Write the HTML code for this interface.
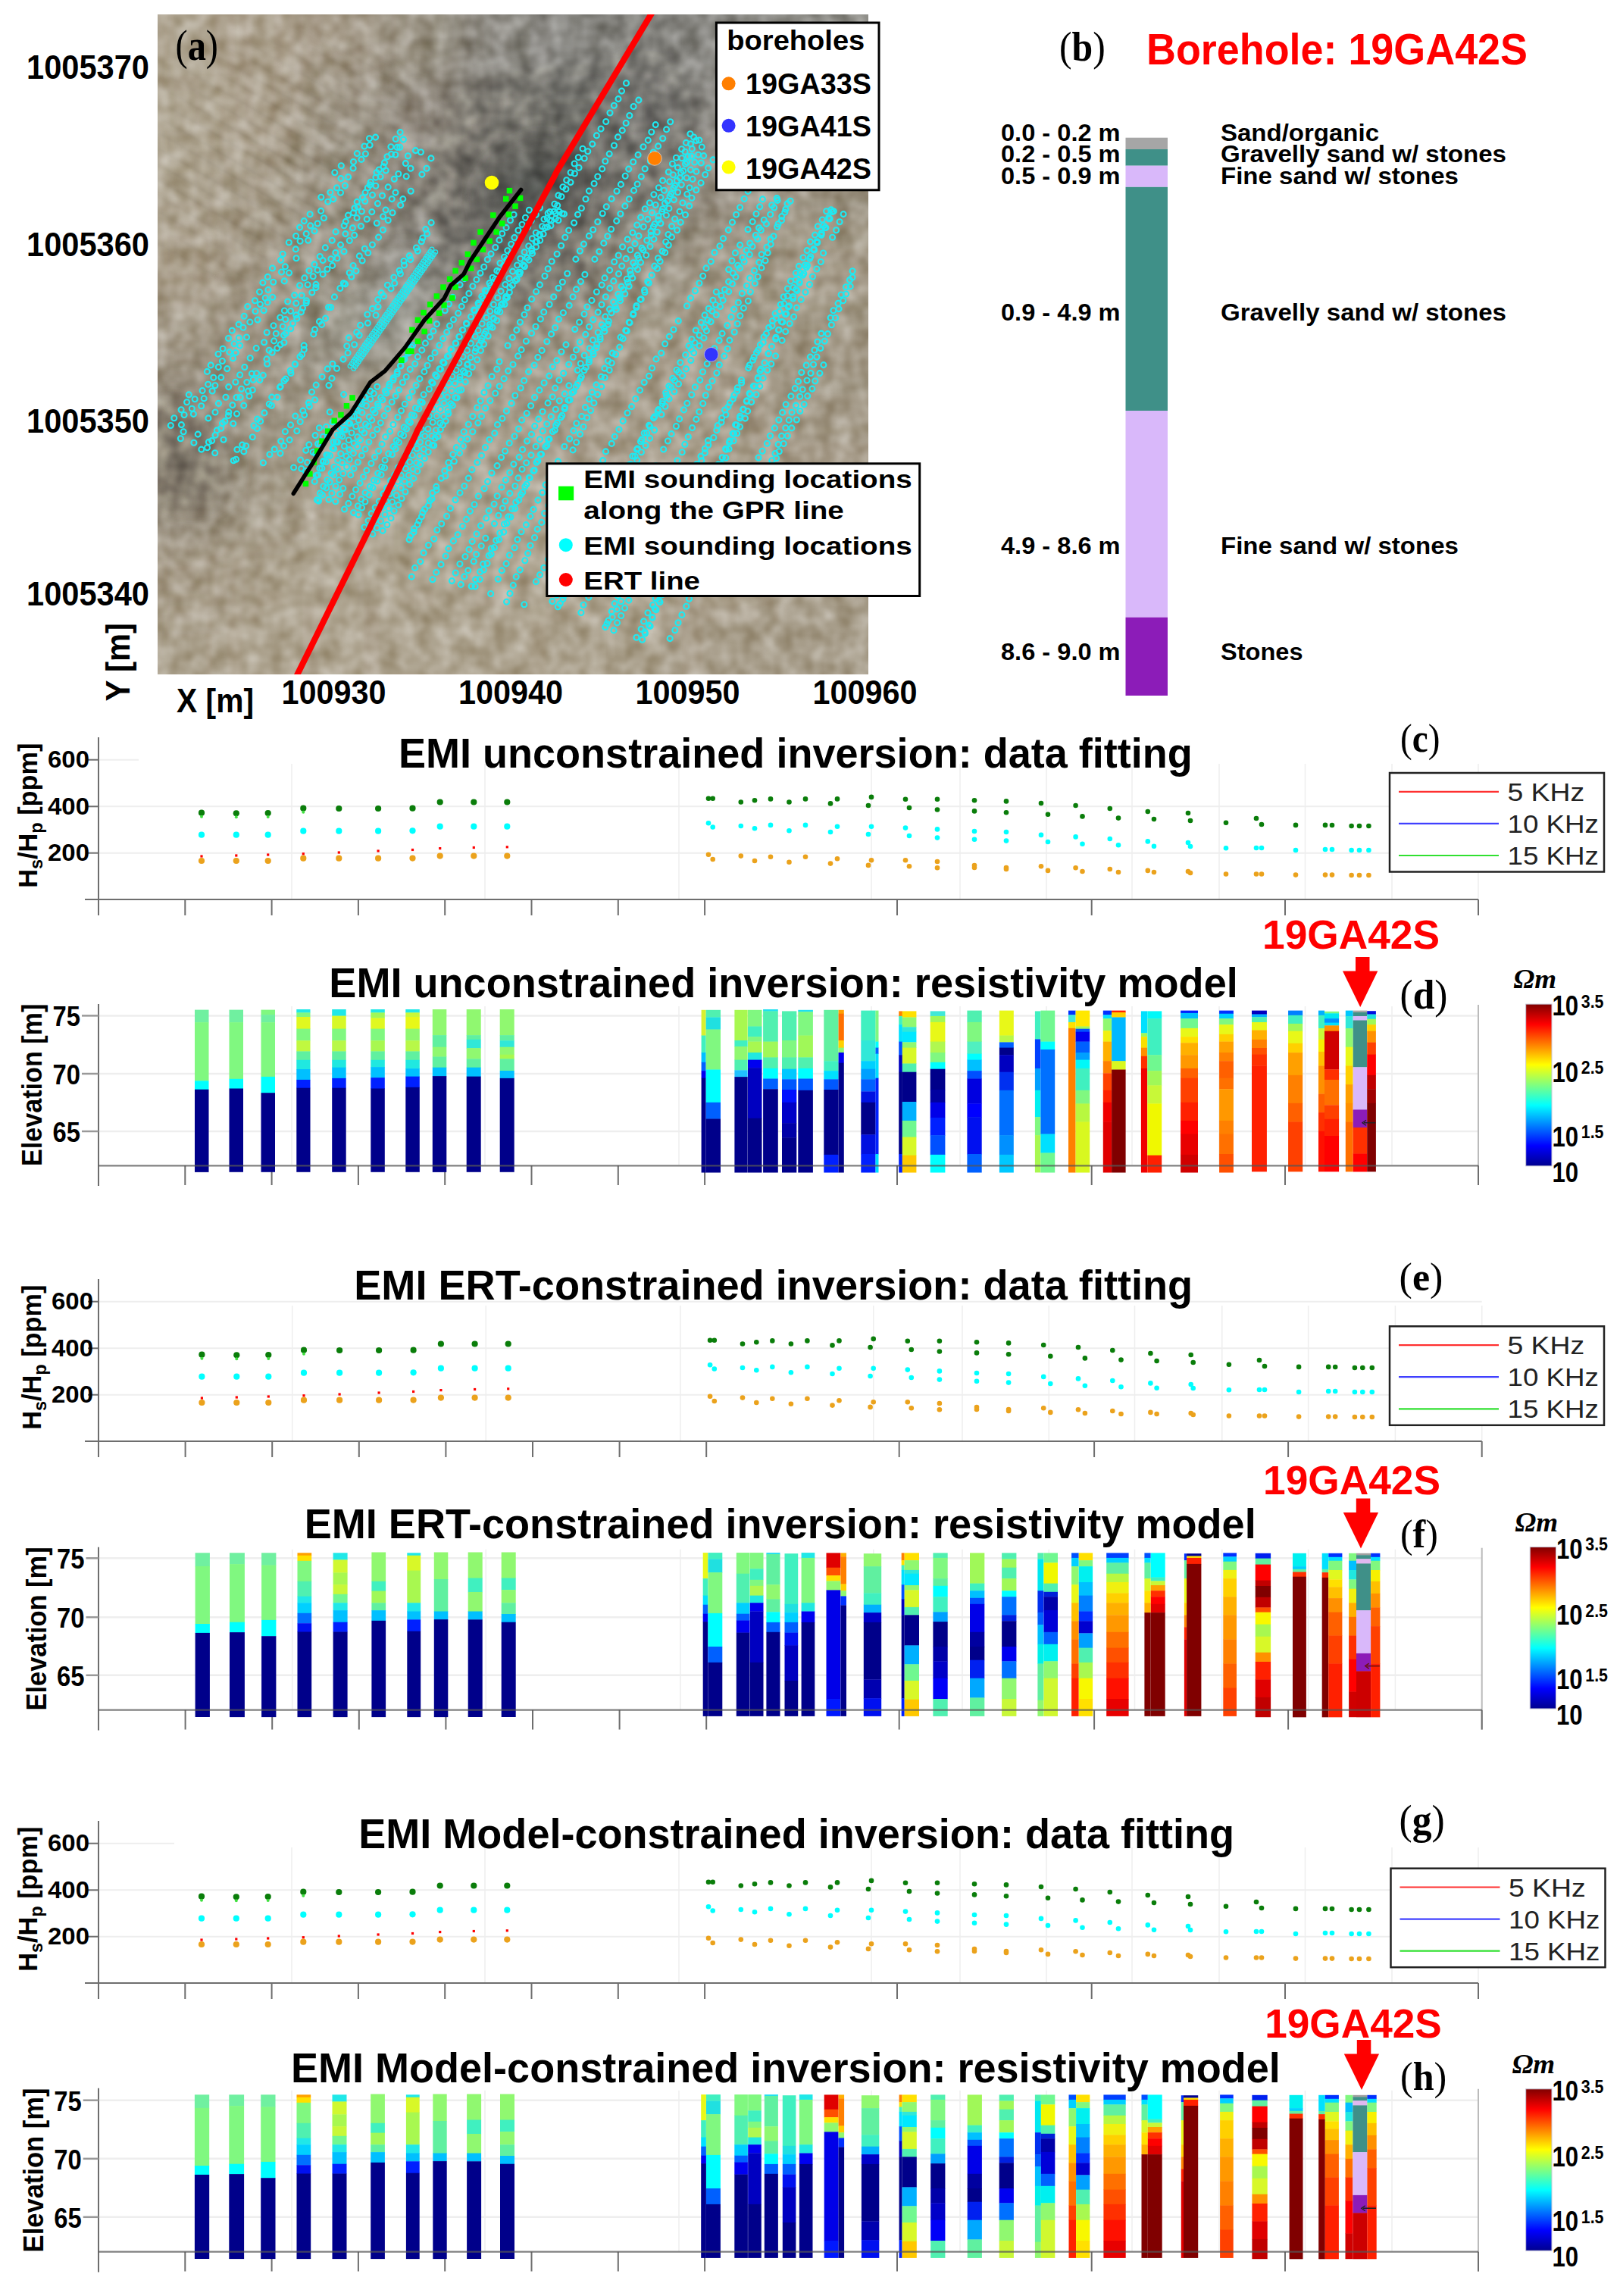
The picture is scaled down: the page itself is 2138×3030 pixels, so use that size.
<!DOCTYPE html>
<html><head><meta charset="utf-8"><title>EMI inversion figure</title>
<style>html,body{margin:0;padding:0;background:#fff;}svg{display:block;}</style></head>
<body><svg width="2138" height="3030" viewBox="0 0 2138 3030">
<rect width="2138" height="3030" fill="#fff"/>
<defs>
<clipPath id="mapclip"><rect x="208" y="19" width="938" height="871"/></clipPath>
<filter id="blur40" x="-50%" y="-50%" width="200%" height="200%"><feGaussianBlur stdDeviation="40"/></filter>
<filter id="blur30" x="-20%" y="-20%" width="140%" height="140%"><feGaussianBlur stdDeviation="30"/></filter>
<filter id="blur20" x="-50%" y="-50%" width="200%" height="200%"><feGaussianBlur stdDeviation="20"/></filter>
<filter id="blur2" x="-10%" y="-10%" width="120%" height="120%"><feGaussianBlur stdDeviation="2"/></filter>
<filter id="blur10" x="-50%" y="-50%" width="200%" height="200%"><feGaussianBlur stdDeviation="10"/></filter>
<filter id="noise" color-interpolation-filters="sRGB" x="0" y="0" width="100%" height="100%"><feTurbulence type="fractalNoise" baseFrequency="0.04" numOctaves="2" seed="3"/><feColorMatrix type="matrix" values="1.1 0 0 0 -0.05  1.1 0 0 0 -0.05  1.1 0 0 0 -0.05  0 0 0 0 1"/></filter>
</defs>
<g clip-path="url(#mapclip)">
<rect x="208" y="19" width="938" height="871" fill="#aea593"/>
<g filter="url(#blur30)">
<rect x="158" y="-60" width="142" height="160" fill="#ada38f"/>
<rect x="300" y="-60" width="100" height="160" fill="#aa9f8b"/>
<rect x="400" y="-60" width="100" height="160" fill="#a59a88"/>
<rect x="500" y="-60" width="100" height="160" fill="#9c9586"/>
<rect x="600" y="-60" width="100" height="160" fill="#8d8a83"/>
<rect x="700" y="-60" width="100" height="160" fill="#8a8984"/>
<rect x="800" y="-60" width="100" height="160" fill="#82817c"/>
<rect x="900" y="-60" width="100" height="160" fill="#898883"/>
<rect x="1000" y="-60" width="250" height="160" fill="#8b8a84"/>
<rect x="158" y="100" width="142" height="100" fill="#aea490"/>
<rect x="300" y="100" width="100" height="100" fill="#aa9f8b"/>
<rect x="400" y="100" width="100" height="100" fill="#9f9686"/>
<rect x="500" y="100" width="100" height="100" fill="#928a7f"/>
<rect x="600" y="100" width="100" height="100" fill="#7b7972"/>
<rect x="700" y="100" width="100" height="100" fill="#6b6b65"/>
<rect x="800" y="100" width="100" height="100" fill="#72716d"/>
<rect x="900" y="100" width="100" height="100" fill="#87857f"/>
<rect x="1000" y="100" width="250" height="100" fill="#8c8a83"/>
<rect x="158" y="200" width="142" height="100" fill="#aca28e"/>
<rect x="300" y="200" width="100" height="100" fill="#a69b88"/>
<rect x="400" y="200" width="100" height="100" fill="#989080"/>
<rect x="500" y="200" width="100" height="100" fill="#8a857c"/>
<rect x="600" y="200" width="100" height="100" fill="#63625d"/>
<rect x="700" y="200" width="100" height="100" fill="#5b5a56"/>
<rect x="800" y="200" width="100" height="100" fill="#848179"/>
<rect x="900" y="200" width="100" height="100" fill="#989083"/>
<rect x="1000" y="200" width="250" height="100" fill="#9f9686"/>
<rect x="158" y="300" width="142" height="100" fill="#aa9f8b"/>
<rect x="300" y="300" width="100" height="100" fill="#a19785"/>
<rect x="400" y="300" width="100" height="100" fill="#968f81"/>
<rect x="500" y="300" width="100" height="100" fill="#8c8981"/>
<rect x="600" y="300" width="100" height="100" fill="#77746f"/>
<rect x="700" y="300" width="100" height="100" fill="#807c72"/>
<rect x="800" y="300" width="100" height="100" fill="#9b9485"/>
<rect x="900" y="300" width="100" height="100" fill="#a29988"/>
<rect x="1000" y="300" width="250" height="100" fill="#a69c8a"/>
<rect x="158" y="400" width="142" height="100" fill="#a39987"/>
<rect x="300" y="400" width="100" height="100" fill="#9d9484"/>
<rect x="400" y="400" width="100" height="100" fill="#989487"/>
<rect x="500" y="400" width="100" height="100" fill="#99958a"/>
<rect x="600" y="400" width="100" height="100" fill="#9b9485"/>
<rect x="700" y="400" width="100" height="100" fill="#a09787"/>
<rect x="800" y="400" width="100" height="100" fill="#a69c8a"/>
<rect x="900" y="400" width="100" height="100" fill="#a49a88"/>
<rect x="1000" y="400" width="250" height="100" fill="#a39987"/>
<rect x="158" y="500" width="142" height="100" fill="#8c8375"/>
<rect x="300" y="500" width="100" height="100" fill="#9e9685"/>
<rect x="400" y="500" width="100" height="100" fill="#a59b8b"/>
<rect x="500" y="500" width="100" height="100" fill="#a79d8b"/>
<rect x="600" y="500" width="100" height="100" fill="#a89e8c"/>
<rect x="700" y="500" width="100" height="100" fill="#a99f8d"/>
<rect x="800" y="500" width="100" height="100" fill="#a79d8b"/>
<rect x="900" y="500" width="100" height="100" fill="#a79d8b"/>
<rect x="1000" y="500" width="250" height="100" fill="#a49a88"/>
<rect x="158" y="600" width="142" height="100" fill="#898172"/>
<rect x="300" y="600" width="100" height="100" fill="#a39986"/>
<rect x="400" y="600" width="100" height="100" fill="#aaa08d"/>
<rect x="500" y="600" width="100" height="100" fill="#aba28f"/>
<rect x="600" y="600" width="100" height="100" fill="#aba290"/>
<rect x="700" y="600" width="100" height="100" fill="#aba18f"/>
<rect x="800" y="600" width="100" height="100" fill="#aba18f"/>
<rect x="900" y="600" width="100" height="100" fill="#aba18e"/>
<rect x="1000" y="600" width="250" height="100" fill="#a89e8b"/>
<rect x="158" y="700" width="142" height="100" fill="#a79c89"/>
<rect x="300" y="700" width="100" height="100" fill="#aca28e"/>
<rect x="400" y="700" width="100" height="100" fill="#aea490"/>
<rect x="500" y="700" width="100" height="100" fill="#aca28e"/>
<rect x="600" y="700" width="100" height="100" fill="#aea490"/>
<rect x="700" y="700" width="100" height="100" fill="#ada38f"/>
<rect x="800" y="700" width="100" height="100" fill="#aca28e"/>
<rect x="900" y="700" width="100" height="100" fill="#aa9f8b"/>
<rect x="1000" y="700" width="250" height="100" fill="#a89e8b"/>
<rect x="158" y="800" width="142" height="160" fill="#aba18d"/>
<rect x="300" y="800" width="100" height="160" fill="#ada38f"/>
<rect x="400" y="800" width="100" height="160" fill="#aea490"/>
<rect x="500" y="800" width="100" height="160" fill="#ada38f"/>
<rect x="600" y="800" width="100" height="160" fill="#ada38f"/>
<rect x="700" y="800" width="100" height="160" fill="#aca28e"/>
<rect x="800" y="800" width="100" height="160" fill="#aba18d"/>
<rect x="900" y="800" width="100" height="160" fill="#a99f8c"/>
<rect x="1000" y="800" width="250" height="160" fill="#a79d8a"/>
</g>
<ellipse cx="700" cy="250" rx="60" ry="40" transform="rotate(-40 700 250)" fill="#505250" opacity="0.7" filter="url(#blur20)"/>
<ellipse cx="520" cy="400" rx="60" ry="40" transform="rotate(-50 520 400)" fill="#a4a59f" opacity="0.5" filter="url(#blur20)"/>
<ellipse cx="240" cy="600" rx="40" ry="60" transform="rotate(-40 240 600)" fill="#7e776b" opacity="0.6" filter="url(#blur20)"/>
<defs><pattern id="stripes" patternUnits="userSpaceOnUse" width="18" height="18" patternTransform="rotate(30)"><rect width="18" height="6" fill="#fff"/><rect y="9" width="18" height="4" fill="#000"/></pattern><radialGradient id="stripefade" cx="0.5" cy="0.5" r="0.5"><stop offset="0" stop-color="#fff"/><stop offset="0.6" stop-color="#fff" stop-opacity="0.6"/><stop offset="1" stop-color="#fff" stop-opacity="0"/></radialGradient><mask id="stripemask"><ellipse cx="380" cy="220" rx="260" ry="200" fill="url(#stripefade)"/></mask></defs>
<rect x="208" y="19" width="500" height="450" fill="url(#stripes)" opacity="0.06" mask="url(#stripemask)" filter="url(#blur2)"/>
<rect x="208" y="19" width="938" height="871" filter="url(#noise)" opacity="0.4" style="mix-blend-mode:overlay"/>
</g>
<g fill="none" stroke="#1eeaf2" stroke-width="2.1" clip-path="url(#mapclip)">
<circle cx="225.3" cy="561.5" r="3.5"/>
<circle cx="229.8" cy="551.8" r="3.5"/>
<circle cx="239.1" cy="540.8" r="3.5"/>
<circle cx="246.6" cy="530.7" r="3.5"/>
<circle cx="249.3" cy="520.9" r="3.5"/>
<circle cx="273.4" cy="490.4" r="3.5"/>
<circle cx="278.2" cy="481.9" r="3.5"/>
<circle cx="288" cy="467.2" r="3.5"/>
<circle cx="294.1" cy="460.2" r="3.5"/>
<circle cx="301.5" cy="446.5" r="3.5"/>
<circle cx="306.3" cy="436.3" r="3.5"/>
<circle cx="315.1" cy="428.1" r="3.5"/>
<circle cx="322.2" cy="417.3" r="3.5"/>
<circle cx="326.8" cy="404.5" r="3.5"/>
<circle cx="336.5" cy="396.8" r="3.5"/>
<circle cx="342.5" cy="385.3" r="3.5"/>
<circle cx="346.9" cy="373.1" r="3.5"/>
<circle cx="353.3" cy="365.4" r="3.5"/>
<circle cx="359.5" cy="354" r="3.5"/>
<circle cx="370.6" cy="343.2" r="3.5"/>
<circle cx="373.2" cy="335.3" r="3.5"/>
<circle cx="381.3" cy="320" r="3.5"/>
<circle cx="390.6" cy="311.5" r="3.5"/>
<circle cx="395.5" cy="300.1" r="3.5"/>
<circle cx="401.3" cy="291.6" r="3.5"/>
<circle cx="409.1" cy="282.8" r="3.5"/>
<circle cx="423.8" cy="260.3" r="3.5"/>
<circle cx="441.8" cy="227.7" r="3.5"/>
<circle cx="450.3" cy="218.8" r="3.5"/>
<circle cx="239.4" cy="560.6" r="3.5"/>
<circle cx="243.1" cy="547.5" r="3.5"/>
<circle cx="253.3" cy="539.3" r="3.5"/>
<circle cx="257.2" cy="526.8" r="3.5"/>
<circle cx="267.1" cy="515.5" r="3.5"/>
<circle cx="274.6" cy="507.2" r="3.5"/>
<circle cx="281.8" cy="498.2" r="3.5"/>
<circle cx="288.3" cy="484.4" r="3.5"/>
<circle cx="293.4" cy="476.5" r="3.5"/>
<circle cx="302.8" cy="464.6" r="3.5"/>
<circle cx="309.1" cy="453.7" r="3.5"/>
<circle cx="315.2" cy="446" r="3.5"/>
<circle cx="321" cy="432.3" r="3.5"/>
<circle cx="329.8" cy="425" r="3.5"/>
<circle cx="337" cy="410.7" r="3.5"/>
<circle cx="343.4" cy="401.6" r="3.5"/>
<circle cx="350.2" cy="393.3" r="3.5"/>
<circle cx="353.9" cy="382.5" r="3.5"/>
<circle cx="360.7" cy="372.3" r="3.5"/>
<circle cx="371.5" cy="359" r="3.5"/>
<circle cx="376.4" cy="351.9" r="3.5"/>
<circle cx="390.3" cy="328.9" r="3.5"/>
<circle cx="396.1" cy="318.3" r="3.5"/>
<circle cx="404.2" cy="308.5" r="3.5"/>
<circle cx="409.7" cy="297.9" r="3.5"/>
<circle cx="423.6" cy="278.4" r="3.5"/>
<circle cx="432.7" cy="266.3" r="3.5"/>
<circle cx="435.9" cy="254" r="3.5"/>
<circle cx="444.5" cy="247.9" r="3.5"/>
<circle cx="449.9" cy="235.6" r="3.5"/>
<circle cx="466.5" cy="213.5" r="3.5"/>
<circle cx="471.3" cy="202.6" r="3.5"/>
<circle cx="480.9" cy="193" r="3.5"/>
<circle cx="487.5" cy="182.8" r="3.5"/>
<circle cx="238.4" cy="578.8" r="3.5"/>
<circle cx="242.1" cy="569.7" r="3.5"/>
<circle cx="255.4" cy="546.4" r="3.5"/>
<circle cx="265.7" cy="535.7" r="3.5"/>
<circle cx="269.2" cy="525.9" r="3.5"/>
<circle cx="280.1" cy="516" r="3.5"/>
<circle cx="283.9" cy="508.7" r="3.5"/>
<circle cx="291.8" cy="498.1" r="3.5"/>
<circle cx="299.7" cy="486.6" r="3.5"/>
<circle cx="307.5" cy="472.9" r="3.5"/>
<circle cx="311.1" cy="465.4" r="3.5"/>
<circle cx="316.6" cy="456.1" r="3.5"/>
<circle cx="325.5" cy="445" r="3.5"/>
<circle cx="340" cy="422.1" r="3.5"/>
<circle cx="348.1" cy="409.8" r="3.5"/>
<circle cx="353.1" cy="398.9" r="3.5"/>
<circle cx="359.7" cy="392.3" r="3.5"/>
<circle cx="375.2" cy="370.9" r="3.5"/>
<circle cx="381.5" cy="360.1" r="3.5"/>
<circle cx="391" cy="340.8" r="3.5"/>
<circle cx="406.7" cy="317.2" r="3.5"/>
<circle cx="415" cy="304.9" r="3.5"/>
<circle cx="419.1" cy="295" r="3.5"/>
<circle cx="427.4" cy="287.7" r="3.5"/>
<circle cx="439.7" cy="262.9" r="3.5"/>
<circle cx="449.5" cy="254.2" r="3.5"/>
<circle cx="455.4" cy="245.1" r="3.5"/>
<circle cx="459.6" cy="233.6" r="3.5"/>
<circle cx="466.1" cy="222" r="3.5"/>
<circle cx="476.9" cy="210.4" r="3.5"/>
<circle cx="482.4" cy="203" r="3.5"/>
<circle cx="488.1" cy="191.5" r="3.5"/>
<circle cx="495.6" cy="181.1" r="3.5"/>
<circle cx="255.9" cy="584.2" r="3.5"/>
<circle cx="261.2" cy="573.1" r="3.5"/>
<circle cx="274.9" cy="551.9" r="3.5"/>
<circle cx="284" cy="544" r="3.5"/>
<circle cx="288.4" cy="532.4" r="3.5"/>
<circle cx="298" cy="524.2" r="3.5"/>
<circle cx="301.7" cy="510.6" r="3.5"/>
<circle cx="310.9" cy="504.2" r="3.5"/>
<circle cx="316.6" cy="494.7" r="3.5"/>
<circle cx="322.8" cy="484.5" r="3.5"/>
<circle cx="330.2" cy="472.5" r="3.5"/>
<circle cx="338.2" cy="459.5" r="3.5"/>
<circle cx="348.6" cy="451.8" r="3.5"/>
<circle cx="352.2" cy="438.8" r="3.5"/>
<circle cx="361" cy="429.8" r="3.5"/>
<circle cx="369.7" cy="419" r="3.5"/>
<circle cx="375.4" cy="410" r="3.5"/>
<circle cx="379.7" cy="398" r="3.5"/>
<circle cx="388.6" cy="389.6" r="3.5"/>
<circle cx="395.6" cy="376.7" r="3.5"/>
<circle cx="401.9" cy="366.9" r="3.5"/>
<circle cx="408" cy="357.3" r="3.5"/>
<circle cx="414.9" cy="348.9" r="3.5"/>
<circle cx="422.2" cy="338.5" r="3.5"/>
<circle cx="429.3" cy="326.9" r="3.5"/>
<circle cx="438.3" cy="317.3" r="3.5"/>
<circle cx="443.1" cy="305.9" r="3.5"/>
<circle cx="454.2" cy="297.7" r="3.5"/>
<circle cx="459.5" cy="284.1" r="3.5"/>
<circle cx="468" cy="274.8" r="3.5"/>
<circle cx="471.2" cy="266.4" r="3.5"/>
<circle cx="482.1" cy="254.1" r="3.5"/>
<circle cx="488.2" cy="244" r="3.5"/>
<circle cx="495.9" cy="234.1" r="3.5"/>
<circle cx="500.3" cy="224" r="3.5"/>
<circle cx="507.5" cy="214.6" r="3.5"/>
<circle cx="516.5" cy="203.5" r="3.5"/>
<circle cx="524.1" cy="194.4" r="3.5"/>
<circle cx="265.8" cy="593.1" r="3.5"/>
<circle cx="275.4" cy="583.4" r="3.5"/>
<circle cx="284.1" cy="574.2" r="3.5"/>
<circle cx="291.7" cy="565.3" r="3.5"/>
<circle cx="296.8" cy="555.9" r="3.5"/>
<circle cx="301.8" cy="543.9" r="3.5"/>
<circle cx="317.1" cy="524.4" r="3.5"/>
<circle cx="327.6" cy="516.1" r="3.5"/>
<circle cx="334.2" cy="501.3" r="3.5"/>
<circle cx="338.6" cy="492.8" r="3.5"/>
<circle cx="352" cy="473.9" r="3.5"/>
<circle cx="359.2" cy="465.2" r="3.5"/>
<circle cx="370" cy="454.8" r="3.5"/>
<circle cx="374.6" cy="442.4" r="3.5"/>
<circle cx="383.7" cy="433.7" r="3.5"/>
<circle cx="391.8" cy="420.3" r="3.5"/>
<circle cx="397.4" cy="411.9" r="3.5"/>
<circle cx="404.1" cy="399.8" r="3.5"/>
<circle cx="416.9" cy="379.6" r="3.5"/>
<circle cx="438.7" cy="350.4" r="3.5"/>
<circle cx="445" cy="340.7" r="3.5"/>
<circle cx="454" cy="331.9" r="3.5"/>
<circle cx="461.3" cy="317.5" r="3.5"/>
<circle cx="467.7" cy="310.4" r="3.5"/>
<circle cx="476.4" cy="298.5" r="3.5"/>
<circle cx="484.2" cy="289.3" r="3.5"/>
<circle cx="490.8" cy="279.6" r="3.5"/>
<circle cx="498.4" cy="268.6" r="3.5"/>
<circle cx="504.5" cy="258.2" r="3.5"/>
<circle cx="512.2" cy="246.9" r="3.5"/>
<circle cx="520.3" cy="236.3" r="3.5"/>
<circle cx="525.8" cy="229.5" r="3.5"/>
<circle cx="535.3" cy="215.6" r="3.5"/>
<circle cx="538.4" cy="205.8" r="3.5"/>
<circle cx="548.4" cy="198.6" r="3.5"/>
<circle cx="273.5" cy="590.7" r="3.5"/>
<circle cx="279.6" cy="581.6" r="3.5"/>
<circle cx="286.3" cy="567.9" r="3.5"/>
<circle cx="293.5" cy="558.6" r="3.5"/>
<circle cx="301.4" cy="548.5" r="3.5"/>
<circle cx="306.9" cy="534.6" r="3.5"/>
<circle cx="312.1" cy="524.5" r="3.5"/>
<circle cx="318.6" cy="513.3" r="3.5"/>
<circle cx="325.8" cy="504.5" r="3.5"/>
<circle cx="332.3" cy="493.1" r="3.5"/>
<circle cx="355.2" cy="462.2" r="3.5"/>
<circle cx="361.6" cy="449.9" r="3.5"/>
<circle cx="364.3" cy="440.2" r="3.5"/>
<circle cx="373.3" cy="431" r="3.5"/>
<circle cx="376.8" cy="421.5" r="3.5"/>
<circle cx="383.6" cy="410.5" r="3.5"/>
<circle cx="390.8" cy="400.3" r="3.5"/>
<circle cx="398.2" cy="390" r="3.5"/>
<circle cx="406.1" cy="375.8" r="3.5"/>
<circle cx="413.2" cy="364.8" r="3.5"/>
<circle cx="419" cy="356.4" r="3.5"/>
<circle cx="426.1" cy="343.6" r="3.5"/>
<circle cx="456.3" cy="292.4" r="3.5"/>
<circle cx="466.5" cy="280.8" r="3.5"/>
<circle cx="472.5" cy="273.1" r="3.5"/>
<circle cx="478.5" cy="260.7" r="3.5"/>
<circle cx="485.3" cy="248" r="3.5"/>
<circle cx="489.2" cy="240.2" r="3.5"/>
<circle cx="497" cy="227.7" r="3.5"/>
<circle cx="506" cy="219.9" r="3.5"/>
<circle cx="511" cy="206.8" r="3.5"/>
<circle cx="515.9" cy="193.8" r="3.5"/>
<circle cx="522.2" cy="183.5" r="3.5"/>
<circle cx="528.1" cy="174.6" r="3.5"/>
<circle cx="283.7" cy="597.8" r="3.5"/>
<circle cx="295" cy="580.2" r="3.5"/>
<circle cx="307.8" cy="559.1" r="3.5"/>
<circle cx="312.5" cy="546.1" r="3.5"/>
<circle cx="321.8" cy="535.1" r="3.5"/>
<circle cx="328.9" cy="522.8" r="3.5"/>
<circle cx="333.3" cy="514.7" r="3.5"/>
<circle cx="342.8" cy="501.5" r="3.5"/>
<circle cx="347.3" cy="495.2" r="3.5"/>
<circle cx="352.6" cy="480.2" r="3.5"/>
<circle cx="365.8" cy="459.5" r="3.5"/>
<circle cx="374.9" cy="452" r="3.5"/>
<circle cx="377.5" cy="439.8" r="3.5"/>
<circle cx="386.5" cy="426.7" r="3.5"/>
<circle cx="390.8" cy="415.9" r="3.5"/>
<circle cx="399.5" cy="406.5" r="3.5"/>
<circle cx="404.4" cy="396.8" r="3.5"/>
<circle cx="411.8" cy="386.1" r="3.5"/>
<circle cx="417" cy="375.4" r="3.5"/>
<circle cx="426.1" cy="361.9" r="3.5"/>
<circle cx="431.9" cy="355.2" r="3.5"/>
<circle cx="436.8" cy="341.7" r="3.5"/>
<circle cx="442.9" cy="333.5" r="3.5"/>
<circle cx="449.5" cy="323.1" r="3.5"/>
<circle cx="455.9" cy="308.6" r="3.5"/>
<circle cx="465.4" cy="300.9" r="3.5"/>
<circle cx="471" cy="287.6" r="3.5"/>
<circle cx="477.4" cy="279" r="3.5"/>
<circle cx="481.7" cy="265.5" r="3.5"/>
<circle cx="491.5" cy="257.4" r="3.5"/>
<circle cx="495.9" cy="245.3" r="3.5"/>
<circle cx="502.1" cy="233.2" r="3.5"/>
<circle cx="509.2" cy="225" r="3.5"/>
<circle cx="521.9" cy="204.2" r="3.5"/>
<circle cx="527.6" cy="194.4" r="3.5"/>
<circle cx="532.4" cy="184.1" r="3.5"/>
<circle cx="308.2" cy="607.7" r="3.5"/>
<circle cx="312.9" cy="593.3" r="3.5"/>
<circle cx="319.7" cy="587.1" r="3.5"/>
<circle cx="335.1" cy="561.7" r="3.5"/>
<circle cx="339.6" cy="553.1" r="3.5"/>
<circle cx="348.9" cy="544.9" r="3.5"/>
<circle cx="355.3" cy="533.3" r="3.5"/>
<circle cx="358.7" cy="524.1" r="3.5"/>
<circle cx="370.1" cy="510.1" r="3.5"/>
<circle cx="374.9" cy="502.5" r="3.5"/>
<circle cx="383.9" cy="492.5" r="3.5"/>
<circle cx="389.5" cy="480.7" r="3.5"/>
<circle cx="395.9" cy="470.8" r="3.5"/>
<circle cx="401.3" cy="461.3" r="3.5"/>
<circle cx="413.8" cy="440.9" r="3.5"/>
<circle cx="424.6" cy="428.4" r="3.5"/>
<circle cx="429.6" cy="420.1" r="3.5"/>
<circle cx="436.6" cy="405.6" r="3.5"/>
<circle cx="455.6" cy="374.9" r="3.5"/>
<circle cx="463.8" cy="365.3" r="3.5"/>
<circle cx="469.9" cy="357.5" r="3.5"/>
<circle cx="478.1" cy="344" r="3.5"/>
<circle cx="485.7" cy="333.7" r="3.5"/>
<circle cx="491.4" cy="323" r="3.5"/>
<circle cx="499.5" cy="313.1" r="3.5"/>
<circle cx="505.4" cy="303.5" r="3.5"/>
<circle cx="512.2" cy="290.7" r="3.5"/>
<circle cx="518" cy="280.8" r="3.5"/>
<circle cx="528.6" cy="270.7" r="3.5"/>
<circle cx="531.8" cy="262.6" r="3.5"/>
<circle cx="542.2" cy="252.2" r="3.5"/>
<circle cx="556.9" cy="230.1" r="3.5"/>
<circle cx="563.1" cy="222.2" r="3.5"/>
<circle cx="568.9" cy="208.9" r="3.5"/>
<circle cx="311.5" cy="606.3" r="3.5"/>
<circle cx="321.8" cy="595.9" r="3.5"/>
<circle cx="324.7" cy="588.5" r="3.5"/>
<circle cx="333.3" cy="576.7" r="3.5"/>
<circle cx="339.4" cy="565.5" r="3.5"/>
<circle cx="343.6" cy="555.9" r="3.5"/>
<circle cx="358.4" cy="535.3" r="3.5"/>
<circle cx="365.9" cy="524.2" r="3.5"/>
<circle cx="369.4" cy="511.1" r="3.5"/>
<circle cx="377.1" cy="500.1" r="3.5"/>
<circle cx="383.3" cy="489" r="3.5"/>
<circle cx="389.3" cy="480.4" r="3.5"/>
<circle cx="398.7" cy="467.8" r="3.5"/>
<circle cx="401.2" cy="455.9" r="3.5"/>
<circle cx="415.5" cy="434.9" r="3.5"/>
<circle cx="421.5" cy="424.4" r="3.5"/>
<circle cx="433.6" cy="405.5" r="3.5"/>
<circle cx="441.4" cy="391.9" r="3.5"/>
<circle cx="448.8" cy="380.5" r="3.5"/>
<circle cx="453.4" cy="373.8" r="3.5"/>
<circle cx="461.2" cy="360" r="3.5"/>
<circle cx="466.1" cy="350.5" r="3.5"/>
<circle cx="474.3" cy="337.9" r="3.5"/>
<circle cx="481.3" cy="328.2" r="3.5"/>
<circle cx="497.3" cy="294.5" r="3.5"/>
<circle cx="505.6" cy="285.8" r="3.5"/>
<circle cx="509.1" cy="277.1" r="3.5"/>
<circle cx="517.2" cy="262.6" r="3.5"/>
<circle cx="522" cy="254.1" r="3.5"/>
<circle cx="536.2" cy="232.7" r="3.5"/>
<circle cx="542" cy="222.3" r="3.5"/>
<circle cx="555.4" cy="200.7" r="3.5"/>
<circle cx="347.4" cy="610.7" r="3.5"/>
<circle cx="355.9" cy="599.8" r="3.5"/>
<circle cx="362.2" cy="592.9" r="3.5"/>
<circle cx="370.7" cy="582.3" r="3.5"/>
<circle cx="376.4" cy="569.5" r="3.5"/>
<circle cx="383.5" cy="560.7" r="3.5"/>
<circle cx="389.8" cy="549.1" r="3.5"/>
<circle cx="399.8" cy="542.1" r="3.5"/>
<circle cx="407.3" cy="531.6" r="3.5"/>
<circle cx="411.5" cy="517.4" r="3.5"/>
<circle cx="417.2" cy="508.1" r="3.5"/>
<circle cx="425.1" cy="497.2" r="3.5"/>
<circle cx="432.1" cy="486.9" r="3.5"/>
<circle cx="438.9" cy="480.2" r="3.5"/>
<circle cx="457.8" cy="456.8" r="3.5"/>
<circle cx="460.4" cy="445.9" r="3.5"/>
<circle cx="470.7" cy="438.5" r="3.5"/>
<circle cx="475.6" cy="429.3" r="3.5"/>
<circle cx="484.8" cy="415" r="3.5"/>
<circle cx="491.5" cy="407.4" r="3.5"/>
<circle cx="498.7" cy="395.6" r="3.5"/>
<circle cx="503.2" cy="386.6" r="3.5"/>
<circle cx="511.4" cy="376.3" r="3.5"/>
<circle cx="519.8" cy="366" r="3.5"/>
<circle cx="527.1" cy="357.1" r="3.5"/>
<circle cx="533" cy="344.5" r="3.5"/>
<circle cx="540.3" cy="337.6" r="3.5"/>
<circle cx="549.5" cy="327" r="3.5"/>
<circle cx="557.9" cy="314" r="3.5"/>
<circle cx="561.8" cy="302.6" r="3.5"/>
<circle cx="569.1" cy="293.9" r="3.5"/>
<circle cx="369.9" cy="598.3" r="3.5"/>
<circle cx="374.7" cy="588.4" r="3.5"/>
<circle cx="382.1" cy="580.6" r="3.5"/>
<circle cx="391.8" cy="568.8" r="3.5"/>
<circle cx="396.2" cy="556.5" r="3.5"/>
<circle cx="401.7" cy="547.6" r="3.5"/>
<circle cx="408.3" cy="536.3" r="3.5"/>
<circle cx="415.6" cy="527.8" r="3.5"/>
<circle cx="434" cy="508.6" r="3.5"/>
<circle cx="438" cy="499.2" r="3.5"/>
<circle cx="444.5" cy="486.2" r="3.5"/>
<circle cx="453" cy="474.1" r="3.5"/>
<circle cx="459.1" cy="465.8" r="3.5"/>
<circle cx="467.7" cy="454.7" r="3.5"/>
<circle cx="474.1" cy="442.5" r="3.5"/>
<circle cx="485.4" cy="426.4" r="3.5"/>
<circle cx="496.1" cy="416" r="3.5"/>
<circle cx="499" cy="404.8" r="3.5"/>
<circle cx="506.4" cy="390.9" r="3.5"/>
<circle cx="516" cy="380.9" r="3.5"/>
<circle cx="520.7" cy="373.7" r="3.5"/>
<circle cx="528.4" cy="361.2" r="3.5"/>
<circle cx="533.5" cy="350" r="3.5"/>
<circle cx="541.7" cy="342.5" r="3.5"/>
<circle cx="551.2" cy="331.2" r="3.5"/>
<circle cx="556.3" cy="318.7" r="3.5"/>
<circle cx="563.6" cy="308.4" r="3.5"/>
<circle cx="387.6" cy="617" r="3.5"/>
<circle cx="396.6" cy="607" r="3.5"/>
<circle cx="403.7" cy="594.3" r="3.5"/>
<circle cx="407.8" cy="586.9" r="3.5"/>
<circle cx="416" cy="574.6" r="3.5"/>
<circle cx="421.4" cy="564.8" r="3.5"/>
<circle cx="435.2" cy="543.7" r="3.5"/>
<circle cx="453.6" cy="520.6" r="3.5"/>
<circle cx="397.7" cy="618.5" r="3.5"/>
<circle cx="405.7" cy="610.3" r="3.5"/>
<circle cx="413.1" cy="596.8" r="3.5"/>
<circle cx="419.6" cy="585.8" r="3.5"/>
<circle cx="426.5" cy="576.2" r="3.5"/>
<circle cx="430.6" cy="563.2" r="3.5"/>
<circle cx="439.1" cy="556.7" r="3.5"/>
<circle cx="403.4" cy="621.7" r="3.5"/>
<circle cx="416.6" cy="598.7" r="3.5"/>
<circle cx="422.4" cy="585.8" r="3.5"/>
<circle cx="432.5" cy="576.6" r="3.5"/>
<circle cx="426.8" cy="608.3" r="3.5"/>
<circle cx="432.3" cy="600.6" r="3.5"/>
<circle cx="439" cy="591.5" r="3.5"/>
<circle cx="443.5" cy="583" r="3.5"/>
<circle cx="449.3" cy="574" r="3.5"/>
<circle cx="453.9" cy="566.8" r="3.5"/>
<circle cx="459.8" cy="558.1" r="3.5"/>
<circle cx="464.7" cy="549.4" r="3.5"/>
<circle cx="469.9" cy="540.3" r="3.5"/>
<circle cx="475.2" cy="531.6" r="3.5"/>
<circle cx="480.8" cy="524.7" r="3.5"/>
<circle cx="415.2" cy="635.4" r="3.5"/>
<circle cx="419.5" cy="626.7" r="3.5"/>
<circle cx="424.9" cy="618" r="3.5"/>
<circle cx="430.3" cy="609.5" r="3.5"/>
<circle cx="435.5" cy="601.4" r="3.5"/>
<circle cx="440.6" cy="592" r="3.5"/>
<circle cx="445.5" cy="583.5" r="3.5"/>
<circle cx="452" cy="575.9" r="3.5"/>
<circle cx="455.9" cy="567.2" r="3.5"/>
<circle cx="461.6" cy="559" r="3.5"/>
<circle cx="467.7" cy="549.5" r="3.5"/>
<circle cx="472.4" cy="541.9" r="3.5"/>
<circle cx="477.8" cy="533.2" r="3.5"/>
<circle cx="482.1" cy="524.3" r="3.5"/>
<circle cx="488.8" cy="516.3" r="3.5"/>
<circle cx="417.4" cy="627.5" r="3.5"/>
<circle cx="421.9" cy="618" r="3.5"/>
<circle cx="426.4" cy="609.4" r="3.5"/>
<circle cx="430.9" cy="600.4" r="3.5"/>
<circle cx="440" cy="583.5" r="3.5"/>
<circle cx="445.5" cy="574.2" r="3.5"/>
<circle cx="448.9" cy="565.5" r="3.5"/>
<circle cx="454" cy="556.9" r="3.5"/>
<circle cx="420.5" cy="661.1" r="3.5"/>
<circle cx="425.4" cy="653.2" r="3.5"/>
<circle cx="430.7" cy="643.9" r="3.5"/>
<circle cx="435.1" cy="636.3" r="3.5"/>
<circle cx="440.8" cy="626.8" r="3.5"/>
<circle cx="445.3" cy="619.2" r="3.5"/>
<circle cx="451.7" cy="610.5" r="3.5"/>
<circle cx="457" cy="602" r="3.5"/>
<circle cx="461" cy="593.6" r="3.5"/>
<circle cx="467.2" cy="584.9" r="3.5"/>
<circle cx="471.8" cy="576.6" r="3.5"/>
<circle cx="477.3" cy="567.5" r="3.5"/>
<circle cx="482.5" cy="559.7" r="3.5"/>
<circle cx="487.3" cy="550.3" r="3.5"/>
<circle cx="492.4" cy="541.1" r="3.5"/>
<circle cx="498.5" cy="533" r="3.5"/>
<circle cx="502.6" cy="524.8" r="3.5"/>
<circle cx="508.5" cy="516.1" r="3.5"/>
<circle cx="513.9" cy="506.9" r="3.5"/>
<circle cx="519.2" cy="498.9" r="3.5"/>
<circle cx="524.3" cy="490.6" r="3.5"/>
<circle cx="528.4" cy="482.7" r="3.5"/>
<circle cx="534" cy="473.7" r="3.5"/>
<circle cx="539.7" cy="465.3" r="3.5"/>
<circle cx="544.5" cy="455.8" r="3.5"/>
<circle cx="418.5" cy="659.7" r="3.5"/>
<circle cx="422.5" cy="650.9" r="3.5"/>
<circle cx="426.8" cy="641.8" r="3.5"/>
<circle cx="431.9" cy="633.2" r="3.5"/>
<circle cx="437.2" cy="624.4" r="3.5"/>
<circle cx="440.9" cy="616.3" r="3.5"/>
<circle cx="445.8" cy="607.4" r="3.5"/>
<circle cx="449.8" cy="598.7" r="3.5"/>
<circle cx="454.4" cy="588.8" r="3.5"/>
<circle cx="460.2" cy="580.8" r="3.5"/>
<circle cx="464" cy="571.2" r="3.5"/>
<circle cx="469.6" cy="562.8" r="3.5"/>
<circle cx="473.2" cy="554.4" r="3.5"/>
<circle cx="477.8" cy="544.4" r="3.5"/>
<circle cx="483.3" cy="535.5" r="3.5"/>
<circle cx="488.7" cy="526.8" r="3.5"/>
<circle cx="493.3" cy="519.2" r="3.5"/>
<circle cx="497.8" cy="510.3" r="3.5"/>
<circle cx="434" cy="659.2" r="3.5"/>
<circle cx="437.9" cy="651" r="3.5"/>
<circle cx="443" cy="641.6" r="3.5"/>
<circle cx="447.6" cy="633.4" r="3.5"/>
<circle cx="452.8" cy="624.9" r="3.5"/>
<circle cx="457.6" cy="616.3" r="3.5"/>
<circle cx="461.1" cy="606.3" r="3.5"/>
<circle cx="466.4" cy="598.1" r="3.5"/>
<circle cx="471.6" cy="589.2" r="3.5"/>
<circle cx="475.5" cy="580.9" r="3.5"/>
<circle cx="480.7" cy="571.3" r="3.5"/>
<circle cx="486.3" cy="562.4" r="3.5"/>
<circle cx="490.8" cy="554.4" r="3.5"/>
<circle cx="495" cy="544.6" r="3.5"/>
<circle cx="499.1" cy="536.4" r="3.5"/>
<circle cx="504.9" cy="527.8" r="3.5"/>
<circle cx="509.8" cy="518.7" r="3.5"/>
<circle cx="513.5" cy="510.5" r="3.5"/>
<circle cx="518.9" cy="501.5" r="3.5"/>
<circle cx="524.1" cy="493.3" r="3.5"/>
<circle cx="528.9" cy="483" r="3.5"/>
<circle cx="532.3" cy="475.1" r="3.5"/>
<circle cx="538.3" cy="466.3" r="3.5"/>
<circle cx="542.9" cy="458.1" r="3.5"/>
<circle cx="442.8" cy="661.7" r="3.5"/>
<circle cx="448.6" cy="652.3" r="3.5"/>
<circle cx="452.8" cy="644.5" r="3.5"/>
<circle cx="462.8" cy="626.8" r="3.5"/>
<circle cx="466.9" cy="618.3" r="3.5"/>
<circle cx="472.3" cy="610" r="3.5"/>
<circle cx="477.3" cy="601.1" r="3.5"/>
<circle cx="482" cy="592.8" r="3.5"/>
<circle cx="486.8" cy="583.2" r="3.5"/>
<circle cx="492" cy="574.4" r="3.5"/>
<circle cx="497.7" cy="566.6" r="3.5"/>
<circle cx="502.3" cy="558.1" r="3.5"/>
<circle cx="507.1" cy="548.6" r="3.5"/>
<circle cx="511.6" cy="539.6" r="3.5"/>
<circle cx="517.2" cy="530.5" r="3.5"/>
<circle cx="522.2" cy="522.6" r="3.5"/>
<circle cx="526.4" cy="514.7" r="3.5"/>
<circle cx="531.4" cy="504.8" r="3.5"/>
<circle cx="536.2" cy="497.4" r="3.5"/>
<circle cx="541.2" cy="487.4" r="3.5"/>
<circle cx="547.7" cy="480.1" r="3.5"/>
<circle cx="551.3" cy="470.9" r="3.5"/>
<circle cx="556.8" cy="462.1" r="3.5"/>
<circle cx="561.4" cy="452.9" r="3.5"/>
<circle cx="567.5" cy="444.6" r="3.5"/>
<circle cx="571.9" cy="436.9" r="3.5"/>
<circle cx="576.4" cy="427.6" r="3.5"/>
<circle cx="587.3" cy="409.7" r="3.5"/>
<circle cx="592.4" cy="401.3" r="3.5"/>
<circle cx="597.5" cy="392.2" r="3.5"/>
<circle cx="607" cy="375.8" r="3.5"/>
<circle cx="613" cy="367.6" r="3.5"/>
<circle cx="454.5" cy="672" r="3.5"/>
<circle cx="459.9" cy="664.4" r="3.5"/>
<circle cx="464.9" cy="654.9" r="3.5"/>
<circle cx="469.6" cy="646.3" r="3.5"/>
<circle cx="475.1" cy="637.6" r="3.5"/>
<circle cx="479.6" cy="629.2" r="3.5"/>
<circle cx="483.8" cy="620.9" r="3.5"/>
<circle cx="489.9" cy="611.5" r="3.5"/>
<circle cx="494.6" cy="603.2" r="3.5"/>
<circle cx="499.6" cy="595.2" r="3.5"/>
<circle cx="504.1" cy="586.3" r="3.5"/>
<circle cx="508.7" cy="576.6" r="3.5"/>
<circle cx="514.6" cy="569.3" r="3.5"/>
<circle cx="518.9" cy="560.3" r="3.5"/>
<circle cx="524.8" cy="550.8" r="3.5"/>
<circle cx="529.6" cy="542.1" r="3.5"/>
<circle cx="534.3" cy="533.3" r="3.5"/>
<circle cx="539.9" cy="524.8" r="3.5"/>
<circle cx="544.2" cy="516.9" r="3.5"/>
<circle cx="549.1" cy="508.6" r="3.5"/>
<circle cx="553.9" cy="499.9" r="3.5"/>
<circle cx="559.9" cy="490.4" r="3.5"/>
<circle cx="564" cy="482.3" r="3.5"/>
<circle cx="568.5" cy="472.9" r="3.5"/>
<circle cx="574" cy="465.4" r="3.5"/>
<circle cx="579.9" cy="455.8" r="3.5"/>
<circle cx="584.7" cy="446.9" r="3.5"/>
<circle cx="589.7" cy="438.4" r="3.5"/>
<circle cx="593.5" cy="430" r="3.5"/>
<circle cx="598.5" cy="421.7" r="3.5"/>
<circle cx="604.7" cy="413.4" r="3.5"/>
<circle cx="609.2" cy="404.4" r="3.5"/>
<circle cx="613.3" cy="395.6" r="3.5"/>
<circle cx="618.9" cy="387.2" r="3.5"/>
<circle cx="623.9" cy="377.8" r="3.5"/>
<circle cx="628.9" cy="369.1" r="3.5"/>
<circle cx="633.9" cy="360.4" r="3.5"/>
<circle cx="638.7" cy="352.2" r="3.5"/>
<circle cx="643.3" cy="342.5" r="3.5"/>
<circle cx="648" cy="335.1" r="3.5"/>
<circle cx="653.8" cy="326.5" r="3.5"/>
<circle cx="658.9" cy="316.9" r="3.5"/>
<circle cx="662.7" cy="308.2" r="3.5"/>
<circle cx="668.1" cy="300.4" r="3.5"/>
<circle cx="673.5" cy="290.7" r="3.5"/>
<circle cx="678.1" cy="283.2" r="3.5"/>
<circle cx="466.6" cy="676.6" r="3.5"/>
<circle cx="472.4" cy="667.8" r="3.5"/>
<circle cx="476.8" cy="658.7" r="3.5"/>
<circle cx="482" cy="650.1" r="3.5"/>
<circle cx="488.3" cy="642.1" r="3.5"/>
<circle cx="493.5" cy="633.9" r="3.5"/>
<circle cx="498.7" cy="624.6" r="3.5"/>
<circle cx="503.8" cy="616.3" r="3.5"/>
<circle cx="508.1" cy="607.2" r="3.5"/>
<circle cx="512.7" cy="598.7" r="3.5"/>
<circle cx="519.1" cy="589.4" r="3.5"/>
<circle cx="523.2" cy="581.4" r="3.5"/>
<circle cx="528.8" cy="572.8" r="3.5"/>
<circle cx="533.2" cy="563.9" r="3.5"/>
<circle cx="539.2" cy="556" r="3.5"/>
<circle cx="543.3" cy="547.7" r="3.5"/>
<circle cx="548.4" cy="538.5" r="3.5"/>
<circle cx="554.9" cy="530.1" r="3.5"/>
<circle cx="559.1" cy="520.7" r="3.5"/>
<circle cx="569.7" cy="504.1" r="3.5"/>
<circle cx="574.8" cy="494.8" r="3.5"/>
<circle cx="580" cy="486.9" r="3.5"/>
<circle cx="584.6" cy="477.9" r="3.5"/>
<circle cx="590.5" cy="470.4" r="3.5"/>
<circle cx="595" cy="461.1" r="3.5"/>
<circle cx="601.3" cy="452.8" r="3.5"/>
<circle cx="605.8" cy="444.5" r="3.5"/>
<circle cx="610.6" cy="435.5" r="3.5"/>
<circle cx="615.7" cy="427.6" r="3.5"/>
<circle cx="626.4" cy="410" r="3.5"/>
<circle cx="631.8" cy="402.5" r="3.5"/>
<circle cx="637.7" cy="393.7" r="3.5"/>
<circle cx="642.7" cy="384.1" r="3.5"/>
<circle cx="647.4" cy="376.7" r="3.5"/>
<circle cx="653.7" cy="368.3" r="3.5"/>
<circle cx="658.7" cy="358.5" r="3.5"/>
<circle cx="664.6" cy="350.5" r="3.5"/>
<circle cx="668.7" cy="342.6" r="3.5"/>
<circle cx="674.4" cy="334.4" r="3.5"/>
<circle cx="679.5" cy="326.1" r="3.5"/>
<circle cx="685.2" cy="317.7" r="3.5"/>
<circle cx="690.2" cy="308.4" r="3.5"/>
<circle cx="696.7" cy="299.6" r="3.5"/>
<circle cx="701.2" cy="291.3" r="3.5"/>
<circle cx="707.3" cy="283.4" r="3.5"/>
<circle cx="712.4" cy="274.3" r="3.5"/>
<circle cx="473.1" cy="679.2" r="3.5"/>
<circle cx="477.5" cy="670" r="3.5"/>
<circle cx="481.9" cy="662" r="3.5"/>
<circle cx="487.1" cy="653.1" r="3.5"/>
<circle cx="492" cy="643.6" r="3.5"/>
<circle cx="497.6" cy="634.9" r="3.5"/>
<circle cx="503" cy="626.5" r="3.5"/>
<circle cx="507.5" cy="617.3" r="3.5"/>
<circle cx="517.4" cy="599.7" r="3.5"/>
<circle cx="522.1" cy="592.4" r="3.5"/>
<circle cx="526.4" cy="583.8" r="3.5"/>
<circle cx="532.7" cy="574.8" r="3.5"/>
<circle cx="536.4" cy="566" r="3.5"/>
<circle cx="541.4" cy="557.5" r="3.5"/>
<circle cx="546.5" cy="548.6" r="3.5"/>
<circle cx="552.7" cy="539.5" r="3.5"/>
<circle cx="557.3" cy="531.1" r="3.5"/>
<circle cx="566.4" cy="513.5" r="3.5"/>
<circle cx="571.1" cy="505.6" r="3.5"/>
<circle cx="576.3" cy="496.6" r="3.5"/>
<circle cx="581.6" cy="487.1" r="3.5"/>
<circle cx="586" cy="479" r="3.5"/>
<circle cx="592" cy="469.6" r="3.5"/>
<circle cx="595.9" cy="460.9" r="3.5"/>
<circle cx="601.5" cy="453.3" r="3.5"/>
<circle cx="606.3" cy="444.2" r="3.5"/>
<circle cx="610.4" cy="435.5" r="3.5"/>
<circle cx="615.5" cy="426.5" r="3.5"/>
<circle cx="621.5" cy="418" r="3.5"/>
<circle cx="625.5" cy="409.1" r="3.5"/>
<circle cx="631.1" cy="400.1" r="3.5"/>
<circle cx="635.8" cy="391.2" r="3.5"/>
<circle cx="640.3" cy="383.6" r="3.5"/>
<circle cx="646" cy="373.6" r="3.5"/>
<circle cx="650.1" cy="366.3" r="3.5"/>
<circle cx="655.8" cy="357.4" r="3.5"/>
<circle cx="660" cy="347.3" r="3.5"/>
<circle cx="665.5" cy="339.3" r="3.5"/>
<circle cx="669.8" cy="330.7" r="3.5"/>
<circle cx="674.7" cy="322.2" r="3.5"/>
<circle cx="678.9" cy="313.6" r="3.5"/>
<circle cx="683.9" cy="304" r="3.5"/>
<circle cx="689" cy="296.3" r="3.5"/>
<circle cx="693.5" cy="287.2" r="3.5"/>
<circle cx="698.4" cy="277.3" r="3.5"/>
<circle cx="487.9" cy="694.9" r="3.5"/>
<circle cx="494" cy="687" r="3.5"/>
<circle cx="498.4" cy="677.7" r="3.5"/>
<circle cx="504.5" cy="669.4" r="3.5"/>
<circle cx="509.4" cy="661.4" r="3.5"/>
<circle cx="514.3" cy="651.7" r="3.5"/>
<circle cx="519.3" cy="644.1" r="3.5"/>
<circle cx="525" cy="635.4" r="3.5"/>
<circle cx="529.4" cy="627.4" r="3.5"/>
<circle cx="535.5" cy="618.4" r="3.5"/>
<circle cx="540.7" cy="609.8" r="3.5"/>
<circle cx="544.3" cy="600.8" r="3.5"/>
<circle cx="550.2" cy="592" r="3.5"/>
<circle cx="554.5" cy="583.4" r="3.5"/>
<circle cx="560.7" cy="575.6" r="3.5"/>
<circle cx="564.9" cy="566.2" r="3.5"/>
<circle cx="571.2" cy="557.3" r="3.5"/>
<circle cx="576.4" cy="549" r="3.5"/>
<circle cx="581.1" cy="540" r="3.5"/>
<circle cx="586.2" cy="532.1" r="3.5"/>
<circle cx="590.3" cy="524.1" r="3.5"/>
<circle cx="596.2" cy="515.7" r="3.5"/>
<circle cx="600.5" cy="505.9" r="3.5"/>
<circle cx="607" cy="497.2" r="3.5"/>
<circle cx="611.4" cy="489.6" r="3.5"/>
<circle cx="616.6" cy="481.3" r="3.5"/>
<circle cx="621" cy="471.9" r="3.5"/>
<circle cx="627.1" cy="463.8" r="3.5"/>
<circle cx="632.3" cy="455" r="3.5"/>
<circle cx="636" cy="446.4" r="3.5"/>
<circle cx="641.2" cy="437.4" r="3.5"/>
<circle cx="646.3" cy="428.2" r="3.5"/>
<circle cx="651.4" cy="419.9" r="3.5"/>
<circle cx="656.1" cy="410.9" r="3.5"/>
<circle cx="661.4" cy="402.2" r="3.5"/>
<circle cx="667.4" cy="393.9" r="3.5"/>
<circle cx="672.4" cy="385.8" r="3.5"/>
<circle cx="676.3" cy="376.4" r="3.5"/>
<circle cx="682.1" cy="368.7" r="3.5"/>
<circle cx="686.5" cy="359.3" r="3.5"/>
<circle cx="692.3" cy="351.8" r="3.5"/>
<circle cx="698" cy="343.1" r="3.5"/>
<circle cx="702.5" cy="334.4" r="3.5"/>
<circle cx="707.5" cy="325.9" r="3.5"/>
<circle cx="712.7" cy="317.2" r="3.5"/>
<circle cx="717.1" cy="308.7" r="3.5"/>
<circle cx="722.5" cy="299.6" r="3.5"/>
<circle cx="727.8" cy="291" r="3.5"/>
<circle cx="733.6" cy="281.6" r="3.5"/>
<circle cx="480.9" cy="695.8" r="3.5"/>
<circle cx="486" cy="687.3" r="3.5"/>
<circle cx="490.2" cy="677.9" r="3.5"/>
<circle cx="495.3" cy="669.8" r="3.5"/>
<circle cx="500.3" cy="661.6" r="3.5"/>
<circle cx="505.8" cy="651.6" r="3.5"/>
<circle cx="510.6" cy="644.1" r="3.5"/>
<circle cx="515.5" cy="634.4" r="3.5"/>
<circle cx="520.9" cy="626.9" r="3.5"/>
<circle cx="525.6" cy="617" r="3.5"/>
<circle cx="531.8" cy="609.2" r="3.5"/>
<circle cx="536" cy="599.6" r="3.5"/>
<circle cx="541.3" cy="592.1" r="3.5"/>
<circle cx="546.6" cy="583.2" r="3.5"/>
<circle cx="552.1" cy="573.9" r="3.5"/>
<circle cx="556.3" cy="566.7" r="3.5"/>
<circle cx="566.4" cy="549.3" r="3.5"/>
<circle cx="571.9" cy="540.1" r="3.5"/>
<circle cx="576.9" cy="530.7" r="3.5"/>
<circle cx="581.9" cy="522.8" r="3.5"/>
<circle cx="586.2" cy="514.7" r="3.5"/>
<circle cx="592.3" cy="505.6" r="3.5"/>
<circle cx="596.9" cy="496.9" r="3.5"/>
<circle cx="602.2" cy="488.5" r="3.5"/>
<circle cx="605.9" cy="479.1" r="3.5"/>
<circle cx="611" cy="470.8" r="3.5"/>
<circle cx="616.5" cy="462.4" r="3.5"/>
<circle cx="621.3" cy="453.1" r="3.5"/>
<circle cx="627.3" cy="444" r="3.5"/>
<circle cx="631" cy="436" r="3.5"/>
<circle cx="636.2" cy="427.2" r="3.5"/>
<circle cx="642" cy="419.1" r="3.5"/>
<circle cx="646.7" cy="410.8" r="3.5"/>
<circle cx="651.4" cy="401.9" r="3.5"/>
<circle cx="656.8" cy="393" r="3.5"/>
<circle cx="661.1" cy="384.4" r="3.5"/>
<circle cx="666.8" cy="375.5" r="3.5"/>
<circle cx="671.9" cy="367.5" r="3.5"/>
<circle cx="676.6" cy="358.1" r="3.5"/>
<circle cx="682.6" cy="350" r="3.5"/>
<circle cx="686.8" cy="341.3" r="3.5"/>
<circle cx="692.1" cy="332.8" r="3.5"/>
<circle cx="697.7" cy="324.7" r="3.5"/>
<circle cx="702.4" cy="314.9" r="3.5"/>
<circle cx="707.3" cy="307.3" r="3.5"/>
<circle cx="718" cy="289.2" r="3.5"/>
<circle cx="723.2" cy="281.4" r="3.5"/>
<circle cx="491.8" cy="704.9" r="3.5"/>
<circle cx="497.5" cy="696.7" r="3.5"/>
<circle cx="502.6" cy="687.7" r="3.5"/>
<circle cx="508.1" cy="679" r="3.5"/>
<circle cx="513" cy="671" r="3.5"/>
<circle cx="517.7" cy="662.5" r="3.5"/>
<circle cx="523.1" cy="653.7" r="3.5"/>
<circle cx="529.1" cy="643.9" r="3.5"/>
<circle cx="533.8" cy="635.3" r="3.5"/>
<circle cx="539.3" cy="627.3" r="3.5"/>
<circle cx="545" cy="619" r="3.5"/>
<circle cx="549.6" cy="610.7" r="3.5"/>
<circle cx="553.9" cy="601.7" r="3.5"/>
<circle cx="559.2" cy="592.8" r="3.5"/>
<circle cx="565.3" cy="584.8" r="3.5"/>
<circle cx="569.8" cy="575.5" r="3.5"/>
<circle cx="575.5" cy="567.7" r="3.5"/>
<circle cx="580.8" cy="558.4" r="3.5"/>
<circle cx="585.6" cy="549.8" r="3.5"/>
<circle cx="591" cy="541.3" r="3.5"/>
<circle cx="595" cy="532.9" r="3.5"/>
<circle cx="600.9" cy="524.7" r="3.5"/>
<circle cx="605.5" cy="515.2" r="3.5"/>
<circle cx="736.9" cy="290.7" r="3.5"/>
<circle cx="742" cy="281.8" r="3.5"/>
<circle cx="505.1" cy="700.4" r="3.5"/>
<circle cx="510.8" cy="692.5" r="3.5"/>
<circle cx="516" cy="683.8" r="3.5"/>
<circle cx="520.1" cy="674.3" r="3.5"/>
<circle cx="525.8" cy="666.4" r="3.5"/>
<circle cx="530.1" cy="657.7" r="3.5"/>
<circle cx="534.9" cy="649" r="3.5"/>
<circle cx="540.6" cy="639.3" r="3.5"/>
<circle cx="545.8" cy="631.4" r="3.5"/>
<circle cx="550.8" cy="621.8" r="3.5"/>
<circle cx="554.5" cy="612.9" r="3.5"/>
<circle cx="560.3" cy="604.9" r="3.5"/>
<circle cx="565.2" cy="596.5" r="3.5"/>
<circle cx="570.5" cy="587.6" r="3.5"/>
<circle cx="574.2" cy="578.2" r="3.5"/>
<circle cx="584.4" cy="560.8" r="3.5"/>
<circle cx="726.9" cy="297.7" r="3.5"/>
<circle cx="733.2" cy="288.6" r="3.5"/>
<circle cx="737.8" cy="279.1" r="3.5"/>
<circle cx="744.5" cy="282.4" r="3.5"/>
<circle cx="607" cy="501.1" r="3.5"/>
<circle cx="613.7" cy="491.6" r="3.5"/>
<circle cx="617.4" cy="480.3" r="3.5"/>
<circle cx="628.3" cy="459.5" r="3.5"/>
<circle cx="635.1" cy="449.8" r="3.5"/>
<circle cx="639.6" cy="440.8" r="3.5"/>
<circle cx="647.1" cy="431" r="3.5"/>
<circle cx="651.6" cy="421" r="3.5"/>
<circle cx="656.9" cy="409.1" r="3.5"/>
<circle cx="663" cy="400.8" r="3.5"/>
<circle cx="667.9" cy="391.3" r="3.5"/>
<circle cx="672.7" cy="379.3" r="3.5"/>
<circle cx="680.1" cy="370.5" r="3.5"/>
<circle cx="684.3" cy="359.3" r="3.5"/>
<circle cx="690.2" cy="349.6" r="3.5"/>
<circle cx="695.7" cy="340.1" r="3.5"/>
<circle cx="701.7" cy="331.1" r="3.5"/>
<circle cx="708.4" cy="318.9" r="3.5"/>
<circle cx="712.6" cy="310.4" r="3.5"/>
<circle cx="719.1" cy="300.7" r="3.5"/>
<circle cx="725.2" cy="290.3" r="3.5"/>
<circle cx="731.1" cy="279.1" r="3.5"/>
<circle cx="735.7" cy="271.1" r="3.5"/>
<circle cx="741" cy="259.5" r="3.5"/>
<circle cx="746.9" cy="249.5" r="3.5"/>
<circle cx="753" cy="240.6" r="3.5"/>
<circle cx="758.4" cy="229" r="3.5"/>
<circle cx="764" cy="221.3" r="3.5"/>
<circle cx="771.2" cy="209" r="3.5"/>
<circle cx="775.8" cy="199.7" r="3.5"/>
<circle cx="781.8" cy="190.1" r="3.5"/>
<circle cx="787.4" cy="178.9" r="3.5"/>
<circle cx="793.1" cy="170" r="3.5"/>
<circle cx="799.7" cy="160.5" r="3.5"/>
<circle cx="805" cy="149" r="3.5"/>
<circle cx="810.4" cy="139.2" r="3.5"/>
<circle cx="816" cy="130.6" r="3.5"/>
<circle cx="820.5" cy="120.1" r="3.5"/>
<circle cx="826.5" cy="109.8" r="3.5"/>
<circle cx="572.7" cy="587.9" r="3.5"/>
<circle cx="578" cy="575.9" r="3.5"/>
<circle cx="581.3" cy="566.9" r="3.5"/>
<circle cx="588.3" cy="555.6" r="3.5"/>
<circle cx="591.7" cy="545.7" r="3.5"/>
<circle cx="597.3" cy="535.1" r="3.5"/>
<circle cx="603" cy="525" r="3.5"/>
<circle cx="608.8" cy="514.6" r="3.5"/>
<circle cx="614.2" cy="503.9" r="3.5"/>
<circle cx="618.6" cy="493.3" r="3.5"/>
<circle cx="623.4" cy="484.5" r="3.5"/>
<circle cx="629.7" cy="474.8" r="3.5"/>
<circle cx="634.4" cy="462.5" r="3.5"/>
<circle cx="638.5" cy="454.2" r="3.5"/>
<circle cx="644.2" cy="443.5" r="3.5"/>
<circle cx="650" cy="432.1" r="3.5"/>
<circle cx="655.6" cy="423" r="3.5"/>
<circle cx="659.8" cy="411.5" r="3.5"/>
<circle cx="666" cy="401.6" r="3.5"/>
<circle cx="669.4" cy="392.5" r="3.5"/>
<circle cx="685.6" cy="361.8" r="3.5"/>
<circle cx="692" cy="350.9" r="3.5"/>
<circle cx="695.3" cy="340.1" r="3.5"/>
<circle cx="701.8" cy="328.7" r="3.5"/>
<circle cx="707" cy="319.4" r="3.5"/>
<circle cx="711.9" cy="309.5" r="3.5"/>
<circle cx="715.6" cy="298.8" r="3.5"/>
<circle cx="722.2" cy="287.8" r="3.5"/>
<circle cx="725.8" cy="279.5" r="3.5"/>
<circle cx="731.9" cy="269.2" r="3.5"/>
<circle cx="736.9" cy="257.9" r="3.5"/>
<circle cx="742.9" cy="246.8" r="3.5"/>
<circle cx="747.7" cy="237.7" r="3.5"/>
<circle cx="753.1" cy="227.8" r="3.5"/>
<circle cx="758.1" cy="216" r="3.5"/>
<circle cx="763.3" cy="207.7" r="3.5"/>
<circle cx="769" cy="196.2" r="3.5"/>
<circle cx="541.8" cy="706.9" r="3.5"/>
<circle cx="546.5" cy="697.8" r="3.5"/>
<circle cx="553" cy="687.4" r="3.5"/>
<circle cx="557.9" cy="676.4" r="3.5"/>
<circle cx="565.3" cy="667.3" r="3.5"/>
<circle cx="570" cy="658.3" r="3.5"/>
<circle cx="576.1" cy="646.6" r="3.5"/>
<circle cx="587.9" cy="628" r="3.5"/>
<circle cx="593.1" cy="617.5" r="3.5"/>
<circle cx="599.4" cy="608.7" r="3.5"/>
<circle cx="606.5" cy="597.9" r="3.5"/>
<circle cx="611.3" cy="588.7" r="3.5"/>
<circle cx="616.9" cy="579.4" r="3.5"/>
<circle cx="623.8" cy="569.7" r="3.5"/>
<circle cx="630.8" cy="558.1" r="3.5"/>
<circle cx="635.6" cy="549.4" r="3.5"/>
<circle cx="640.7" cy="538.6" r="3.5"/>
<circle cx="646.8" cy="528.7" r="3.5"/>
<circle cx="653.7" cy="519" r="3.5"/>
<circle cx="659.1" cy="509.8" r="3.5"/>
<circle cx="665.1" cy="499.8" r="3.5"/>
<circle cx="670.6" cy="489.6" r="3.5"/>
<circle cx="677" cy="481" r="3.5"/>
<circle cx="683.6" cy="469.9" r="3.5"/>
<circle cx="688.1" cy="461.6" r="3.5"/>
<circle cx="694.4" cy="450.3" r="3.5"/>
<circle cx="701.5" cy="439.8" r="3.5"/>
<circle cx="707" cy="431" r="3.5"/>
<circle cx="713.4" cy="421" r="3.5"/>
<circle cx="717.7" cy="411.7" r="3.5"/>
<circle cx="725.1" cy="401.7" r="3.5"/>
<circle cx="730.7" cy="391.7" r="3.5"/>
<circle cx="737" cy="380.3" r="3.5"/>
<circle cx="742.4" cy="372.3" r="3.5"/>
<circle cx="748.7" cy="361" r="3.5"/>
<circle cx="759.9" cy="342.1" r="3.5"/>
<circle cx="765.4" cy="331.3" r="3.5"/>
<circle cx="770.4" cy="322.1" r="3.5"/>
<circle cx="777.4" cy="311.4" r="3.5"/>
<circle cx="782.7" cy="303.3" r="3.5"/>
<circle cx="788.8" cy="292.8" r="3.5"/>
<circle cx="795.2" cy="281.8" r="3.5"/>
<circle cx="800.3" cy="272.8" r="3.5"/>
<circle cx="807.1" cy="262.4" r="3.5"/>
<circle cx="814" cy="252.3" r="3.5"/>
<circle cx="819.4" cy="243.4" r="3.5"/>
<circle cx="825.2" cy="232.2" r="3.5"/>
<circle cx="829.7" cy="223.1" r="3.5"/>
<circle cx="835.7" cy="213.7" r="3.5"/>
<circle cx="842.1" cy="204.4" r="3.5"/>
<circle cx="849" cy="193.8" r="3.5"/>
<circle cx="855.3" cy="185.1" r="3.5"/>
<circle cx="859.8" cy="174.2" r="3.5"/>
<circle cx="865.2" cy="164.6" r="3.5"/>
<circle cx="540.1" cy="712.1" r="3.5"/>
<circle cx="546" cy="702.2" r="3.5"/>
<circle cx="550.9" cy="692.4" r="3.5"/>
<circle cx="556.4" cy="681.8" r="3.5"/>
<circle cx="560.6" cy="672" r="3.5"/>
<circle cx="567.4" cy="660.8" r="3.5"/>
<circle cx="570.8" cy="650.6" r="3.5"/>
<circle cx="575.8" cy="642.1" r="3.5"/>
<circle cx="582.3" cy="631.1" r="3.5"/>
<circle cx="586.8" cy="621.5" r="3.5"/>
<circle cx="591.9" cy="610.5" r="3.5"/>
<circle cx="597.8" cy="599.7" r="3.5"/>
<circle cx="602.4" cy="590.6" r="3.5"/>
<circle cx="608.2" cy="580" r="3.5"/>
<circle cx="612.2" cy="569.7" r="3.5"/>
<circle cx="618.3" cy="560" r="3.5"/>
<circle cx="623.8" cy="549.5" r="3.5"/>
<circle cx="629.7" cy="538" r="3.5"/>
<circle cx="634.1" cy="529" r="3.5"/>
<circle cx="638.9" cy="517.9" r="3.5"/>
<circle cx="644.1" cy="509" r="3.5"/>
<circle cx="649.2" cy="496.9" r="3.5"/>
<circle cx="655.8" cy="487.2" r="3.5"/>
<circle cx="659" cy="477.2" r="3.5"/>
<circle cx="670.1" cy="456" r="3.5"/>
<circle cx="676.3" cy="445.2" r="3.5"/>
<circle cx="681.8" cy="435.6" r="3.5"/>
<circle cx="686.4" cy="425.2" r="3.5"/>
<circle cx="692" cy="415.2" r="3.5"/>
<circle cx="696" cy="406.2" r="3.5"/>
<circle cx="701.7" cy="394.7" r="3.5"/>
<circle cx="707.6" cy="384.9" r="3.5"/>
<circle cx="712.4" cy="375.9" r="3.5"/>
<circle cx="719" cy="364.3" r="3.5"/>
<circle cx="723.2" cy="354.7" r="3.5"/>
<circle cx="728.2" cy="345" r="3.5"/>
<circle cx="735.1" cy="335.2" r="3.5"/>
<circle cx="740.6" cy="324.3" r="3.5"/>
<circle cx="745.8" cy="313.2" r="3.5"/>
<circle cx="750.6" cy="304" r="3.5"/>
<circle cx="757.6" cy="294.1" r="3.5"/>
<circle cx="762.5" cy="283.1" r="3.5"/>
<circle cx="767.4" cy="274.7" r="3.5"/>
<circle cx="773" cy="262.8" r="3.5"/>
<circle cx="777.4" cy="252.1" r="3.5"/>
<circle cx="784.1" cy="242.2" r="3.5"/>
<circle cx="788.8" cy="233" r="3.5"/>
<circle cx="794.7" cy="222.9" r="3.5"/>
<circle cx="798.8" cy="212.7" r="3.5"/>
<circle cx="804.2" cy="203.1" r="3.5"/>
<circle cx="810.5" cy="192" r="3.5"/>
<circle cx="815.5" cy="180.9" r="3.5"/>
<circle cx="821.3" cy="172.1" r="3.5"/>
<circle cx="826.2" cy="162.5" r="3.5"/>
<circle cx="830.8" cy="152.5" r="3.5"/>
<circle cx="836.1" cy="140.5" r="3.5"/>
<circle cx="842.9" cy="132.1" r="3.5"/>
<circle cx="543.2" cy="761.1" r="3.5"/>
<circle cx="547.6" cy="749.4" r="3.5"/>
<circle cx="554.8" cy="741.1" r="3.5"/>
<circle cx="559.1" cy="729.6" r="3.5"/>
<circle cx="565.4" cy="719.5" r="3.5"/>
<circle cx="572.7" cy="711.2" r="3.5"/>
<circle cx="576.8" cy="699.5" r="3.5"/>
<circle cx="582.7" cy="691.2" r="3.5"/>
<circle cx="589.6" cy="681.2" r="3.5"/>
<circle cx="594.5" cy="670.7" r="3.5"/>
<circle cx="601" cy="659.7" r="3.5"/>
<circle cx="607" cy="650.4" r="3.5"/>
<circle cx="612.8" cy="641.5" r="3.5"/>
<circle cx="618.2" cy="631.1" r="3.5"/>
<circle cx="622.9" cy="619.9" r="3.5"/>
<circle cx="629.8" cy="610.2" r="3.5"/>
<circle cx="635.5" cy="601.3" r="3.5"/>
<circle cx="640.5" cy="590.6" r="3.5"/>
<circle cx="645.9" cy="580.2" r="3.5"/>
<circle cx="652.8" cy="571.6" r="3.5"/>
<circle cx="656.5" cy="560.4" r="3.5"/>
<circle cx="662.9" cy="552.3" r="3.5"/>
<circle cx="668.4" cy="542.4" r="3.5"/>
<circle cx="675.1" cy="532.2" r="3.5"/>
<circle cx="679.8" cy="522" r="3.5"/>
<circle cx="687.2" cy="512" r="3.5"/>
<circle cx="691.6" cy="502.2" r="3.5"/>
<circle cx="697.5" cy="490.6" r="3.5"/>
<circle cx="705.1" cy="482" r="3.5"/>
<circle cx="709.8" cy="471.6" r="3.5"/>
<circle cx="715.2" cy="462.5" r="3.5"/>
<circle cx="721.8" cy="450.8" r="3.5"/>
<circle cx="727.6" cy="440.9" r="3.5"/>
<circle cx="732.7" cy="432.5" r="3.5"/>
<circle cx="737.4" cy="421.2" r="3.5"/>
<circle cx="743.4" cy="412.8" r="3.5"/>
<circle cx="751.2" cy="403.1" r="3.5"/>
<circle cx="756.1" cy="391.7" r="3.5"/>
<circle cx="760.5" cy="381.9" r="3.5"/>
<circle cx="766.4" cy="371.6" r="3.5"/>
<circle cx="771.9" cy="362.3" r="3.5"/>
<circle cx="784.9" cy="342.1" r="3.5"/>
<circle cx="790.8" cy="332.1" r="3.5"/>
<circle cx="796.8" cy="320.9" r="3.5"/>
<circle cx="801.8" cy="311.8" r="3.5"/>
<circle cx="806.6" cy="302.5" r="3.5"/>
<circle cx="813.7" cy="291.6" r="3.5"/>
<circle cx="818.9" cy="282.2" r="3.5"/>
<circle cx="824.8" cy="271.9" r="3.5"/>
<circle cx="830.3" cy="262.7" r="3.5"/>
<circle cx="836.5" cy="251.4" r="3.5"/>
<circle cx="841.1" cy="243" r="3.5"/>
<circle cx="846.3" cy="233.1" r="3.5"/>
<circle cx="851.2" cy="222.8" r="3.5"/>
<circle cx="858.5" cy="212.7" r="3.5"/>
<circle cx="862.3" cy="201" r="3.5"/>
<circle cx="868.6" cy="192.9" r="3.5"/>
<circle cx="874.7" cy="182.7" r="3.5"/>
<circle cx="879.6" cy="170.9" r="3.5"/>
<circle cx="884.7" cy="160.7" r="3.5"/>
<circle cx="570.9" cy="764.7" r="3.5"/>
<circle cx="575.7" cy="755.3" r="3.5"/>
<circle cx="582" cy="744.9" r="3.5"/>
<circle cx="588.1" cy="734" r="3.5"/>
<circle cx="591.9" cy="724.1" r="3.5"/>
<circle cx="598.4" cy="713.9" r="3.5"/>
<circle cx="604.1" cy="705.6" r="3.5"/>
<circle cx="610.5" cy="694.5" r="3.5"/>
<circle cx="615.5" cy="685.4" r="3.5"/>
<circle cx="620.4" cy="674.6" r="3.5"/>
<circle cx="626" cy="665.8" r="3.5"/>
<circle cx="631.4" cy="654.7" r="3.5"/>
<circle cx="639.1" cy="644.8" r="3.5"/>
<circle cx="643.6" cy="635.6" r="3.5"/>
<circle cx="649" cy="624.3" r="3.5"/>
<circle cx="656.1" cy="614.6" r="3.5"/>
<circle cx="661.6" cy="603.6" r="3.5"/>
<circle cx="666.6" cy="595.3" r="3.5"/>
<circle cx="672.2" cy="584.7" r="3.5"/>
<circle cx="679" cy="575.7" r="3.5"/>
<circle cx="684.4" cy="566" r="3.5"/>
<circle cx="688.7" cy="554.4" r="3.5"/>
<circle cx="695.2" cy="545.5" r="3.5"/>
<circle cx="700.6" cy="535.5" r="3.5"/>
<circle cx="705.6" cy="524.5" r="3.5"/>
<circle cx="711.9" cy="514.9" r="3.5"/>
<circle cx="718.1" cy="505.2" r="3.5"/>
<circle cx="724.8" cy="496.1" r="3.5"/>
<circle cx="729.4" cy="484" r="3.5"/>
<circle cx="734.8" cy="475.9" r="3.5"/>
<circle cx="740.9" cy="464.2" r="3.5"/>
<circle cx="747" cy="454.9" r="3.5"/>
<circle cx="758.7" cy="434.6" r="3.5"/>
<circle cx="764.6" cy="425.3" r="3.5"/>
<circle cx="771" cy="414.5" r="3.5"/>
<circle cx="774.9" cy="405" r="3.5"/>
<circle cx="781" cy="396.5" r="3.5"/>
<circle cx="787.4" cy="385.3" r="3.5"/>
<circle cx="794.2" cy="376.1" r="3.5"/>
<circle cx="798.1" cy="366.9" r="3.5"/>
<circle cx="804.7" cy="356.6" r="3.5"/>
<circle cx="810.7" cy="345.5" r="3.5"/>
<circle cx="816.2" cy="337" r="3.5"/>
<circle cx="821.6" cy="325.7" r="3.5"/>
<circle cx="828.1" cy="315.9" r="3.5"/>
<circle cx="835" cy="307.1" r="3.5"/>
<circle cx="840.7" cy="297" r="3.5"/>
<circle cx="845.6" cy="286.9" r="3.5"/>
<circle cx="851.3" cy="275.7" r="3.5"/>
<circle cx="857.4" cy="267.7" r="3.5"/>
<circle cx="862.9" cy="256.8" r="3.5"/>
<circle cx="869.3" cy="247.7" r="3.5"/>
<circle cx="874.6" cy="238.2" r="3.5"/>
<circle cx="882.3" cy="227" r="3.5"/>
<circle cx="887.4" cy="216.2" r="3.5"/>
<circle cx="892.4" cy="208.3" r="3.5"/>
<circle cx="899.6" cy="196.8" r="3.5"/>
<circle cx="905.5" cy="188.4" r="3.5"/>
<circle cx="910.9" cy="176.7" r="3.5"/>
<circle cx="596.4" cy="766.6" r="3.5"/>
<circle cx="601.2" cy="756" r="3.5"/>
<circle cx="606.9" cy="744.3" r="3.5"/>
<circle cx="613.9" cy="734.5" r="3.5"/>
<circle cx="619" cy="725.3" r="3.5"/>
<circle cx="623.2" cy="714.6" r="3.5"/>
<circle cx="629" cy="704.7" r="3.5"/>
<circle cx="634.5" cy="693.7" r="3.5"/>
<circle cx="641.8" cy="683.7" r="3.5"/>
<circle cx="645.2" cy="674.1" r="3.5"/>
<circle cx="652.1" cy="665.3" r="3.5"/>
<circle cx="656.2" cy="654.5" r="3.5"/>
<circle cx="662.1" cy="643" r="3.5"/>
<circle cx="667.4" cy="633.5" r="3.5"/>
<circle cx="672.8" cy="623.7" r="3.5"/>
<circle cx="677.9" cy="612.6" r="3.5"/>
<circle cx="685.2" cy="603.4" r="3.5"/>
<circle cx="689.6" cy="593.2" r="3.5"/>
<circle cx="695.6" cy="582.1" r="3.5"/>
<circle cx="701.5" cy="573.3" r="3.5"/>
<circle cx="705.7" cy="562.4" r="3.5"/>
<circle cx="710.7" cy="553.1" r="3.5"/>
<circle cx="716.1" cy="543.2" r="3.5"/>
<circle cx="723.1" cy="531.9" r="3.5"/>
<circle cx="729.2" cy="523.7" r="3.5"/>
<circle cx="732.7" cy="512.1" r="3.5"/>
<circle cx="737.9" cy="501.8" r="3.5"/>
<circle cx="743.7" cy="492.6" r="3.5"/>
<circle cx="750.7" cy="481" r="3.5"/>
<circle cx="756.5" cy="471.3" r="3.5"/>
<circle cx="760.6" cy="461.7" r="3.5"/>
<circle cx="765.5" cy="451.5" r="3.5"/>
<circle cx="772.8" cy="441.4" r="3.5"/>
<circle cx="777.6" cy="431.3" r="3.5"/>
<circle cx="782.8" cy="421.9" r="3.5"/>
<circle cx="789.2" cy="412.1" r="3.5"/>
<circle cx="794" cy="402" r="3.5"/>
<circle cx="799.4" cy="391.8" r="3.5"/>
<circle cx="804.8" cy="380.4" r="3.5"/>
<circle cx="809.8" cy="370.9" r="3.5"/>
<circle cx="816.5" cy="361.4" r="3.5"/>
<circle cx="820.7" cy="351.1" r="3.5"/>
<circle cx="826.2" cy="341.4" r="3.5"/>
<circle cx="831.9" cy="329.8" r="3.5"/>
<circle cx="838" cy="321.6" r="3.5"/>
<circle cx="843" cy="311.4" r="3.5"/>
<circle cx="849.3" cy="299.3" r="3.5"/>
<circle cx="854.8" cy="289.4" r="3.5"/>
<circle cx="860.6" cy="280.7" r="3.5"/>
<circle cx="865.2" cy="270.5" r="3.5"/>
<circle cx="872.1" cy="260.6" r="3.5"/>
<circle cx="876.5" cy="251.3" r="3.5"/>
<circle cx="883.7" cy="239.8" r="3.5"/>
<circle cx="888.4" cy="230.7" r="3.5"/>
<circle cx="894.4" cy="221.1" r="3.5"/>
<circle cx="899.9" cy="208.7" r="3.5"/>
<circle cx="904.1" cy="200.3" r="3.5"/>
<circle cx="911.4" cy="189.9" r="3.5"/>
<circle cx="915.6" cy="181" r="3.5"/>
<circle cx="608.2" cy="771.4" r="3.5"/>
<circle cx="612.8" cy="760.9" r="3.5"/>
<circle cx="617.7" cy="752.9" r="3.5"/>
<circle cx="625.2" cy="740.9" r="3.5"/>
<circle cx="628.7" cy="731.6" r="3.5"/>
<circle cx="635.2" cy="720.5" r="3.5"/>
<circle cx="640.9" cy="710.3" r="3.5"/>
<circle cx="652.5" cy="691.1" r="3.5"/>
<circle cx="657.9" cy="680.2" r="3.5"/>
<circle cx="663.3" cy="670.6" r="3.5"/>
<circle cx="666.9" cy="661.2" r="3.5"/>
<circle cx="672.8" cy="651.1" r="3.5"/>
<circle cx="679.8" cy="641.5" r="3.5"/>
<circle cx="683.9" cy="630.9" r="3.5"/>
<circle cx="689" cy="619.2" r="3.5"/>
<circle cx="694.7" cy="610.7" r="3.5"/>
<circle cx="700.9" cy="600.6" r="3.5"/>
<circle cx="707.2" cy="589.2" r="3.5"/>
<circle cx="712.5" cy="579.7" r="3.5"/>
<circle cx="716.3" cy="568.7" r="3.5"/>
<circle cx="721.7" cy="559.6" r="3.5"/>
<circle cx="727.2" cy="549.9" r="3.5"/>
<circle cx="733.3" cy="540.3" r="3.5"/>
<circle cx="738.3" cy="529" r="3.5"/>
<circle cx="745.2" cy="519.9" r="3.5"/>
<circle cx="750.9" cy="508.9" r="3.5"/>
<circle cx="762.1" cy="488.6" r="3.5"/>
<circle cx="766.2" cy="479.7" r="3.5"/>
<circle cx="771.2" cy="469" r="3.5"/>
<circle cx="778.2" cy="459.7" r="3.5"/>
<circle cx="782.5" cy="448.8" r="3.5"/>
<circle cx="789.3" cy="438.7" r="3.5"/>
<circle cx="794.2" cy="428.7" r="3.5"/>
<circle cx="798.8" cy="417.9" r="3.5"/>
<circle cx="804.5" cy="408.1" r="3.5"/>
<circle cx="809.7" cy="398.6" r="3.5"/>
<circle cx="815.8" cy="388.3" r="3.5"/>
<circle cx="820" cy="378.1" r="3.5"/>
<circle cx="827.2" cy="368.2" r="3.5"/>
<circle cx="831.6" cy="357.1" r="3.5"/>
<circle cx="835.8" cy="346.7" r="3.5"/>
<circle cx="841.3" cy="336.9" r="3.5"/>
<circle cx="847.1" cy="327.4" r="3.5"/>
<circle cx="853.7" cy="317.2" r="3.5"/>
<circle cx="859.1" cy="305.4" r="3.5"/>
<circle cx="864" cy="295.7" r="3.5"/>
<circle cx="869" cy="285" r="3.5"/>
<circle cx="874.5" cy="275.7" r="3.5"/>
<circle cx="881" cy="265.1" r="3.5"/>
<circle cx="885.5" cy="255.9" r="3.5"/>
<circle cx="890.7" cy="245.1" r="3.5"/>
<circle cx="897.4" cy="234.8" r="3.5"/>
<circle cx="901.8" cy="225.6" r="3.5"/>
<circle cx="906.7" cy="214.3" r="3.5"/>
<circle cx="912.7" cy="206.1" r="3.5"/>
<circle cx="922.8" cy="185" r="3.5"/>
<circle cx="622.2" cy="773.7" r="3.5"/>
<circle cx="627.6" cy="764.9" r="3.5"/>
<circle cx="633.6" cy="754.6" r="3.5"/>
<circle cx="637.6" cy="744.4" r="3.5"/>
<circle cx="645.2" cy="733.2" r="3.5"/>
<circle cx="648.4" cy="723.8" r="3.5"/>
<circle cx="654.7" cy="713.2" r="3.5"/>
<circle cx="659.8" cy="703.5" r="3.5"/>
<circle cx="665.4" cy="691.7" r="3.5"/>
<circle cx="670.9" cy="681.9" r="3.5"/>
<circle cx="675.8" cy="671.4" r="3.5"/>
<circle cx="680.8" cy="662.8" r="3.5"/>
<circle cx="687.3" cy="652.9" r="3.5"/>
<circle cx="692.8" cy="642.1" r="3.5"/>
<circle cx="698.2" cy="630.4" r="3.5"/>
<circle cx="704" cy="621.5" r="3.5"/>
<circle cx="708.1" cy="610.2" r="3.5"/>
<circle cx="713.3" cy="599.8" r="3.5"/>
<circle cx="719.9" cy="589.6" r="3.5"/>
<circle cx="723.7" cy="580.2" r="3.5"/>
<circle cx="729.4" cy="569.5" r="3.5"/>
<circle cx="733.7" cy="561.1" r="3.5"/>
<circle cx="740.2" cy="550.9" r="3.5"/>
<circle cx="745.1" cy="539.5" r="3.5"/>
<circle cx="750" cy="528.2" r="3.5"/>
<circle cx="755.1" cy="518.4" r="3.5"/>
<circle cx="760.3" cy="510.1" r="3.5"/>
<circle cx="766" cy="499.6" r="3.5"/>
<circle cx="770.9" cy="488.7" r="3.5"/>
<circle cx="777.3" cy="477.9" r="3.5"/>
<circle cx="783.2" cy="467.6" r="3.5"/>
<circle cx="786.9" cy="459" r="3.5"/>
<circle cx="792.1" cy="447.8" r="3.5"/>
<circle cx="797.8" cy="437.2" r="3.5"/>
<circle cx="802.5" cy="428.1" r="3.5"/>
<circle cx="813.3" cy="408.2" r="3.5"/>
<circle cx="818.5" cy="396.8" r="3.5"/>
<circle cx="824.8" cy="387.8" r="3.5"/>
<circle cx="830.1" cy="377.7" r="3.5"/>
<circle cx="834.8" cy="366.9" r="3.5"/>
<circle cx="841.5" cy="355.5" r="3.5"/>
<circle cx="845.5" cy="346.2" r="3.5"/>
<circle cx="852.8" cy="336.7" r="3.5"/>
<circle cx="858" cy="325.2" r="3.5"/>
<circle cx="862.9" cy="315.5" r="3.5"/>
<circle cx="867.3" cy="306.2" r="3.5"/>
<circle cx="871.9" cy="294.7" r="3.5"/>
<circle cx="879.4" cy="284" r="3.5"/>
<circle cx="882.9" cy="275" r="3.5"/>
<circle cx="889.4" cy="263.6" r="3.5"/>
<circle cx="894.5" cy="253.7" r="3.5"/>
<circle cx="899.3" cy="243.7" r="3.5"/>
<circle cx="906.1" cy="234.7" r="3.5"/>
<circle cx="911.3" cy="224.1" r="3.5"/>
<circle cx="916.7" cy="214" r="3.5"/>
<circle cx="921.6" cy="204.3" r="3.5"/>
<circle cx="926.3" cy="194" r="3.5"/>
<circle cx="627.1" cy="773.9" r="3.5"/>
<circle cx="633.2" cy="764.5" r="3.5"/>
<circle cx="638.3" cy="752" r="3.5"/>
<circle cx="643" cy="743.5" r="3.5"/>
<circle cx="648.1" cy="731.3" r="3.5"/>
<circle cx="652.4" cy="722.5" r="3.5"/>
<circle cx="658.6" cy="712.1" r="3.5"/>
<circle cx="664.7" cy="702.1" r="3.5"/>
<circle cx="668.9" cy="690.6" r="3.5"/>
<circle cx="673.8" cy="682.2" r="3.5"/>
<circle cx="679.6" cy="671.1" r="3.5"/>
<circle cx="684.7" cy="660" r="3.5"/>
<circle cx="689.7" cy="649.8" r="3.5"/>
<circle cx="695" cy="639.1" r="3.5"/>
<circle cx="699.2" cy="630.6" r="3.5"/>
<circle cx="705.2" cy="620.5" r="3.5"/>
<circle cx="709.8" cy="608.3" r="3.5"/>
<circle cx="714.5" cy="599.2" r="3.5"/>
<circle cx="721.8" cy="587.7" r="3.5"/>
<circle cx="724.9" cy="579.4" r="3.5"/>
<circle cx="732.3" cy="567.6" r="3.5"/>
<circle cx="735.4" cy="558.1" r="3.5"/>
<circle cx="741.8" cy="548.4" r="3.5"/>
<circle cx="745.6" cy="537.5" r="3.5"/>
<circle cx="752.1" cy="527.8" r="3.5"/>
<circle cx="757" cy="516.8" r="3.5"/>
<circle cx="762.5" cy="506.3" r="3.5"/>
<circle cx="767.3" cy="497" r="3.5"/>
<circle cx="773.2" cy="484.9" r="3.5"/>
<circle cx="777.5" cy="474.5" r="3.5"/>
<circle cx="782.4" cy="463.9" r="3.5"/>
<circle cx="787.7" cy="454.5" r="3.5"/>
<circle cx="792" cy="444.5" r="3.5"/>
<circle cx="797.2" cy="433" r="3.5"/>
<circle cx="803.3" cy="424" r="3.5"/>
<circle cx="806.9" cy="412.9" r="3.5"/>
<circle cx="812.1" cy="404.1" r="3.5"/>
<circle cx="817.9" cy="392.8" r="3.5"/>
<circle cx="822.7" cy="382.2" r="3.5"/>
<circle cx="828.4" cy="372.5" r="3.5"/>
<circle cx="832.4" cy="362" r="3.5"/>
<circle cx="838.2" cy="351.1" r="3.5"/>
<circle cx="842.8" cy="340.7" r="3.5"/>
<circle cx="848.9" cy="329.8" r="3.5"/>
<circle cx="859.3" cy="310.6" r="3.5"/>
<circle cx="862.3" cy="299.1" r="3.5"/>
<circle cx="868.9" cy="290" r="3.5"/>
<circle cx="873.5" cy="279.3" r="3.5"/>
<circle cx="877.5" cy="268.3" r="3.5"/>
<circle cx="884" cy="258.9" r="3.5"/>
<circle cx="888.9" cy="248.1" r="3.5"/>
<circle cx="893.4" cy="238.3" r="3.5"/>
<circle cx="898.6" cy="227.9" r="3.5"/>
<circle cx="904.5" cy="216.2" r="3.5"/>
<circle cx="908" cy="206.6" r="3.5"/>
<circle cx="913.3" cy="196.4" r="3.5"/>
<circle cx="918.7" cy="185.5" r="3.5"/>
<circle cx="647.6" cy="783.5" r="3.5"/>
<circle cx="657.4" cy="764.2" r="3.5"/>
<circle cx="662.3" cy="752.9" r="3.5"/>
<circle cx="668.1" cy="743.9" r="3.5"/>
<circle cx="672.4" cy="732.7" r="3.5"/>
<circle cx="679.1" cy="722.8" r="3.5"/>
<circle cx="682.9" cy="712.1" r="3.5"/>
<circle cx="688" cy="701.7" r="3.5"/>
<circle cx="694.4" cy="692.6" r="3.5"/>
<circle cx="699.9" cy="681.4" r="3.5"/>
<circle cx="704.1" cy="672.2" r="3.5"/>
<circle cx="710" cy="660.1" r="3.5"/>
<circle cx="715.8" cy="650.1" r="3.5"/>
<circle cx="720.1" cy="639.9" r="3.5"/>
<circle cx="724.8" cy="629.5" r="3.5"/>
<circle cx="729.4" cy="619.7" r="3.5"/>
<circle cx="736.5" cy="608.9" r="3.5"/>
<circle cx="744.9" cy="589.2" r="3.5"/>
<circle cx="751.7" cy="579.1" r="3.5"/>
<circle cx="756.9" cy="568.4" r="3.5"/>
<circle cx="760.8" cy="558.7" r="3.5"/>
<circle cx="767.7" cy="549.5" r="3.5"/>
<circle cx="772.5" cy="537.6" r="3.5"/>
<circle cx="777.6" cy="526.8" r="3.5"/>
<circle cx="781.5" cy="517.6" r="3.5"/>
<circle cx="786.9" cy="507.9" r="3.5"/>
<circle cx="793.4" cy="497.1" r="3.5"/>
<circle cx="797.9" cy="486.1" r="3.5"/>
<circle cx="802.5" cy="476.3" r="3.5"/>
<circle cx="808.2" cy="466.1" r="3.5"/>
<circle cx="819" cy="445.1" r="3.5"/>
<circle cx="825.7" cy="436" r="3.5"/>
<circle cx="831.1" cy="425.9" r="3.5"/>
<circle cx="835.6" cy="415.4" r="3.5"/>
<circle cx="839.7" cy="405.7" r="3.5"/>
<circle cx="845.1" cy="395.4" r="3.5"/>
<circle cx="850.9" cy="385.7" r="3.5"/>
<circle cx="856.3" cy="373.5" r="3.5"/>
<circle cx="867.4" cy="354.2" r="3.5"/>
<circle cx="871.1" cy="344.9" r="3.5"/>
<circle cx="877.7" cy="333.3" r="3.5"/>
<circle cx="882.3" cy="323.5" r="3.5"/>
<circle cx="886.5" cy="312.9" r="3.5"/>
<circle cx="893.6" cy="303.8" r="3.5"/>
<circle cx="898.2" cy="293.4" r="3.5"/>
<circle cx="904.5" cy="283.5" r="3.5"/>
<circle cx="909.7" cy="271.9" r="3.5"/>
<circle cx="913" cy="261.2" r="3.5"/>
<circle cx="918.8" cy="250.8" r="3.5"/>
<circle cx="925.1" cy="241.4" r="3.5"/>
<circle cx="930.7" cy="230.5" r="3.5"/>
<circle cx="934.7" cy="221.7" r="3.5"/>
<circle cx="941.1" cy="210.9" r="3.5"/>
<circle cx="691.8" cy="797.8" r="3.5"/>
<circle cx="707.5" cy="767.6" r="3.5"/>
<circle cx="712.5" cy="758.6" r="3.5"/>
<circle cx="717.7" cy="749.3" r="3.5"/>
<circle cx="723.5" cy="738.3" r="3.5"/>
<circle cx="729.4" cy="728.4" r="3.5"/>
<circle cx="735.2" cy="718.3" r="3.5"/>
<circle cx="744.9" cy="697" r="3.5"/>
<circle cx="752.3" cy="687.7" r="3.5"/>
<circle cx="757.7" cy="677.5" r="3.5"/>
<circle cx="762.4" cy="667.8" r="3.5"/>
<circle cx="768.6" cy="657.9" r="3.5"/>
<circle cx="772.3" cy="647.2" r="3.5"/>
<circle cx="778.5" cy="636.7" r="3.5"/>
<circle cx="784.6" cy="626" r="3.5"/>
<circle cx="790.9" cy="617" r="3.5"/>
<circle cx="795.6" cy="607.6" r="3.5"/>
<circle cx="799.5" cy="595.9" r="3.5"/>
<circle cx="807.2" cy="585.4" r="3.5"/>
<circle cx="811.2" cy="576.1" r="3.5"/>
<circle cx="816.9" cy="566.8" r="3.5"/>
<circle cx="822.2" cy="555.6" r="3.5"/>
<circle cx="828" cy="545" r="3.5"/>
<circle cx="833.6" cy="536.6" r="3.5"/>
<circle cx="838.9" cy="526.3" r="3.5"/>
<circle cx="844.5" cy="515" r="3.5"/>
<circle cx="850.2" cy="504.6" r="3.5"/>
<circle cx="856.5" cy="496.3" r="3.5"/>
<circle cx="860.6" cy="485.8" r="3.5"/>
<circle cx="865.9" cy="473.9" r="3.5"/>
<circle cx="872.7" cy="466" r="3.5"/>
<circle cx="877.6" cy="453.8" r="3.5"/>
<circle cx="883.3" cy="444.1" r="3.5"/>
<circle cx="889" cy="435" r="3.5"/>
<circle cx="895.3" cy="423.6" r="3.5"/>
<circle cx="906.6" cy="403.8" r="3.5"/>
<circle cx="911.5" cy="393.4" r="3.5"/>
<circle cx="917.5" cy="383.7" r="3.5"/>
<circle cx="922.9" cy="373.7" r="3.5"/>
<circle cx="927.7" cy="364.2" r="3.5"/>
<circle cx="932" cy="353.9" r="3.5"/>
<circle cx="938.3" cy="345.1" r="3.5"/>
<circle cx="943" cy="333.2" r="3.5"/>
<circle cx="950" cy="324.8" r="3.5"/>
<circle cx="954.5" cy="314.8" r="3.5"/>
<circle cx="961.3" cy="303.6" r="3.5"/>
<circle cx="966.5" cy="293.4" r="3.5"/>
<circle cx="971.6" cy="283.3" r="3.5"/>
<circle cx="976.6" cy="273.8" r="3.5"/>
<circle cx="982.2" cy="262.5" r="3.5"/>
<circle cx="987.2" cy="252.4" r="3.5"/>
<circle cx="993.6" cy="242.9" r="3.5"/>
<circle cx="668.6" cy="794.2" r="3.5"/>
<circle cx="673" cy="783.3" r="3.5"/>
<circle cx="677.3" cy="772.4" r="3.5"/>
<circle cx="681.2" cy="761.1" r="3.5"/>
<circle cx="686.3" cy="752.1" r="3.5"/>
<circle cx="692.8" cy="739.8" r="3.5"/>
<circle cx="696.7" cy="730.2" r="3.5"/>
<circle cx="699.9" cy="720" r="3.5"/>
<circle cx="705.5" cy="709.5" r="3.5"/>
<circle cx="709.2" cy="698.4" r="3.5"/>
<circle cx="714.8" cy="689.4" r="3.5"/>
<circle cx="718.6" cy="677.5" r="3.5"/>
<circle cx="723.9" cy="666.9" r="3.5"/>
<circle cx="728.8" cy="656.9" r="3.5"/>
<circle cx="732.7" cy="647.2" r="3.5"/>
<circle cx="737.2" cy="636.9" r="3.5"/>
<circle cx="742.6" cy="625.4" r="3.5"/>
<circle cx="747.4" cy="614.9" r="3.5"/>
<circle cx="756.1" cy="593.9" r="3.5"/>
<circle cx="760.7" cy="583.7" r="3.5"/>
<circle cx="765.5" cy="573" r="3.5"/>
<circle cx="770" cy="563.3" r="3.5"/>
<circle cx="774.7" cy="551.3" r="3.5"/>
<circle cx="779.6" cy="541.7" r="3.5"/>
<circle cx="783.9" cy="531.8" r="3.5"/>
<circle cx="788.6" cy="520.6" r="3.5"/>
<circle cx="793.9" cy="510.2" r="3.5"/>
<circle cx="798.1" cy="498.2" r="3.5"/>
<circle cx="804.2" cy="488.5" r="3.5"/>
<circle cx="807.2" cy="479" r="3.5"/>
<circle cx="812.6" cy="467.8" r="3.5"/>
<circle cx="817.8" cy="458.2" r="3.5"/>
<circle cx="822.2" cy="446.9" r="3.5"/>
<circle cx="827.2" cy="436.7" r="3.5"/>
<circle cx="830.2" cy="425.3" r="3.5"/>
<circle cx="835.9" cy="413.9" r="3.5"/>
<circle cx="840" cy="403.5" r="3.5"/>
<circle cx="846.2" cy="394.7" r="3.5"/>
<circle cx="850.5" cy="382.9" r="3.5"/>
<circle cx="854.8" cy="371.8" r="3.5"/>
<circle cx="860.2" cy="363.3" r="3.5"/>
<circle cx="863.8" cy="351.1" r="3.5"/>
<circle cx="868.5" cy="340.7" r="3.5"/>
<circle cx="874.2" cy="331.6" r="3.5"/>
<circle cx="878.7" cy="319.2" r="3.5"/>
<circle cx="881.9" cy="309.5" r="3.5"/>
<circle cx="886.5" cy="298.6" r="3.5"/>
<circle cx="890.6" cy="289" r="3.5"/>
<circle cx="897" cy="279.1" r="3.5"/>
<circle cx="901" cy="267.8" r="3.5"/>
<circle cx="906.8" cy="256.2" r="3.5"/>
<circle cx="910" cy="247.8" r="3.5"/>
<circle cx="914.1" cy="236.4" r="3.5"/>
<circle cx="918.9" cy="226.3" r="3.5"/>
<circle cx="925.3" cy="215" r="3.5"/>
<circle cx="928.7" cy="205.6" r="3.5"/>
<circle cx="728.9" cy="793.6" r="3.5"/>
<circle cx="734.7" cy="785.3" r="3.5"/>
<circle cx="740.4" cy="773.1" r="3.5"/>
<circle cx="745.4" cy="764.2" r="3.5"/>
<circle cx="752.6" cy="754" r="3.5"/>
<circle cx="758" cy="744.4" r="3.5"/>
<circle cx="763.7" cy="733.7" r="3.5"/>
<circle cx="768.6" cy="723.4" r="3.5"/>
<circle cx="774.4" cy="714.6" r="3.5"/>
<circle cx="779.8" cy="704.6" r="3.5"/>
<circle cx="784.9" cy="694.1" r="3.5"/>
<circle cx="791.2" cy="682.3" r="3.5"/>
<circle cx="794.9" cy="674.2" r="3.5"/>
<circle cx="800.5" cy="664" r="3.5"/>
<circle cx="807.2" cy="652.9" r="3.5"/>
<circle cx="812.5" cy="641.8" r="3.5"/>
<circle cx="816.8" cy="633" r="3.5"/>
<circle cx="823.9" cy="622.3" r="3.5"/>
<circle cx="830" cy="613.9" r="3.5"/>
<circle cx="834.9" cy="602" r="3.5"/>
<circle cx="840.5" cy="593.2" r="3.5"/>
<circle cx="845.5" cy="582.8" r="3.5"/>
<circle cx="850.2" cy="571.6" r="3.5"/>
<circle cx="857.8" cy="562.7" r="3.5"/>
<circle cx="862.6" cy="551.6" r="3.5"/>
<circle cx="868.2" cy="542.8" r="3.5"/>
<circle cx="874.1" cy="532.8" r="3.5"/>
<circle cx="879.6" cy="521.9" r="3.5"/>
<circle cx="885.4" cy="511.2" r="3.5"/>
<circle cx="890.5" cy="502.1" r="3.5"/>
<circle cx="895.6" cy="491.1" r="3.5"/>
<circle cx="912.4" cy="460.9" r="3.5"/>
<circle cx="917" cy="452.2" r="3.5"/>
<circle cx="923" cy="442.5" r="3.5"/>
<circle cx="929.8" cy="431.9" r="3.5"/>
<circle cx="934" cy="422.5" r="3.5"/>
<circle cx="939.9" cy="410.6" r="3.5"/>
<circle cx="944.4" cy="402.2" r="3.5"/>
<circle cx="952" cy="390.1" r="3.5"/>
<circle cx="956.5" cy="382.3" r="3.5"/>
<circle cx="961.6" cy="371.9" r="3.5"/>
<circle cx="967.4" cy="360.5" r="3.5"/>
<circle cx="973.7" cy="350.2" r="3.5"/>
<circle cx="980" cy="340" r="3.5"/>
<circle cx="985.1" cy="330.2" r="3.5"/>
<circle cx="989.7" cy="321" r="3.5"/>
<circle cx="997.3" cy="310.5" r="3.5"/>
<circle cx="1001.6" cy="300.7" r="3.5"/>
<circle cx="1008.3" cy="290.3" r="3.5"/>
<circle cx="1018.6" cy="270.7" r="3.5"/>
<circle cx="1025.3" cy="261.6" r="3.5"/>
<circle cx="736.3" cy="800.7" r="3.5"/>
<circle cx="743" cy="790.6" r="3.5"/>
<circle cx="749.3" cy="780.4" r="3.5"/>
<circle cx="753" cy="769.8" r="3.5"/>
<circle cx="759.5" cy="758.8" r="3.5"/>
<circle cx="763.5" cy="750" r="3.5"/>
<circle cx="769.5" cy="740.5" r="3.5"/>
<circle cx="776.1" cy="729.8" r="3.5"/>
<circle cx="786.8" cy="709.2" r="3.5"/>
<circle cx="792.1" cy="698.9" r="3.5"/>
<circle cx="796.4" cy="689.6" r="3.5"/>
<circle cx="802.1" cy="678.6" r="3.5"/>
<circle cx="807.4" cy="669.7" r="3.5"/>
<circle cx="813.2" cy="658" r="3.5"/>
<circle cx="819.6" cy="648" r="3.5"/>
<circle cx="824.1" cy="639.3" r="3.5"/>
<circle cx="830.9" cy="629.4" r="3.5"/>
<circle cx="835.5" cy="619.1" r="3.5"/>
<circle cx="840.7" cy="607.2" r="3.5"/>
<circle cx="846.4" cy="596.7" r="3.5"/>
<circle cx="852.1" cy="587.9" r="3.5"/>
<circle cx="857.6" cy="578.4" r="3.5"/>
<circle cx="863.6" cy="567.6" r="3.5"/>
<circle cx="872.9" cy="547" r="3.5"/>
<circle cx="878" cy="536.3" r="3.5"/>
<circle cx="883" cy="526.4" r="3.5"/>
<circle cx="889.8" cy="516.7" r="3.5"/>
<circle cx="895.5" cy="506.7" r="3.5"/>
<circle cx="900.6" cy="495.9" r="3.5"/>
<circle cx="905.6" cy="486.9" r="3.5"/>
<circle cx="911.8" cy="475.6" r="3.5"/>
<circle cx="915.7" cy="465.6" r="3.5"/>
<circle cx="923.1" cy="456.4" r="3.5"/>
<circle cx="928.9" cy="446" r="3.5"/>
<circle cx="932.4" cy="436.5" r="3.5"/>
<circle cx="938.1" cy="424.6" r="3.5"/>
<circle cx="945.3" cy="415.5" r="3.5"/>
<circle cx="950.5" cy="404.6" r="3.5"/>
<circle cx="954.2" cy="396.3" r="3.5"/>
<circle cx="961.7" cy="384.9" r="3.5"/>
<circle cx="966.4" cy="374.5" r="3.5"/>
<circle cx="971" cy="365.4" r="3.5"/>
<circle cx="976.4" cy="353.9" r="3.5"/>
<circle cx="982.1" cy="345.3" r="3.5"/>
<circle cx="989.3" cy="335.9" r="3.5"/>
<circle cx="993.1" cy="325.2" r="3.5"/>
<circle cx="999.9" cy="315.2" r="3.5"/>
<circle cx="1004.3" cy="303.7" r="3.5"/>
<circle cx="1011.4" cy="295.4" r="3.5"/>
<circle cx="1016.7" cy="283" r="3.5"/>
<circle cx="1021.7" cy="274.1" r="3.5"/>
<circle cx="1026" cy="264.4" r="3.5"/>
<circle cx="739.2" cy="796.6" r="3.5"/>
<circle cx="744.3" cy="785.9" r="3.5"/>
<circle cx="749.5" cy="777.3" r="3.5"/>
<circle cx="754.5" cy="765.6" r="3.5"/>
<circle cx="759.4" cy="755.2" r="3.5"/>
<circle cx="766.2" cy="744.7" r="3.5"/>
<circle cx="771.4" cy="734.8" r="3.5"/>
<circle cx="776.1" cy="725.3" r="3.5"/>
<circle cx="781.7" cy="715.7" r="3.5"/>
<circle cx="787" cy="704.2" r="3.5"/>
<circle cx="791.1" cy="693.8" r="3.5"/>
<circle cx="795.1" cy="684" r="3.5"/>
<circle cx="800.1" cy="672.9" r="3.5"/>
<circle cx="806.7" cy="662.2" r="3.5"/>
<circle cx="811.5" cy="653.6" r="3.5"/>
<circle cx="816.1" cy="643" r="3.5"/>
<circle cx="821.2" cy="632.9" r="3.5"/>
<circle cx="826.4" cy="622.5" r="3.5"/>
<circle cx="832.3" cy="612.8" r="3.5"/>
<circle cx="838.1" cy="602.3" r="3.5"/>
<circle cx="841.4" cy="592" r="3.5"/>
<circle cx="847" cy="580.1" r="3.5"/>
<circle cx="853.6" cy="571.4" r="3.5"/>
<circle cx="856.6" cy="561.2" r="3.5"/>
<circle cx="863.9" cy="549.7" r="3.5"/>
<circle cx="868.9" cy="540.6" r="3.5"/>
<circle cx="874.4" cy="529.5" r="3.5"/>
<circle cx="878.7" cy="518.2" r="3.5"/>
<circle cx="882.8" cy="509.6" r="3.5"/>
<circle cx="887.8" cy="499.2" r="3.5"/>
<circle cx="893" cy="488.3" r="3.5"/>
<circle cx="897.8" cy="478.5" r="3.5"/>
<circle cx="904.7" cy="468.4" r="3.5"/>
<circle cx="909.1" cy="456.5" r="3.5"/>
<circle cx="913" cy="447.8" r="3.5"/>
<circle cx="918.3" cy="436" r="3.5"/>
<circle cx="925.4" cy="425.6" r="3.5"/>
<circle cx="930.1" cy="415.9" r="3.5"/>
<circle cx="935.3" cy="407.2" r="3.5"/>
<circle cx="940.9" cy="396.3" r="3.5"/>
<circle cx="945.3" cy="385.3" r="3.5"/>
<circle cx="961.7" cy="355.8" r="3.5"/>
<circle cx="966" cy="344.2" r="3.5"/>
<circle cx="970.4" cy="333.7" r="3.5"/>
<circle cx="976.6" cy="323.4" r="3.5"/>
<circle cx="987.1" cy="302.9" r="3.5"/>
<circle cx="993.2" cy="292.6" r="3.5"/>
<circle cx="998" cy="282.3" r="3.5"/>
<circle cx="1002.7" cy="272.9" r="3.5"/>
<circle cx="1006.4" cy="262.9" r="3.5"/>
<circle cx="766.9" cy="808.5" r="3.5"/>
<circle cx="770" cy="798.2" r="3.5"/>
<circle cx="776.9" cy="788.3" r="3.5"/>
<circle cx="782" cy="777" r="3.5"/>
<circle cx="786.5" cy="767.2" r="3.5"/>
<circle cx="792.5" cy="755.9" r="3.5"/>
<circle cx="797.2" cy="745.6" r="3.5"/>
<circle cx="801.6" cy="736" r="3.5"/>
<circle cx="807.8" cy="725.7" r="3.5"/>
<circle cx="813.8" cy="716" r="3.5"/>
<circle cx="823.6" cy="695.7" r="3.5"/>
<circle cx="828.8" cy="685.7" r="3.5"/>
<circle cx="834.4" cy="675.6" r="3.5"/>
<circle cx="838.1" cy="665.8" r="3.5"/>
<circle cx="844.1" cy="654.9" r="3.5"/>
<circle cx="848.4" cy="645.4" r="3.5"/>
<circle cx="854.5" cy="633.7" r="3.5"/>
<circle cx="859.4" cy="624.9" r="3.5"/>
<circle cx="865.6" cy="614.7" r="3.5"/>
<circle cx="875.7" cy="593" r="3.5"/>
<circle cx="881.4" cy="582" r="3.5"/>
<circle cx="886.1" cy="572.6" r="3.5"/>
<circle cx="892.4" cy="562.5" r="3.5"/>
<circle cx="896.7" cy="552.9" r="3.5"/>
<circle cx="902.4" cy="540.9" r="3.5"/>
<circle cx="906.8" cy="532.3" r="3.5"/>
<circle cx="912.8" cy="521" r="3.5"/>
<circle cx="917.3" cy="510.9" r="3.5"/>
<circle cx="923.8" cy="501.6" r="3.5"/>
<circle cx="927.5" cy="490.8" r="3.5"/>
<circle cx="933.2" cy="480.1" r="3.5"/>
<circle cx="938.6" cy="470.1" r="3.5"/>
<circle cx="942.9" cy="459.8" r="3.5"/>
<circle cx="949.1" cy="449.4" r="3.5"/>
<circle cx="953.1" cy="440.1" r="3.5"/>
<circle cx="959.8" cy="429.6" r="3.5"/>
<circle cx="964.9" cy="418.4" r="3.5"/>
<circle cx="968.7" cy="408.1" r="3.5"/>
<circle cx="974.4" cy="399.2" r="3.5"/>
<circle cx="979.4" cy="387.2" r="3.5"/>
<circle cx="985.6" cy="377.3" r="3.5"/>
<circle cx="989.7" cy="367" r="3.5"/>
<circle cx="995.5" cy="357.1" r="3.5"/>
<circle cx="1001.7" cy="346.2" r="3.5"/>
<circle cx="1005" cy="335.8" r="3.5"/>
<circle cx="1012" cy="326.2" r="3.5"/>
<circle cx="1016.9" cy="315.6" r="3.5"/>
<circle cx="1027" cy="295.7" r="3.5"/>
<circle cx="1031.7" cy="285.6" r="3.5"/>
<circle cx="1036.9" cy="276.3" r="3.5"/>
<circle cx="1043.1" cy="265.2" r="3.5"/>
<circle cx="801.1" cy="823" r="3.5"/>
<circle cx="808.1" cy="814.4" r="3.5"/>
<circle cx="814.3" cy="803.9" r="3.5"/>
<circle cx="819.7" cy="793.8" r="3.5"/>
<circle cx="823.6" cy="782.9" r="3.5"/>
<circle cx="830.4" cy="773.8" r="3.5"/>
<circle cx="836.3" cy="763.5" r="3.5"/>
<circle cx="839.9" cy="753.5" r="3.5"/>
<circle cx="846.6" cy="742.6" r="3.5"/>
<circle cx="851.9" cy="732.3" r="3.5"/>
<circle cx="858.5" cy="723.7" r="3.5"/>
<circle cx="862.3" cy="711.9" r="3.5"/>
<circle cx="867.6" cy="702" r="3.5"/>
<circle cx="874.2" cy="693.4" r="3.5"/>
<circle cx="879.5" cy="682.2" r="3.5"/>
<circle cx="884.9" cy="673.4" r="3.5"/>
<circle cx="891.4" cy="661.5" r="3.5"/>
<circle cx="901.6" cy="643.5" r="3.5"/>
<circle cx="907.1" cy="631.7" r="3.5"/>
<circle cx="913.8" cy="621.5" r="3.5"/>
<circle cx="919.4" cy="612.8" r="3.5"/>
<circle cx="925" cy="602.2" r="3.5"/>
<circle cx="930.4" cy="592.2" r="3.5"/>
<circle cx="934.5" cy="581.6" r="3.5"/>
<circle cx="947.1" cy="561.6" r="3.5"/>
<circle cx="952.6" cy="551.6" r="3.5"/>
<circle cx="956.6" cy="541" r="3.5"/>
<circle cx="963.3" cy="531.7" r="3.5"/>
<circle cx="969" cy="521.5" r="3.5"/>
<circle cx="973.2" cy="511.9" r="3.5"/>
<circle cx="978.5" cy="501.5" r="3.5"/>
<circle cx="989.1" cy="481.9" r="3.5"/>
<circle cx="995.1" cy="471.2" r="3.5"/>
<circle cx="1000.6" cy="462.1" r="3.5"/>
<circle cx="1007.2" cy="451.8" r="3.5"/>
<circle cx="1011.4" cy="440.2" r="3.5"/>
<circle cx="1019" cy="429.9" r="3.5"/>
<circle cx="1024.3" cy="419.7" r="3.5"/>
<circle cx="1028.7" cy="411.1" r="3.5"/>
<circle cx="1034.8" cy="400.6" r="3.5"/>
<circle cx="1039.4" cy="390.5" r="3.5"/>
<circle cx="1046.9" cy="379.5" r="3.5"/>
<circle cx="1050.4" cy="369.3" r="3.5"/>
<circle cx="1056.2" cy="360.4" r="3.5"/>
<circle cx="1062.2" cy="349.9" r="3.5"/>
<circle cx="1073.8" cy="329.9" r="3.5"/>
<circle cx="1078.5" cy="320.3" r="3.5"/>
<circle cx="1083.9" cy="310.3" r="3.5"/>
<circle cx="1088.9" cy="300.4" r="3.5"/>
<circle cx="1095" cy="288.8" r="3.5"/>
<circle cx="1100.2" cy="278.8" r="3.5"/>
<circle cx="810" cy="831.9" r="3.5"/>
<circle cx="814.6" cy="821.9" r="3.5"/>
<circle cx="819.7" cy="812.5" r="3.5"/>
<circle cx="824.5" cy="802.4" r="3.5"/>
<circle cx="829.9" cy="792.1" r="3.5"/>
<circle cx="835.2" cy="782.8" r="3.5"/>
<circle cx="840.7" cy="772.5" r="3.5"/>
<circle cx="846.8" cy="760.2" r="3.5"/>
<circle cx="852.4" cy="749.9" r="3.5"/>
<circle cx="856.4" cy="741.3" r="3.5"/>
<circle cx="863.2" cy="731.7" r="3.5"/>
<circle cx="867.8" cy="720.3" r="3.5"/>
<circle cx="872.6" cy="711.2" r="3.5"/>
<circle cx="877.6" cy="700.8" r="3.5"/>
<circle cx="883" cy="689.7" r="3.5"/>
<circle cx="888.8" cy="678.2" r="3.5"/>
<circle cx="898.2" cy="658.9" r="3.5"/>
<circle cx="904.2" cy="649.8" r="3.5"/>
<circle cx="909.7" cy="637.7" r="3.5"/>
<circle cx="915.8" cy="628.9" r="3.5"/>
<circle cx="919.5" cy="618.1" r="3.5"/>
<circle cx="925.9" cy="607.9" r="3.5"/>
<circle cx="930.4" cy="597.6" r="3.5"/>
<circle cx="934.8" cy="587.2" r="3.5"/>
<circle cx="941.8" cy="577.5" r="3.5"/>
<circle cx="945.8" cy="567.8" r="3.5"/>
<circle cx="952" cy="557.2" r="3.5"/>
<circle cx="957.9" cy="547.3" r="3.5"/>
<circle cx="961.1" cy="536.9" r="3.5"/>
<circle cx="967.3" cy="526.5" r="3.5"/>
<circle cx="972.7" cy="516.1" r="3.5"/>
<circle cx="978.6" cy="505.3" r="3.5"/>
<circle cx="987.7" cy="485.6" r="3.5"/>
<circle cx="993.6" cy="475.3" r="3.5"/>
<circle cx="998.5" cy="465.3" r="3.5"/>
<circle cx="1003.4" cy="455.1" r="3.5"/>
<circle cx="1008.1" cy="444.8" r="3.5"/>
<circle cx="1014.6" cy="432.4" r="3.5"/>
<circle cx="1019.6" cy="423.5" r="3.5"/>
<circle cx="1023.1" cy="413.7" r="3.5"/>
<circle cx="1030.2" cy="401.9" r="3.5"/>
<circle cx="1034.2" cy="391.7" r="3.5"/>
<circle cx="1039.4" cy="381" r="3.5"/>
<circle cx="1043.5" cy="371" r="3.5"/>
<circle cx="1050.4" cy="360.4" r="3.5"/>
<circle cx="1054.4" cy="351.4" r="3.5"/>
<circle cx="1060" cy="340" r="3.5"/>
<circle cx="1065.1" cy="330.6" r="3.5"/>
<circle cx="1069.5" cy="319.1" r="3.5"/>
<circle cx="1075.5" cy="310.1" r="3.5"/>
<circle cx="1079.3" cy="298.7" r="3.5"/>
<circle cx="1085.3" cy="290" r="3.5"/>
<circle cx="1090.6" cy="278.8" r="3.5"/>
<circle cx="798.8" cy="827.6" r="3.5"/>
<circle cx="803" cy="819" r="3.5"/>
<circle cx="807.3" cy="806.9" r="3.5"/>
<circle cx="811.1" cy="796.6" r="3.5"/>
<circle cx="815.6" cy="786.6" r="3.5"/>
<circle cx="822.1" cy="776.1" r="3.5"/>
<circle cx="825.6" cy="764.5" r="3.5"/>
<circle cx="834.9" cy="744.6" r="3.5"/>
<circle cx="840.1" cy="732.5" r="3.5"/>
<circle cx="848.7" cy="712.3" r="3.5"/>
<circle cx="854.3" cy="700.8" r="3.5"/>
<circle cx="858.8" cy="691.6" r="3.5"/>
<circle cx="861.7" cy="680.1" r="3.5"/>
<circle cx="866.2" cy="669.6" r="3.5"/>
<circle cx="871.3" cy="658.9" r="3.5"/>
<circle cx="876.6" cy="649" r="3.5"/>
<circle cx="881.5" cy="638.3" r="3.5"/>
<circle cx="884.6" cy="628" r="3.5"/>
<circle cx="890.7" cy="616.6" r="3.5"/>
<circle cx="893.9" cy="607.8" r="3.5"/>
<circle cx="900.2" cy="596.8" r="3.5"/>
<circle cx="903.8" cy="586.4" r="3.5"/>
<circle cx="908.3" cy="576.5" r="3.5"/>
<circle cx="913.6" cy="564.6" r="3.5"/>
<circle cx="918.8" cy="553.4" r="3.5"/>
<circle cx="922.7" cy="543.5" r="3.5"/>
<circle cx="927.7" cy="532.5" r="3.5"/>
<circle cx="931.3" cy="521.8" r="3.5"/>
<circle cx="935.2" cy="511" r="3.5"/>
<circle cx="940" cy="502.8" r="3.5"/>
<circle cx="945.9" cy="492.3" r="3.5"/>
<circle cx="949.3" cy="481.5" r="3.5"/>
<circle cx="955.8" cy="469.9" r="3.5"/>
<circle cx="960.2" cy="460.2" r="3.5"/>
<circle cx="962.9" cy="449.1" r="3.5"/>
<circle cx="969.2" cy="438.3" r="3.5"/>
<circle cx="973.2" cy="427.2" r="3.5"/>
<circle cx="976.8" cy="416.8" r="3.5"/>
<circle cx="981.4" cy="406.6" r="3.5"/>
<circle cx="987.4" cy="397.2" r="3.5"/>
<circle cx="990.3" cy="385.3" r="3.5"/>
<circle cx="996.3" cy="373.9" r="3.5"/>
<circle cx="1000.1" cy="365.3" r="3.5"/>
<circle cx="1005" cy="353.4" r="3.5"/>
<circle cx="1010" cy="343.9" r="3.5"/>
<circle cx="1013.2" cy="333.6" r="3.5"/>
<circle cx="1017.2" cy="322.2" r="3.5"/>
<circle cx="1021" cy="311.7" r="3.5"/>
<circle cx="1025.6" cy="299.5" r="3.5"/>
<circle cx="1031.5" cy="290.8" r="3.5"/>
<circle cx="1035.8" cy="280.1" r="3.5"/>
<circle cx="1039.1" cy="268.9" r="3.5"/>
<circle cx="840" cy="841.3" r="3.5"/>
<circle cx="846.2" cy="830.2" r="3.5"/>
<circle cx="849.6" cy="819.9" r="3.5"/>
<circle cx="855" cy="808.7" r="3.5"/>
<circle cx="861.6" cy="798.4" r="3.5"/>
<circle cx="865.1" cy="789.6" r="3.5"/>
<circle cx="870.5" cy="778.2" r="3.5"/>
<circle cx="875.4" cy="769.8" r="3.5"/>
<circle cx="881.2" cy="757.1" r="3.5"/>
<circle cx="886.2" cy="747.4" r="3.5"/>
<circle cx="892.1" cy="737.7" r="3.5"/>
<circle cx="897.2" cy="728.1" r="3.5"/>
<circle cx="902.5" cy="716.5" r="3.5"/>
<circle cx="905.8" cy="707.2" r="3.5"/>
<circle cx="911.9" cy="697" r="3.5"/>
<circle cx="917.3" cy="686.1" r="3.5"/>
<circle cx="922.1" cy="674.7" r="3.5"/>
<circle cx="927.4" cy="665" r="3.5"/>
<circle cx="932.6" cy="654.2" r="3.5"/>
<circle cx="938.2" cy="645.4" r="3.5"/>
<circle cx="942.2" cy="633.7" r="3.5"/>
<circle cx="947.9" cy="624.8" r="3.5"/>
<circle cx="952.3" cy="612.7" r="3.5"/>
<circle cx="957.8" cy="604.3" r="3.5"/>
<circle cx="962" cy="592.5" r="3.5"/>
<circle cx="968" cy="581.7" r="3.5"/>
<circle cx="972.6" cy="572" r="3.5"/>
<circle cx="976.5" cy="563.2" r="3.5"/>
<circle cx="983.5" cy="552.1" r="3.5"/>
<circle cx="986.7" cy="542.6" r="3.5"/>
<circle cx="991.7" cy="530.6" r="3.5"/>
<circle cx="998" cy="520.8" r="3.5"/>
<circle cx="1002.8" cy="509.6" r="3.5"/>
<circle cx="1007.1" cy="498.9" r="3.5"/>
<circle cx="1012.7" cy="488.5" r="3.5"/>
<circle cx="1017.8" cy="480.2" r="3.5"/>
<circle cx="1023.6" cy="469.7" r="3.5"/>
<circle cx="1032.1" cy="449.3" r="3.5"/>
<circle cx="1036.7" cy="437.5" r="3.5"/>
<circle cx="1042.2" cy="427.1" r="3.5"/>
<circle cx="1047.6" cy="418.1" r="3.5"/>
<circle cx="1051.4" cy="406.1" r="3.5"/>
<circle cx="1057.2" cy="395.3" r="3.5"/>
<circle cx="1063" cy="385.5" r="3.5"/>
<circle cx="1068.4" cy="375.5" r="3.5"/>
<circle cx="1072.5" cy="365" r="3.5"/>
<circle cx="1077.9" cy="355" r="3.5"/>
<circle cx="1083.3" cy="345.5" r="3.5"/>
<circle cx="1086.6" cy="334" r="3.5"/>
<circle cx="1098.6" cy="313.3" r="3.5"/>
<circle cx="1103.6" cy="303.7" r="3.5"/>
<circle cx="1108.1" cy="292.7" r="3.5"/>
<circle cx="1113.1" cy="282.6" r="3.5"/>
<circle cx="847.6" cy="844.2" r="3.5"/>
<circle cx="850.9" cy="833.9" r="3.5"/>
<circle cx="856.7" cy="825" r="3.5"/>
<circle cx="860.6" cy="814.3" r="3.5"/>
<circle cx="864.2" cy="803.2" r="3.5"/>
<circle cx="869.8" cy="792.3" r="3.5"/>
<circle cx="874.2" cy="781.6" r="3.5"/>
<circle cx="879.7" cy="771.4" r="3.5"/>
<circle cx="882.7" cy="759.8" r="3.5"/>
<circle cx="889.1" cy="751.4" r="3.5"/>
<circle cx="892.2" cy="740" r="3.5"/>
<circle cx="898.2" cy="729" r="3.5"/>
<circle cx="906.1" cy="707.6" r="3.5"/>
<circle cx="912.3" cy="697" r="3.5"/>
<circle cx="915.7" cy="686.5" r="3.5"/>
<circle cx="920.7" cy="675.7" r="3.5"/>
<circle cx="924.3" cy="665.6" r="3.5"/>
<circle cx="929.7" cy="656.6" r="3.5"/>
<circle cx="934.8" cy="644" r="3.5"/>
<circle cx="940.3" cy="634.8" r="3.5"/>
<circle cx="943.7" cy="624.7" r="3.5"/>
<circle cx="947.7" cy="613.1" r="3.5"/>
<circle cx="953.3" cy="603.8" r="3.5"/>
<circle cx="957.6" cy="592.4" r="3.5"/>
<circle cx="963.2" cy="581.8" r="3.5"/>
<circle cx="967.1" cy="572.3" r="3.5"/>
<circle cx="970.6" cy="560.6" r="3.5"/>
<circle cx="976.7" cy="549.2" r="3.5"/>
<circle cx="980.6" cy="540.4" r="3.5"/>
<circle cx="985.7" cy="528.8" r="3.5"/>
<circle cx="989.2" cy="519.2" r="3.5"/>
<circle cx="994.4" cy="509.5" r="3.5"/>
<circle cx="1000.3" cy="498.4" r="3.5"/>
<circle cx="1004.3" cy="487" r="3.5"/>
<circle cx="1014.2" cy="466.5" r="3.5"/>
<circle cx="1024" cy="445.3" r="3.5"/>
<circle cx="1027.5" cy="435.6" r="3.5"/>
<circle cx="1031.3" cy="424.5" r="3.5"/>
<circle cx="1037.7" cy="414" r="3.5"/>
<circle cx="1041.5" cy="403.8" r="3.5"/>
<circle cx="1046.7" cy="391.5" r="3.5"/>
<circle cx="1050.6" cy="382" r="3.5"/>
<circle cx="1055" cy="371.6" r="3.5"/>
<circle cx="1060.8" cy="361" r="3.5"/>
<circle cx="1065.5" cy="350.4" r="3.5"/>
<circle cx="1069.8" cy="338.8" r="3.5"/>
<circle cx="1074" cy="328.6" r="3.5"/>
<circle cx="1078" cy="318.7" r="3.5"/>
<circle cx="1084.3" cy="307.5" r="3.5"/>
<circle cx="1086.9" cy="297.7" r="3.5"/>
<circle cx="1093.7" cy="287.4" r="3.5"/>
<circle cx="1096.8" cy="276.9" r="3.5"/>
<circle cx="851.4" cy="836" r="3.5"/>
<circle cx="858.1" cy="826.4" r="3.5"/>
<circle cx="861" cy="815.3" r="3.5"/>
<circle cx="865.8" cy="804.8" r="3.5"/>
<circle cx="871" cy="794.6" r="3.5"/>
<circle cx="874.5" cy="784.4" r="3.5"/>
<circle cx="879.7" cy="773.8" r="3.5"/>
<circle cx="884.5" cy="762.9" r="3.5"/>
<circle cx="890.3" cy="752.7" r="3.5"/>
<circle cx="892.5" cy="742.4" r="3.5"/>
<circle cx="897.5" cy="729.7" r="3.5"/>
<circle cx="903.3" cy="720" r="3.5"/>
<circle cx="906.4" cy="709.7" r="3.5"/>
<circle cx="913" cy="698" r="3.5"/>
<circle cx="917.7" cy="687.4" r="3.5"/>
<circle cx="921.5" cy="677.1" r="3.5"/>
<circle cx="925.4" cy="668.4" r="3.5"/>
<circle cx="931.5" cy="657.8" r="3.5"/>
<circle cx="935.6" cy="647.1" r="3.5"/>
<circle cx="939.4" cy="637" r="3.5"/>
<circle cx="945" cy="624.7" r="3.5"/>
<circle cx="949.4" cy="614.8" r="3.5"/>
<circle cx="953.2" cy="603.7" r="3.5"/>
<circle cx="958.5" cy="593.2" r="3.5"/>
<circle cx="962.5" cy="583.9" r="3.5"/>
<circle cx="968.5" cy="572.1" r="3.5"/>
<circle cx="972.3" cy="561" r="3.5"/>
<circle cx="976.6" cy="551.7" r="3.5"/>
<circle cx="981.1" cy="540.2" r="3.5"/>
<circle cx="985.3" cy="529.6" r="3.5"/>
<circle cx="989.9" cy="520.5" r="3.5"/>
<circle cx="995.9" cy="509.7" r="3.5"/>
<circle cx="1000.2" cy="499.7" r="3.5"/>
<circle cx="1003" cy="489.3" r="3.5"/>
<circle cx="1009" cy="478.8" r="3.5"/>
<circle cx="1013.9" cy="466.8" r="3.5"/>
<circle cx="1018.5" cy="457.2" r="3.5"/>
<circle cx="1023.7" cy="447.2" r="3.5"/>
<circle cx="1027.9" cy="435.2" r="3.5"/>
<circle cx="1032.9" cy="425.1" r="3.5"/>
<circle cx="1036.5" cy="414.7" r="3.5"/>
<circle cx="1040.4" cy="405.1" r="3.5"/>
<circle cx="1046.7" cy="394" r="3.5"/>
<circle cx="1051.9" cy="383.6" r="3.5"/>
<circle cx="1055.1" cy="373.3" r="3.5"/>
<circle cx="1059.4" cy="363.2" r="3.5"/>
<circle cx="1064.3" cy="352.7" r="3.5"/>
<circle cx="1068.8" cy="341.1" r="3.5"/>
<circle cx="1074.6" cy="329.7" r="3.5"/>
<circle cx="1078.8" cy="319.9" r="3.5"/>
<circle cx="1083.9" cy="309.6" r="3.5"/>
<circle cx="1089.9" cy="300.5" r="3.5"/>
<circle cx="1094" cy="288.5" r="3.5"/>
<circle cx="1098.4" cy="279.5" r="3.5"/>
<circle cx="884.2" cy="842.6" r="3.5"/>
<circle cx="890.8" cy="831.7" r="3.5"/>
<circle cx="895" cy="821.8" r="3.5"/>
<circle cx="899.9" cy="811.4" r="3.5"/>
<circle cx="905.8" cy="800.2" r="3.5"/>
<circle cx="909.5" cy="790.2" r="3.5"/>
<circle cx="915.9" cy="780.1" r="3.5"/>
<circle cx="919.2" cy="770.7" r="3.5"/>
<circle cx="926" cy="759.2" r="3.5"/>
<circle cx="930.5" cy="748.8" r="3.5"/>
<circle cx="934.4" cy="739" r="3.5"/>
<circle cx="939.1" cy="727.4" r="3.5"/>
<circle cx="944" cy="718.3" r="3.5"/>
<circle cx="950.1" cy="706.9" r="3.5"/>
<circle cx="955.5" cy="696.8" r="3.5"/>
<circle cx="959.4" cy="687.8" r="3.5"/>
<circle cx="965.6" cy="677.9" r="3.5"/>
<circle cx="971.4" cy="667.2" r="3.5"/>
<circle cx="974.4" cy="655.5" r="3.5"/>
<circle cx="980.5" cy="644.9" r="3.5"/>
<circle cx="985.8" cy="635.8" r="3.5"/>
<circle cx="991.1" cy="624.5" r="3.5"/>
<circle cx="1001" cy="604" r="3.5"/>
<circle cx="1006.1" cy="595.3" r="3.5"/>
<circle cx="1012.4" cy="585.3" r="3.5"/>
<circle cx="1016.5" cy="575.2" r="3.5"/>
<circle cx="1022.4" cy="564.9" r="3.5"/>
<circle cx="1027.8" cy="554.2" r="3.5"/>
<circle cx="1032.7" cy="544.4" r="3.5"/>
<circle cx="1037.2" cy="533.7" r="3.5"/>
<circle cx="1043.9" cy="522.9" r="3.5"/>
<circle cx="1049.3" cy="512.6" r="3.5"/>
<circle cx="1053.5" cy="503.4" r="3.5"/>
<circle cx="1057.8" cy="491.5" r="3.5"/>
<circle cx="1064.2" cy="482" r="3.5"/>
<circle cx="1069.4" cy="471.1" r="3.5"/>
<circle cx="1074.9" cy="462" r="3.5"/>
<circle cx="1078.9" cy="451" r="3.5"/>
<circle cx="1083.9" cy="440.1" r="3.5"/>
<circle cx="1096.1" cy="419.4" r="3.5"/>
<circle cx="1099.9" cy="409.8" r="3.5"/>
<circle cx="1106.1" cy="400.4" r="3.5"/>
<circle cx="1110.1" cy="389" r="3.5"/>
<circle cx="1116.5" cy="378.8" r="3.5"/>
<circle cx="1121.5" cy="369.4" r="3.5"/>
<circle cx="1125.1" cy="357.8" r="3.5"/>
<circle cx="1013.4" cy="625.4" r="3.5"/>
<circle cx="1019.4" cy="614.2" r="3.5"/>
<circle cx="1024.5" cy="604.7" r="3.5"/>
<circle cx="1028.3" cy="595.7" r="3.5"/>
<circle cx="1034.2" cy="585.5" r="3.5"/>
<circle cx="1039.3" cy="575.3" r="3.5"/>
<circle cx="1044.8" cy="564.9" r="3.5"/>
<circle cx="1051.3" cy="554" r="3.5"/>
<circle cx="1055.8" cy="542.5" r="3.5"/>
<circle cx="1061.1" cy="533.6" r="3.5"/>
<circle cx="1065.7" cy="522.6" r="3.5"/>
<circle cx="1071.9" cy="513.1" r="3.5"/>
<circle cx="1075.8" cy="502.7" r="3.5"/>
<circle cx="1081.9" cy="492.6" r="3.5"/>
<circle cx="1086.9" cy="481.6" r="3.5"/>
<circle cx="1000.5" cy="649.3" r="3.5"/>
<circle cx="1005.6" cy="640.5" r="3.5"/>
<circle cx="1010.2" cy="628.3" r="3.5"/>
<circle cx="1013.9" cy="619.1" r="3.5"/>
<circle cx="1018.8" cy="607.8" r="3.5"/>
<circle cx="1023" cy="598.5" r="3.5"/>
<circle cx="1027.1" cy="586.5" r="3.5"/>
<circle cx="1031.5" cy="575.4" r="3.5"/>
<circle cx="1036.8" cy="564.7" r="3.5"/>
<circle cx="1041.2" cy="554.4" r="3.5"/>
<circle cx="1045.1" cy="544.1" r="3.5"/>
<circle cx="1050.5" cy="535.1" r="3.5"/>
<circle cx="1055.7" cy="523.2" r="3.5"/>
<circle cx="1059.2" cy="514" r="3.5"/>
<circle cx="1065" cy="502" r="3.5"/>
<circle cx="1070" cy="492.5" r="3.5"/>
<circle cx="1073.5" cy="481" r="3.5"/>
<circle cx="1077.9" cy="471" r="3.5"/>
<circle cx="1082.9" cy="459.6" r="3.5"/>
<circle cx="1088.2" cy="450.1" r="3.5"/>
<circle cx="1092.4" cy="440.6" r="3.5"/>
<circle cx="1097.4" cy="428.7" r="3.5"/>
<circle cx="1102.6" cy="419.5" r="3.5"/>
<circle cx="1107" cy="407.6" r="3.5"/>
<circle cx="1112.7" cy="396.8" r="3.5"/>
<circle cx="1116.6" cy="388" r="3.5"/>
<circle cx="1122.2" cy="377.9" r="3.5"/>
<circle cx="1125" cy="366" r="3.5"/>
<circle cx="462" cy="483" r="2.8" stroke-width="1.3"/>
<circle cx="464.2" cy="479.9" r="2.8" stroke-width="1.3"/>
<circle cx="466.3" cy="476.8" r="2.8" stroke-width="1.3"/>
<circle cx="468.5" cy="473.8" r="2.8" stroke-width="1.3"/>
<circle cx="470.6" cy="470.7" r="2.8" stroke-width="1.3"/>
<circle cx="472.8" cy="467.6" r="2.8" stroke-width="1.3"/>
<circle cx="475" cy="464.5" r="2.8" stroke-width="1.3"/>
<circle cx="477.1" cy="461.4" r="2.8" stroke-width="1.3"/>
<circle cx="479.3" cy="458.4" r="2.8" stroke-width="1.3"/>
<circle cx="481.4" cy="455.3" r="2.8" stroke-width="1.3"/>
<circle cx="483.6" cy="452.2" r="2.8" stroke-width="1.3"/>
<circle cx="485.8" cy="449.1" r="2.8" stroke-width="1.3"/>
<circle cx="487.9" cy="446" r="2.8" stroke-width="1.3"/>
<circle cx="490.1" cy="443" r="2.8" stroke-width="1.3"/>
<circle cx="492.2" cy="439.9" r="2.8" stroke-width="1.3"/>
<circle cx="494.4" cy="436.8" r="2.8" stroke-width="1.3"/>
<circle cx="496.6" cy="433.7" r="2.8" stroke-width="1.3"/>
<circle cx="498.7" cy="430.6" r="2.8" stroke-width="1.3"/>
<circle cx="500.9" cy="427.6" r="2.8" stroke-width="1.3"/>
<circle cx="503" cy="424.5" r="2.8" stroke-width="1.3"/>
<circle cx="505.2" cy="421.4" r="2.8" stroke-width="1.3"/>
<circle cx="507.4" cy="418.3" r="2.8" stroke-width="1.3"/>
<circle cx="509.5" cy="415.2" r="2.8" stroke-width="1.3"/>
<circle cx="511.7" cy="412.2" r="2.8" stroke-width="1.3"/>
<circle cx="513.8" cy="409.1" r="2.8" stroke-width="1.3"/>
<circle cx="516" cy="406" r="2.8" stroke-width="1.3"/>
<circle cx="518.2" cy="402.9" r="2.8" stroke-width="1.3"/>
<circle cx="520.3" cy="399.8" r="2.8" stroke-width="1.3"/>
<circle cx="522.5" cy="396.8" r="2.8" stroke-width="1.3"/>
<circle cx="524.6" cy="393.7" r="2.8" stroke-width="1.3"/>
<circle cx="526.8" cy="390.6" r="2.8" stroke-width="1.3"/>
<circle cx="529" cy="387.5" r="2.8" stroke-width="1.3"/>
<circle cx="531.1" cy="384.4" r="2.8" stroke-width="1.3"/>
<circle cx="533.3" cy="381.4" r="2.8" stroke-width="1.3"/>
<circle cx="535.4" cy="378.3" r="2.8" stroke-width="1.3"/>
<circle cx="537.6" cy="375.2" r="2.8" stroke-width="1.3"/>
<circle cx="539.8" cy="372.1" r="2.8" stroke-width="1.3"/>
<circle cx="541.9" cy="369" r="2.8" stroke-width="1.3"/>
<circle cx="544.1" cy="366" r="2.8" stroke-width="1.3"/>
<circle cx="546.2" cy="362.9" r="2.8" stroke-width="1.3"/>
<circle cx="548.4" cy="359.8" r="2.8" stroke-width="1.3"/>
<circle cx="550.6" cy="356.7" r="2.8" stroke-width="1.3"/>
<circle cx="552.7" cy="353.6" r="2.8" stroke-width="1.3"/>
<circle cx="554.9" cy="350.6" r="2.8" stroke-width="1.3"/>
<circle cx="557" cy="347.5" r="2.8" stroke-width="1.3"/>
<circle cx="559.2" cy="344.4" r="2.8" stroke-width="1.3"/>
<circle cx="561.4" cy="341.3" r="2.8" stroke-width="1.3"/>
<circle cx="563.5" cy="338.2" r="2.8" stroke-width="1.3"/>
<circle cx="565.7" cy="335.2" r="2.8" stroke-width="1.3"/>
<circle cx="567.8" cy="332.1" r="2.8" stroke-width="1.3"/>
<circle cx="570" cy="329" r="2.8" stroke-width="1.3"/>
<circle cx="466.8" cy="486.6" r="2.8" stroke-width="1.3"/>
<circle cx="469" cy="483.5" r="2.8" stroke-width="1.3"/>
<circle cx="471.1" cy="480.4" r="2.8" stroke-width="1.3"/>
<circle cx="473.3" cy="477.4" r="2.8" stroke-width="1.3"/>
<circle cx="475.4" cy="474.3" r="2.8" stroke-width="1.3"/>
<circle cx="477.6" cy="471.2" r="2.8" stroke-width="1.3"/>
<circle cx="479.8" cy="468.1" r="2.8" stroke-width="1.3"/>
<circle cx="481.9" cy="465" r="2.8" stroke-width="1.3"/>
<circle cx="484.1" cy="462" r="2.8" stroke-width="1.3"/>
<circle cx="486.2" cy="458.9" r="2.8" stroke-width="1.3"/>
<circle cx="488.4" cy="455.8" r="2.8" stroke-width="1.3"/>
<circle cx="490.6" cy="452.7" r="2.8" stroke-width="1.3"/>
<circle cx="492.7" cy="449.6" r="2.8" stroke-width="1.3"/>
<circle cx="494.9" cy="446.6" r="2.8" stroke-width="1.3"/>
<circle cx="497" cy="443.5" r="2.8" stroke-width="1.3"/>
<circle cx="499.2" cy="440.4" r="2.8" stroke-width="1.3"/>
<circle cx="501.4" cy="437.3" r="2.8" stroke-width="1.3"/>
<circle cx="503.5" cy="434.2" r="2.8" stroke-width="1.3"/>
<circle cx="505.7" cy="431.2" r="2.8" stroke-width="1.3"/>
<circle cx="507.8" cy="428.1" r="2.8" stroke-width="1.3"/>
<circle cx="510" cy="425" r="2.8" stroke-width="1.3"/>
<circle cx="512.2" cy="421.9" r="2.8" stroke-width="1.3"/>
<circle cx="514.3" cy="418.8" r="2.8" stroke-width="1.3"/>
<circle cx="516.5" cy="415.8" r="2.8" stroke-width="1.3"/>
<circle cx="518.6" cy="412.7" r="2.8" stroke-width="1.3"/>
<circle cx="520.8" cy="409.6" r="2.8" stroke-width="1.3"/>
<circle cx="523" cy="406.5" r="2.8" stroke-width="1.3"/>
<circle cx="525.1" cy="403.4" r="2.8" stroke-width="1.3"/>
<circle cx="527.3" cy="400.4" r="2.8" stroke-width="1.3"/>
<circle cx="529.4" cy="397.3" r="2.8" stroke-width="1.3"/>
<circle cx="531.6" cy="394.2" r="2.8" stroke-width="1.3"/>
<circle cx="533.8" cy="391.1" r="2.8" stroke-width="1.3"/>
<circle cx="535.9" cy="388" r="2.8" stroke-width="1.3"/>
<circle cx="538.1" cy="385" r="2.8" stroke-width="1.3"/>
<circle cx="540.2" cy="381.9" r="2.8" stroke-width="1.3"/>
<circle cx="542.4" cy="378.8" r="2.8" stroke-width="1.3"/>
<circle cx="544.6" cy="375.7" r="2.8" stroke-width="1.3"/>
<circle cx="546.7" cy="372.6" r="2.8" stroke-width="1.3"/>
<circle cx="548.9" cy="369.6" r="2.8" stroke-width="1.3"/>
<circle cx="551" cy="366.5" r="2.8" stroke-width="1.3"/>
<circle cx="553.2" cy="363.4" r="2.8" stroke-width="1.3"/>
<circle cx="555.4" cy="360.3" r="2.8" stroke-width="1.3"/>
<circle cx="557.5" cy="357.2" r="2.8" stroke-width="1.3"/>
<circle cx="559.7" cy="354.2" r="2.8" stroke-width="1.3"/>
<circle cx="561.8" cy="351.1" r="2.8" stroke-width="1.3"/>
<circle cx="564" cy="348" r="2.8" stroke-width="1.3"/>
<circle cx="566.2" cy="344.9" r="2.8" stroke-width="1.3"/>
<circle cx="568.3" cy="341.8" r="2.8" stroke-width="1.3"/>
<circle cx="570.5" cy="338.8" r="2.8" stroke-width="1.3"/>
<circle cx="572.6" cy="335.7" r="2.8" stroke-width="1.3"/>
<circle cx="574.8" cy="332.6" r="2.8" stroke-width="1.3"/>
</g>
<polyline points="391,893 547,577 551,568 730,236 735,226 861,16" fill="none" stroke="#ff0000" stroke-width="8" clip-path="url(#mapclip)"/>
<g fill="#00ff00">
<rect x="668.7" y="247.9" width="7.5" height="7.5"/>
<rect x="682.8" y="257.6" width="7.5" height="7.5"/>
<rect x="664" y="258.7" width="7.5" height="7.5"/>
<rect x="676.3" y="268.4" width="7.5" height="7.5"/>
<rect x="647.1" y="280.3" width="7.5" height="7.5"/>
<rect x="667.6" y="279.2" width="7.5" height="7.5"/>
<rect x="659" y="291.1" width="7.5" height="7.5"/>
<rect x="630.3" y="302.3" width="7.5" height="7.5"/>
<rect x="651.4" y="302.3" width="7.5" height="7.5"/>
<rect x="642.4" y="314.4" width="7.5" height="7.5"/>
<rect x="621.2" y="316.6" width="7.5" height="7.5"/>
<rect x="633.7" y="325.6" width="7.5" height="7.5"/>
<rect x="613.6" y="331.7" width="7.5" height="7.5"/>
<rect x="625.5" y="338.6" width="7.5" height="7.5"/>
<rect x="605.6" y="342.9" width="7.5" height="7.5"/>
<rect x="617.9" y="350.5" width="7.5" height="7.5"/>
<rect x="597.4" y="353.7" width="7.5" height="7.5"/>
<rect x="610.4" y="363.4" width="7.5" height="7.5"/>
<rect x="589.9" y="364.5" width="7.5" height="7.5"/>
<rect x="597.4" y="375.3" width="7.5" height="7.5"/>
<rect x="581.2" y="375.3" width="7.5" height="7.5"/>
<rect x="593.1" y="389.4" width="7.5" height="7.5"/>
<rect x="572.6" y="387.2" width="7.5" height="7.5"/>
<rect x="582.3" y="399.1" width="7.5" height="7.5"/>
<rect x="563.9" y="398" width="7.5" height="7.5"/>
<rect x="575.8" y="409.5" width="7.5" height="7.5"/>
<rect x="555.3" y="408.8" width="7.5" height="7.5"/>
<rect x="562.9" y="419.6" width="7.5" height="7.5"/>
<rect x="547.7" y="418.5" width="7.5" height="7.5"/>
<rect x="556.4" y="433.7" width="7.5" height="7.5"/>
<rect x="540.2" y="431.5" width="7.5" height="7.5"/>
<rect x="547.7" y="446.6" width="7.5" height="7.5"/>
<rect x="534.8" y="459.6" width="7.5" height="7.5"/>
<rect x="539.1" y="459.6" width="7.5" height="7.5"/>
<rect x="526.1" y="471.5" width="7.5" height="7.5"/>
<rect x="461.3" y="521.2" width="7.5" height="7.5"/>
<rect x="453.7" y="532" width="7.5" height="7.5"/>
<rect x="446.2" y="543.8" width="7.5" height="7.5"/>
<rect x="437.5" y="551.4" width="7.5" height="7.5"/>
<rect x="428.9" y="565.4" width="7.5" height="7.5"/>
<rect x="421.3" y="578.4" width="7.5" height="7.5"/>
<rect x="414.9" y="591.4" width="7.5" height="7.5"/>
<rect x="410.5" y="606.5" width="7.5" height="7.5"/>
<rect x="405.1" y="621.6" width="7.5" height="7.5"/>
<rect x="399.7" y="634.6" width="7.5" height="7.5"/>
</g>
<polyline points="387.3,651.3 413.2,610.2 439.1,567 462.9,545.4 488.8,504.4 508.3,489.3 534.2,459 560.1,422.3 586,394.2 594.7,376.9 612,361.8 620.6,344.5 637.9,318.6 659.5,286.2 687.6,250.5" fill="none" stroke="#000" stroke-width="5.5" stroke-linecap="round" stroke-linejoin="round"/>
<circle cx="649" cy="241" r="9.3" fill="#ffff00"/>
<circle cx="864" cy="209" r="9.3" fill="#ff7f00" stroke="#d0d0d0" stroke-width="0.8"/>
<circle cx="938.7" cy="467.8" r="9.3" fill="#3333ff" stroke="#b0b0ff" stroke-width="0.8"/>
<text x="231.5" y="78.8" font-family="'Liberation Serif', 'Times New Roman', serif" font-size="56" fill="#000" textLength="56.5" lengthAdjust="spacingAndGlyphs">(<tspan font-weight="bold">a</tspan>)</text>
<rect x="945.4" y="30" width="214.6" height="220.8" fill="#fff" stroke="#000" stroke-width="3"/>
<text x="959.3" y="66.3" font-family="'Liberation Sans', Arial, sans-serif" font-size="37.5" font-weight="bold" fill="#000" text-anchor="start" textLength="182" lengthAdjust="spacingAndGlyphs">boreholes</text>
<text x="984" y="124.2" font-family="'Liberation Sans', Arial, sans-serif" font-size="38.5" font-weight="bold" fill="#000" text-anchor="start" textLength="166" lengthAdjust="spacingAndGlyphs">19GA33S</text>
<text x="984" y="179.7" font-family="'Liberation Sans', Arial, sans-serif" font-size="38.5" font-weight="bold" fill="#000" text-anchor="start" textLength="166" lengthAdjust="spacingAndGlyphs">19GA41S</text>
<text x="984" y="236" font-family="'Liberation Sans', Arial, sans-serif" font-size="38.5" font-weight="bold" fill="#000" text-anchor="start" textLength="166" lengthAdjust="spacingAndGlyphs">19GA42S</text>
<circle cx="961.6" cy="110.3" r="9" fill="#ff7f00"/>
<circle cx="961.6" cy="165.8" r="9" fill="#3333ff"/>
<circle cx="961.6" cy="220.6" r="9" fill="#ffff00"/>
<rect x="721.8" y="611.8" width="491.9" height="174.7" fill="#fff" stroke="#000" stroke-width="3"/>
<text x="770.3" y="644" font-family="'Liberation Sans', Arial, sans-serif" font-size="33.5" font-weight="bold" fill="#000" text-anchor="start" textLength="433.5" lengthAdjust="spacingAndGlyphs">EMI sounding locations</text>
<text x="770.3" y="684.9" font-family="'Liberation Sans', Arial, sans-serif" font-size="33.5" font-weight="bold" fill="#000" text-anchor="start" textLength="343.5" lengthAdjust="spacingAndGlyphs">along the GPR line</text>
<text x="770.3" y="732.3" font-family="'Liberation Sans', Arial, sans-serif" font-size="33.5" font-weight="bold" fill="#000" text-anchor="start" textLength="433.5" lengthAdjust="spacingAndGlyphs">EMI sounding locations</text>
<text x="770.3" y="778" font-family="'Liberation Sans', Arial, sans-serif" font-size="33.5" font-weight="bold" fill="#000" text-anchor="start" textLength="153.7" lengthAdjust="spacingAndGlyphs">ERT line</text>
<rect x="737" y="641.7" width="20.2" height="18.6" fill="#00ff00"/>
<circle cx="746.8" cy="719.2" r="9" fill="#00ffff"/>
<circle cx="746.8" cy="765" r="9" fill="#ff0000"/>
<text x="197" y="104.3" font-family="'Liberation Sans', Arial, sans-serif" font-size="43.5" font-weight="bold" fill="#000" text-anchor="end" textLength="162" lengthAdjust="spacingAndGlyphs">1005370</text>
<text x="197" y="337.6" font-family="'Liberation Sans', Arial, sans-serif" font-size="43.5" font-weight="bold" fill="#000" text-anchor="end" textLength="162" lengthAdjust="spacingAndGlyphs">1005360</text>
<text x="197" y="570.9" font-family="'Liberation Sans', Arial, sans-serif" font-size="43.5" font-weight="bold" fill="#000" text-anchor="end" textLength="162" lengthAdjust="spacingAndGlyphs">1005350</text>
<text x="197" y="799.3" font-family="'Liberation Sans', Arial, sans-serif" font-size="43.5" font-weight="bold" fill="#000" text-anchor="end" textLength="162" lengthAdjust="spacingAndGlyphs">1005340</text>
<text x="371.6" y="929" font-family="'Liberation Sans', Arial, sans-serif" font-size="43.5" font-weight="bold" fill="#000" text-anchor="start" textLength="138" lengthAdjust="spacingAndGlyphs">100930</text>
<text x="605" y="929" font-family="'Liberation Sans', Arial, sans-serif" font-size="43.5" font-weight="bold" fill="#000" text-anchor="start" textLength="138" lengthAdjust="spacingAndGlyphs">100940</text>
<text x="838.5" y="929" font-family="'Liberation Sans', Arial, sans-serif" font-size="43.5" font-weight="bold" fill="#000" text-anchor="start" textLength="138" lengthAdjust="spacingAndGlyphs">100950</text>
<text x="1072.5" y="929" font-family="'Liberation Sans', Arial, sans-serif" font-size="43.5" font-weight="bold" fill="#000" text-anchor="start" textLength="138" lengthAdjust="spacingAndGlyphs">100960</text>
<text x="233" y="940" font-family="'Liberation Sans', Arial, sans-serif" font-size="43.5" font-weight="bold" fill="#000" text-anchor="start" textLength="102" lengthAdjust="spacingAndGlyphs">X [m]</text>
<text transform="translate(170.5 925.6) rotate(-90)" font-family="'Liberation Sans', Arial, sans-serif" font-size="43.5" font-weight="bold" textLength="103.6" lengthAdjust="spacingAndGlyphs">Y [m]</text>
<text x="1397.9" y="79.6" font-family="'Liberation Serif', 'Times New Roman', serif" font-size="54" fill="#000" textLength="60.8" lengthAdjust="spacingAndGlyphs">(<tspan font-weight="bold">b</tspan>)</text>
<text x="1513" y="84.7" font-family="'Liberation Sans', Arial, sans-serif" font-size="56.5" font-weight="bold" fill="#ff0000" text-anchor="start" textLength="503" lengthAdjust="spacingAndGlyphs">Borehole: 19GA42S</text>
<rect x="1485.5" y="181.7" width="55.5" height="15.3" fill="#a6a6a6"/>
<rect x="1485.5" y="197" width="55.5" height="21.7" fill="#3f9088"/>
<rect x="1485.5" y="218.7" width="55.5" height="28.1" fill="#d9b8fa"/>
<rect x="1485.5" y="246.8" width="55.5" height="295.2" fill="#3f9088"/>
<rect x="1485.5" y="542" width="55.5" height="272.7" fill="#d9b8fa"/>
<rect x="1485.5" y="814.7" width="55.5" height="103.3" fill="#8c1cb8"/>
<text x="1478.6" y="186" font-family="'Liberation Sans', Arial, sans-serif" font-size="31.5" font-weight="bold" fill="#000" text-anchor="end" textLength="157.6" lengthAdjust="spacingAndGlyphs">0.0 - 0.2 m</text>
<text x="1611" y="186" font-family="'Liberation Sans', Arial, sans-serif" font-size="31.5" font-weight="bold" fill="#000" text-anchor="start" textLength="209" lengthAdjust="spacingAndGlyphs">Sand/organic</text>
<text x="1478.6" y="214" font-family="'Liberation Sans', Arial, sans-serif" font-size="31.5" font-weight="bold" fill="#000" text-anchor="end" textLength="157.6" lengthAdjust="spacingAndGlyphs">0.2 - 0.5 m</text>
<text x="1611" y="214" font-family="'Liberation Sans', Arial, sans-serif" font-size="31.5" font-weight="bold" fill="#000" text-anchor="start" textLength="377" lengthAdjust="spacingAndGlyphs">Gravelly sand w/ stones</text>
<text x="1478.6" y="243" font-family="'Liberation Sans', Arial, sans-serif" font-size="31.5" font-weight="bold" fill="#000" text-anchor="end" textLength="157.6" lengthAdjust="spacingAndGlyphs">0.5 - 0.9 m</text>
<text x="1611" y="243" font-family="'Liberation Sans', Arial, sans-serif" font-size="31.5" font-weight="bold" fill="#000" text-anchor="start" textLength="314" lengthAdjust="spacingAndGlyphs">Fine sand w/ stones</text>
<text x="1478.6" y="422.5" font-family="'Liberation Sans', Arial, sans-serif" font-size="31.5" font-weight="bold" fill="#000" text-anchor="end" textLength="157.6" lengthAdjust="spacingAndGlyphs">0.9 - 4.9 m</text>
<text x="1611" y="422.5" font-family="'Liberation Sans', Arial, sans-serif" font-size="31.5" font-weight="bold" fill="#000" text-anchor="start" textLength="377" lengthAdjust="spacingAndGlyphs">Gravelly sand w/ stones</text>
<text x="1478.6" y="731.4" font-family="'Liberation Sans', Arial, sans-serif" font-size="31.5" font-weight="bold" fill="#000" text-anchor="end" textLength="157.6" lengthAdjust="spacingAndGlyphs">4.9 - 8.6 m</text>
<text x="1611" y="731.4" font-family="'Liberation Sans', Arial, sans-serif" font-size="31.5" font-weight="bold" fill="#000" text-anchor="start" textLength="314" lengthAdjust="spacingAndGlyphs">Fine sand w/ stones</text>
<text x="1478.6" y="870.7" font-family="'Liberation Sans', Arial, sans-serif" font-size="31.5" font-weight="bold" fill="#000" text-anchor="end" textLength="157.6" lengthAdjust="spacingAndGlyphs">8.6 - 9.0 m</text>
<text x="1611" y="870.7" font-family="'Liberation Sans', Arial, sans-serif" font-size="31.5" font-weight="bold" fill="#000" text-anchor="start" textLength="108.6" lengthAdjust="spacingAndGlyphs">Stones</text>
<defs><linearGradient id="jetg" x1="0" y1="1" x2="0" y2="0"><stop offset="0" stop-color="#00008f"/><stop offset="0.125" stop-color="#0000ff"/><stop offset="0.375" stop-color="#00ffff"/><stop offset="0.625" stop-color="#ffff00"/><stop offset="0.875" stop-color="#ff0000"/><stop offset="1" stop-color="#800000"/></linearGradient></defs>
<line x1="130" y1="1002.7" x2="183" y2="1002.7" stroke="#eeeeee" stroke-width="2"/>
<line x1="130" y1="1064.3" x2="1951" y2="1064.3" stroke="#eeeeee" stroke-width="2"/>
<line x1="130" y1="1125.7" x2="1951" y2="1125.7" stroke="#eeeeee" stroke-width="2"/>
<line x1="385" y1="1008" x2="385" y2="1186" stroke="#eeeeee" stroke-width="1.5"/>
<line x1="640" y1="1008" x2="640" y2="1186" stroke="#eeeeee" stroke-width="1.5"/>
<line x1="896" y1="1008" x2="896" y2="1186" stroke="#eeeeee" stroke-width="1.5"/>
<line x1="1150" y1="1008" x2="1150" y2="1186" stroke="#eeeeee" stroke-width="1.5"/>
<line x1="1267" y1="1008" x2="1267" y2="1186" stroke="#eeeeee" stroke-width="1.5"/>
<line x1="1381" y1="1008" x2="1381" y2="1186" stroke="#eeeeee" stroke-width="1.5"/>
<line x1="1494" y1="1008" x2="1494" y2="1186" stroke="#eeeeee" stroke-width="1.5"/>
<line x1="1609" y1="1008" x2="1609" y2="1186" stroke="#eeeeee" stroke-width="1.5"/>
<line x1="1722.5" y1="1008" x2="1722.5" y2="1186" stroke="#eeeeee" stroke-width="1.5"/>
<line x1="1837" y1="1008" x2="1837" y2="1186" stroke="#eeeeee" stroke-width="1.5"/>
<line x1="1951" y1="1008" x2="1951" y2="1186" stroke="#eeeeee" stroke-width="1.5"/>
<line x1="130" y1="973" x2="130" y2="1208" stroke="#6e6e6e" stroke-width="2"/>
<line x1="112" y1="1187" x2="1951" y2="1187" stroke="#6e6e6e" stroke-width="2.2"/>
<line x1="130" y1="1187" x2="130" y2="1208" stroke="#6e6e6e" stroke-width="2"/>
<line x1="244.3" y1="1187" x2="244.3" y2="1208" stroke="#6e6e6e" stroke-width="2"/>
<line x1="358.6" y1="1187" x2="358.6" y2="1208" stroke="#6e6e6e" stroke-width="2"/>
<line x1="472.9" y1="1187" x2="472.9" y2="1208" stroke="#6e6e6e" stroke-width="2"/>
<line x1="587.2" y1="1187" x2="587.2" y2="1208" stroke="#6e6e6e" stroke-width="2"/>
<line x1="701.5" y1="1187" x2="701.5" y2="1208" stroke="#6e6e6e" stroke-width="2"/>
<line x1="815.8" y1="1187" x2="815.8" y2="1208" stroke="#6e6e6e" stroke-width="2"/>
<line x1="930.1" y1="1187" x2="930.1" y2="1208" stroke="#6e6e6e" stroke-width="2"/>
<line x1="1184" y1="1187" x2="1184" y2="1208" stroke="#6e6e6e" stroke-width="2"/>
<line x1="1440.7" y1="1187" x2="1440.7" y2="1208" stroke="#6e6e6e" stroke-width="2"/>
<line x1="1696" y1="1187" x2="1696" y2="1208" stroke="#6e6e6e" stroke-width="2"/>
<line x1="1951" y1="1187" x2="1951" y2="1208" stroke="#6e6e6e" stroke-width="2"/>
<line x1="116" y1="1002.7" x2="130" y2="1002.7" stroke="#6e6e6e" stroke-width="2"/>
<line x1="116" y1="1064.3" x2="130" y2="1064.3" stroke="#6e6e6e" stroke-width="2"/>
<line x1="116" y1="1125.7" x2="130" y2="1125.7" stroke="#6e6e6e" stroke-width="2"/>
<text x="118" y="1013.4" font-family="'Liberation Sans', Arial, sans-serif" font-size="31.5" font-weight="bold" fill="#000" text-anchor="end" textLength="55" lengthAdjust="spacingAndGlyphs">600</text>
<text x="118" y="1075" font-family="'Liberation Sans', Arial, sans-serif" font-size="31.5" font-weight="bold" fill="#000" text-anchor="end" textLength="55" lengthAdjust="spacingAndGlyphs">400</text>
<text x="118" y="1136.4" font-family="'Liberation Sans', Arial, sans-serif" font-size="31.5" font-weight="bold" fill="#000" text-anchor="end" textLength="55" lengthAdjust="spacingAndGlyphs">200</text>
<text transform="translate(48.5 1171.7) rotate(-90)" font-family="'Liberation Sans', Arial, sans-serif" font-size="35" font-weight="bold" textLength="191" lengthAdjust="spacingAndGlyphs">H<tspan font-size="24" dy="7">s</tspan><tspan dy="-7">/H</tspan><tspan font-size="24" dy="7">p</tspan><tspan dy="-7"> [ppm]</tspan></text>
<text x="525.9" y="1013" font-family="'Liberation Sans', Arial, sans-serif" font-size="55.5" font-weight="bold" fill="#000" text-anchor="start" textLength="1048" lengthAdjust="spacingAndGlyphs">EMI unconstrained inversion: data fitting</text>
<g fill="#eba21c"><circle cx="266" cy="1136" r="4.1"/><circle cx="311.8" cy="1136" r="4.1"/><circle cx="353.7" cy="1136" r="4.1"/><circle cx="400.3" cy="1132.7" r="4.1"/><circle cx="447.3" cy="1132.7" r="4.1"/><circle cx="499.1" cy="1132.7" r="4.1"/><circle cx="544.5" cy="1132.6" r="4.1"/><circle cx="580.7" cy="1129.6" r="4.1"/><circle cx="625.3" cy="1129.6" r="4.1"/><circle cx="669.3" cy="1129.6" r="4.1"/><circle cx="935" cy="1127.8" r="3.3"/><circle cx="940.7" cy="1134" r="3.3"/><circle cx="977.8" cy="1129.6" r="3.3"/><circle cx="996" cy="1136" r="3.3"/><circle cx="1017" cy="1130.7" r="3.3"/><circle cx="1041.5" cy="1137.8" r="3.3"/><circle cx="1063" cy="1130.7" r="3.3"/><circle cx="1096" cy="1139.6" r="3.3"/><circle cx="1105" cy="1133.3" r="3.3"/><circle cx="1146" cy="1141.9" r="3.3"/><circle cx="1150" cy="1135.2" r="3.3"/><circle cx="1195" cy="1135.2" r="3.3"/><circle cx="1200" cy="1143.3" r="3.3"/><circle cx="1237" cy="1137" r="3.3"/><circle cx="1237" cy="1145.2" r="3.3"/><circle cx="1286" cy="1142" r="3.3"/><circle cx="1286" cy="1145" r="3.3"/><circle cx="1328" cy="1145" r="3.3"/><circle cx="1328" cy="1147" r="3.3"/><circle cx="1374" cy="1143.3" r="3.3"/><circle cx="1383" cy="1148.9" r="3.3"/><circle cx="1419.6" cy="1145.2" r="3.3"/><circle cx="1428.5" cy="1150" r="3.3"/><circle cx="1464.8" cy="1147" r="3.3"/><circle cx="1476" cy="1151" r="3.3"/><circle cx="1514.8" cy="1148.9" r="3.3"/><circle cx="1523" cy="1151" r="3.3"/><circle cx="1568" cy="1150" r="3.3"/><circle cx="1571" cy="1152" r="3.3"/><circle cx="1618" cy="1153.5" r="3.3"/><circle cx="1658" cy="1153.5" r="3.3"/><circle cx="1665" cy="1153.5" r="3.3"/><circle cx="1710" cy="1154.6" r="3.3"/><circle cx="1749" cy="1154.6" r="3.3"/><circle cx="1758" cy="1154.6" r="3.3"/><circle cx="1783.6" cy="1155" r="3.3"/><circle cx="1794" cy="1155" r="3.3"/><circle cx="1806.4" cy="1155" r="3.3"/></g>
<g fill="#00ffff"><circle cx="266" cy="1101.7" r="4.1"/><circle cx="311.8" cy="1101.7" r="4.1"/><circle cx="353.7" cy="1101.7" r="4.1"/><circle cx="400.3" cy="1096.7" r="4.1"/><circle cx="447.3" cy="1096.7" r="4.1"/><circle cx="499.1" cy="1096.7" r="4.1"/><circle cx="544.5" cy="1096.3" r="4.1"/><circle cx="580.7" cy="1090.7" r="4.1"/><circle cx="625.3" cy="1090.7" r="4.1"/><circle cx="669.3" cy="1090.7" r="4.1"/><circle cx="935" cy="1086.3" r="3.3"/><circle cx="940.7" cy="1091.5" r="3.3"/><circle cx="977.8" cy="1090" r="3.3"/><circle cx="996" cy="1093.3" r="3.3"/><circle cx="1017" cy="1088.9" r="3.3"/><circle cx="1041.5" cy="1096.3" r="3.3"/><circle cx="1063" cy="1088.9" r="3.3"/><circle cx="1096" cy="1098" r="3.3"/><circle cx="1105" cy="1090.7" r="3.3"/><circle cx="1146" cy="1101" r="3.3"/><circle cx="1150" cy="1090.7" r="3.3"/><circle cx="1195" cy="1092.6" r="3.3"/><circle cx="1200" cy="1103" r="3.3"/><circle cx="1237" cy="1094.4" r="3.3"/><circle cx="1237" cy="1105.6" r="3.3"/><circle cx="1286" cy="1097" r="3.3"/><circle cx="1286" cy="1107.8" r="3.3"/><circle cx="1328" cy="1098" r="3.3"/><circle cx="1328" cy="1109.6" r="3.3"/><circle cx="1374" cy="1101.9" r="3.3"/><circle cx="1383" cy="1111" r="3.3"/><circle cx="1419.6" cy="1104.4" r="3.3"/><circle cx="1428.5" cy="1113.7" r="3.3"/><circle cx="1464.8" cy="1107" r="3.3"/><circle cx="1476" cy="1115.2" r="3.3"/><circle cx="1514.8" cy="1110.4" r="3.3"/><circle cx="1523" cy="1116.7" r="3.3"/><circle cx="1568" cy="1112" r="3.3"/><circle cx="1571" cy="1117" r="3.3"/><circle cx="1618" cy="1119.2" r="3.3"/><circle cx="1658" cy="1119" r="3.3"/><circle cx="1665" cy="1119" r="3.3"/><circle cx="1710" cy="1122" r="3.3"/><circle cx="1749" cy="1121" r="3.3"/><circle cx="1758" cy="1121" r="3.3"/><circle cx="1783.6" cy="1122" r="3.3"/><circle cx="1794" cy="1122" r="3.3"/><circle cx="1806.4" cy="1122" r="3.3"/></g>
<g fill="#0a7d0a"><circle cx="266" cy="1072.7" r="4.1"/><circle cx="311.8" cy="1073.3" r="4.1"/><circle cx="353.7" cy="1073" r="4.1"/><circle cx="400.3" cy="1066.7" r="4.1"/><circle cx="447.3" cy="1067" r="4.1"/><circle cx="499.1" cy="1067" r="4.1"/><circle cx="544.5" cy="1066.7" r="4.1"/><circle cx="580.7" cy="1058.5" r="4.1"/><circle cx="625.3" cy="1058.5" r="4.1"/><circle cx="669.3" cy="1058.5" r="4.1"/><circle cx="935" cy="1053.7" r="3.3"/><circle cx="940.7" cy="1053.7" r="3.3"/><circle cx="977.8" cy="1058.5" r="3.3"/><circle cx="996" cy="1056.3" r="3.3"/><circle cx="1017" cy="1054.4" r="3.3"/><circle cx="1041.5" cy="1058.5" r="3.3"/><circle cx="1063" cy="1054.4" r="3.3"/><circle cx="1096" cy="1060.4" r="3.3"/><circle cx="1105" cy="1054.4" r="3.3"/><circle cx="1146" cy="1063" r="3.3"/><circle cx="1150" cy="1051.9" r="3.3"/><circle cx="1195" cy="1054.8" r="3.3"/><circle cx="1200" cy="1066" r="3.3"/><circle cx="1237" cy="1054.8" r="3.3"/><circle cx="1237" cy="1068.5" r="3.3"/><circle cx="1286" cy="1056.3" r="3.3"/><circle cx="1286" cy="1070.4" r="3.3"/><circle cx="1328" cy="1057.4" r="3.3"/><circle cx="1328" cy="1072.2" r="3.3"/><circle cx="1374" cy="1060" r="3.3"/><circle cx="1383" cy="1074.8" r="3.3"/><circle cx="1419.6" cy="1063" r="3.3"/><circle cx="1428.5" cy="1077.4" r="3.3"/><circle cx="1464.8" cy="1067" r="3.3"/><circle cx="1476" cy="1079.6" r="3.3"/><circle cx="1514.8" cy="1071" r="3.3"/><circle cx="1523" cy="1081" r="3.3"/><circle cx="1568" cy="1073" r="3.3"/><circle cx="1571" cy="1083" r="3.3"/><circle cx="1618" cy="1085.7" r="3.3"/><circle cx="1658" cy="1080" r="3.3"/><circle cx="1665" cy="1088" r="3.3"/><circle cx="1710" cy="1088.9" r="3.3"/><circle cx="1749" cy="1088.9" r="3.3"/><circle cx="1758" cy="1089" r="3.3"/><circle cx="1783.6" cy="1090" r="3.3"/><circle cx="1794" cy="1090" r="3.3"/><circle cx="1806.4" cy="1090" r="3.3"/></g>
<g fill="#ff0000"><rect x="264.4" y="1128.4" width="3.2" height="3.2"/><rect x="310.2" y="1127.4" width="3.2" height="3.2"/><rect x="352.1" y="1126.4" width="3.2" height="3.2"/><rect x="398.7" y="1125.1" width="3.2" height="3.2"/><rect x="445.7" y="1123.4" width="3.2" height="3.2"/><rect x="497.5" y="1121.4" width="3.2" height="3.2"/><rect x="542.9" y="1119.9" width="3.2" height="3.2"/><rect x="579.1" y="1118" width="3.2" height="3.2"/><rect x="623.7" y="1116.9" width="3.2" height="3.2"/><rect x="667.7" y="1116.2" width="3.2" height="3.2"/></g>
<g fill="#40e040"><circle cx="266" cy="1077.7" r="2"/><circle cx="311.8" cy="1078.3" r="2"/><circle cx="353.7" cy="1078" r="2"/><circle cx="400.3" cy="1071.7" r="2"/></g>
<text x="1847.9" y="991.7" font-family="'Liberation Serif', 'Times New Roman', serif" font-size="53.2" fill="#000" textLength="52.5" lengthAdjust="spacingAndGlyphs">(<tspan font-weight="bold">c</tspan>)</text>
<rect x="1834" y="1020" width="283" height="130.5" fill="#fff" stroke="#222" stroke-width="2.5"/>
<line x1="1846" y1="1044.8" x2="1978" y2="1044.8" stroke="#ff3030" stroke-width="2.2"/>
<text x="1989.5" y="1056.8" font-family="'Liberation Sans', Arial, sans-serif" font-size="34" font-weight="normal" fill="#222" text-anchor="start" textLength="101.6" lengthAdjust="spacingAndGlyphs">5 KHz</text>
<line x1="1846" y1="1086.9" x2="1978" y2="1086.9" stroke="#4040ff" stroke-width="2.2"/>
<text x="1989.5" y="1098.9" font-family="'Liberation Sans', Arial, sans-serif" font-size="34" font-weight="normal" fill="#222" text-anchor="start" textLength="120.5" lengthAdjust="spacingAndGlyphs">10 KHz</text>
<line x1="1846" y1="1129" x2="1978" y2="1129" stroke="#30e030" stroke-width="2.2"/>
<text x="1989.5" y="1141" font-family="'Liberation Sans', Arial, sans-serif" font-size="34" font-weight="normal" fill="#222" text-anchor="start" textLength="120.5" lengthAdjust="spacingAndGlyphs">15 KHz</text>
<line x1="130" y1="1340.4" x2="1951" y2="1340.4" stroke="#eeeeee" stroke-width="2.5"/>
<line x1="130" y1="1417" x2="1951" y2="1417" stroke="#eeeeee" stroke-width="2.5"/>
<line x1="130" y1="1493" x2="1951" y2="1493" stroke="#eeeeee" stroke-width="2.5"/>
<line x1="385" y1="1328" x2="385" y2="1537.3" stroke="#eeeeee" stroke-width="1.5"/>
<line x1="640" y1="1328" x2="640" y2="1537.3" stroke="#eeeeee" stroke-width="1.5"/>
<line x1="896" y1="1328" x2="896" y2="1537.3" stroke="#eeeeee" stroke-width="1.5"/>
<line x1="1150" y1="1328" x2="1150" y2="1537.3" stroke="#eeeeee" stroke-width="1.5"/>
<line x1="1267" y1="1328" x2="1267" y2="1537.3" stroke="#eeeeee" stroke-width="1.5"/>
<line x1="1381" y1="1328" x2="1381" y2="1537.3" stroke="#eeeeee" stroke-width="1.5"/>
<line x1="1494" y1="1328" x2="1494" y2="1537.3" stroke="#eeeeee" stroke-width="1.5"/>
<line x1="1609" y1="1328" x2="1609" y2="1537.3" stroke="#eeeeee" stroke-width="1.5"/>
<line x1="1722.5" y1="1328" x2="1722.5" y2="1537.3" stroke="#eeeeee" stroke-width="1.5"/>
<line x1="1837" y1="1328" x2="1837" y2="1537.3" stroke="#eeeeee" stroke-width="1.5"/>
<line x1="1951" y1="1328" x2="1951" y2="1537.3" stroke="#eeeeee" stroke-width="1.5"/>
<line x1="130" y1="1325" x2="130" y2="1565" stroke="#6e6e6e" stroke-width="2"/>
<line x1="1951" y1="1326" x2="1951" y2="1564" stroke="#bbbbbb" stroke-width="2"/>
<line x1="130" y1="1538.3" x2="130" y2="1564" stroke="#6e6e6e" stroke-width="2"/>
<line x1="244.3" y1="1538.3" x2="244.3" y2="1564" stroke="#6e6e6e" stroke-width="2"/>
<line x1="358.6" y1="1538.3" x2="358.6" y2="1564" stroke="#6e6e6e" stroke-width="2"/>
<line x1="472.9" y1="1538.3" x2="472.9" y2="1564" stroke="#6e6e6e" stroke-width="2"/>
<line x1="587.2" y1="1538.3" x2="587.2" y2="1564" stroke="#6e6e6e" stroke-width="2"/>
<line x1="701.5" y1="1538.3" x2="701.5" y2="1564" stroke="#6e6e6e" stroke-width="2"/>
<line x1="815.8" y1="1538.3" x2="815.8" y2="1564" stroke="#6e6e6e" stroke-width="2"/>
<line x1="930.1" y1="1538.3" x2="930.1" y2="1564" stroke="#6e6e6e" stroke-width="2"/>
<line x1="1184" y1="1538.3" x2="1184" y2="1564" stroke="#6e6e6e" stroke-width="2"/>
<line x1="1440.7" y1="1538.3" x2="1440.7" y2="1564" stroke="#6e6e6e" stroke-width="2"/>
<line x1="1696" y1="1538.3" x2="1696" y2="1564" stroke="#6e6e6e" stroke-width="2"/>
<line x1="1951" y1="1538.3" x2="1951" y2="1564" stroke="#6e6e6e" stroke-width="2"/>
<line x1="108" y1="1340.4" x2="130" y2="1340.4" stroke="#999" stroke-width="2.5"/>
<text x="106" y="1354.4" font-family="'Liberation Sans', Arial, sans-serif" font-size="37" font-weight="bold" fill="#000" text-anchor="end" textLength="36.5" lengthAdjust="spacingAndGlyphs">75</text>
<line x1="108" y1="1417" x2="130" y2="1417" stroke="#999" stroke-width="2.5"/>
<text x="106" y="1431" font-family="'Liberation Sans', Arial, sans-serif" font-size="37" font-weight="bold" fill="#000" text-anchor="end" textLength="36.5" lengthAdjust="spacingAndGlyphs">70</text>
<line x1="108" y1="1493" x2="130" y2="1493" stroke="#999" stroke-width="2.5"/>
<text x="106" y="1507" font-family="'Liberation Sans', Arial, sans-serif" font-size="37" font-weight="bold" fill="#000" text-anchor="end" textLength="36.5" lengthAdjust="spacingAndGlyphs">65</text>
<text transform="translate(55 1539) rotate(-90)" font-family="'Liberation Sans', Arial, sans-serif" font-size="37" font-weight="bold" textLength="214.3" lengthAdjust="spacingAndGlyphs">Elevation [m]</text>
<text x="434.3" y="1315.6" font-family="'Liberation Sans', Arial, sans-serif" font-size="55.5" font-weight="bold" fill="#000" text-anchor="start" textLength="1199.5" lengthAdjust="spacingAndGlyphs">EMI unconstrained inversion: resistivity model</text>
<rect x="257" y="1332.6" width="18.5" height="16.9" fill="#70f0a0"/>
<rect x="257" y="1349.1" width="18.5" height="77.6" fill="#80f880"/>
<rect x="257" y="1426.3" width="18.5" height="11.8" fill="#00ffff"/>
<rect x="257" y="1437.7" width="18.5" height="109.2" fill="#00008a"/>
<rect x="302.5" y="1332.6" width="18.5" height="16.9" fill="#70f0a0"/>
<rect x="302.5" y="1349.1" width="18.5" height="75.1" fill="#80f880"/>
<rect x="302.5" y="1423.8" width="18.5" height="13.2" fill="#00ffff"/>
<rect x="302.5" y="1436.5" width="18.5" height="110.3" fill="#00008a"/>
<rect x="344.5" y="1332.6" width="18.5" height="6.9" fill="#80f880"/>
<rect x="344.5" y="1339.1" width="18.5" height="10.3" fill="#70f0a0"/>
<rect x="344.5" y="1349.1" width="18.5" height="72.2" fill="#80f880"/>
<rect x="344.5" y="1420.9" width="18.5" height="21.7" fill="#00ffff"/>
<rect x="344.5" y="1442.2" width="18.5" height="104.6" fill="#00008a"/>
<rect x="391.3" y="1332" width="18.2" height="4.7" fill="#20e8e8"/>
<rect x="391.3" y="1336.3" width="18.2" height="6.1" fill="#80f880"/>
<rect x="391.3" y="1342" width="18.2" height="16" fill="#e0f820"/>
<rect x="391.3" y="1357.6" width="18.2" height="16" fill="#80f880"/>
<rect x="391.3" y="1373.2" width="18.2" height="14.6" fill="#c0f840"/>
<rect x="391.3" y="1387.4" width="18.2" height="11.8" fill="#60f0a0"/>
<rect x="391.3" y="1398.8" width="18.2" height="12.6" fill="#20e8e0"/>
<rect x="391.3" y="1411" width="18.2" height="14.3" fill="#00c0ff"/>
<rect x="391.3" y="1424.9" width="18.2" height="11.2" fill="#0020ff"/>
<rect x="391.3" y="1435.7" width="18.2" height="111.1" fill="#00008a"/>
<rect x="438.2" y="1332" width="18.5" height="8.9" fill="#20e8e8"/>
<rect x="438.2" y="1340.6" width="18.5" height="17.4" fill="#d8f828"/>
<rect x="438.2" y="1357.6" width="18.5" height="16" fill="#80f880"/>
<rect x="438.2" y="1373.2" width="18.5" height="14.6" fill="#b8f848"/>
<rect x="438.2" y="1387.4" width="18.5" height="11.8" fill="#60f0a0"/>
<rect x="438.2" y="1398.8" width="18.5" height="10.3" fill="#20e8e0"/>
<rect x="438.2" y="1408.7" width="18.5" height="14.6" fill="#00c0ff"/>
<rect x="438.2" y="1422.9" width="18.5" height="13.2" fill="#0020ff"/>
<rect x="438.2" y="1435.7" width="18.5" height="111.1" fill="#00008a"/>
<rect x="489.3" y="1332" width="18.5" height="4.7" fill="#20e8e8"/>
<rect x="489.3" y="1336.3" width="18.5" height="7.5" fill="#a0f858"/>
<rect x="489.3" y="1343.4" width="18.5" height="14.6" fill="#e0f820"/>
<rect x="489.3" y="1357.6" width="18.5" height="16" fill="#80f880"/>
<rect x="489.3" y="1373.2" width="18.5" height="14.6" fill="#a8f850"/>
<rect x="489.3" y="1387.4" width="18.5" height="11.8" fill="#60f0a0"/>
<rect x="489.3" y="1398.8" width="18.5" height="9.8" fill="#20e8e0"/>
<rect x="489.3" y="1408.1" width="18.5" height="14.3" fill="#00c0ff"/>
<rect x="489.3" y="1422.1" width="18.5" height="14.9" fill="#0020ff"/>
<rect x="489.3" y="1436.5" width="18.5" height="110.3" fill="#00008a"/>
<rect x="535.3" y="1332" width="18.5" height="4.7" fill="#20e8e8"/>
<rect x="535.3" y="1336.3" width="18.5" height="6.1" fill="#c8f838"/>
<rect x="535.3" y="1342" width="18.5" height="16" fill="#e8f818"/>
<rect x="535.3" y="1357.6" width="18.5" height="16" fill="#90f870"/>
<rect x="535.3" y="1373.2" width="18.5" height="14.6" fill="#b8f848"/>
<rect x="535.3" y="1387.4" width="18.5" height="11.8" fill="#60f0a0"/>
<rect x="535.3" y="1398.8" width="18.5" height="11.8" fill="#20e8e0"/>
<rect x="535.3" y="1410.1" width="18.5" height="10.9" fill="#00c0ff"/>
<rect x="535.3" y="1420.6" width="18.5" height="14.6" fill="#0020ff"/>
<rect x="535.3" y="1434.8" width="18.5" height="112" fill="#00008a"/>
<rect x="570.8" y="1332" width="18.5" height="34.5" fill="#90f870"/>
<rect x="570.8" y="1366.1" width="18.5" height="16" fill="#60f0a0"/>
<rect x="570.8" y="1381.7" width="18.5" height="13.2" fill="#90f870"/>
<rect x="570.8" y="1394.5" width="18.5" height="14.6" fill="#60f0a0"/>
<rect x="570.8" y="1408.7" width="18.5" height="11.8" fill="#00c0ff"/>
<rect x="570.8" y="1420.1" width="18.5" height="126.8" fill="#00008a"/>
<rect x="615.7" y="1332" width="19" height="34.5" fill="#90f870"/>
<rect x="615.7" y="1366.1" width="19" height="6.1" fill="#60f0a0"/>
<rect x="615.7" y="1371.8" width="19" height="11.8" fill="#30e8d8"/>
<rect x="615.7" y="1383.1" width="19" height="14.6" fill="#90f870"/>
<rect x="615.7" y="1397.3" width="19" height="11.8" fill="#60f0a0"/>
<rect x="615.7" y="1408.7" width="19" height="12.3" fill="#00c0ff"/>
<rect x="615.7" y="1420.6" width="19" height="126.2" fill="#00008a"/>
<rect x="659.7" y="1332" width="19" height="34.5" fill="#90f870"/>
<rect x="659.7" y="1366.1" width="19" height="7.5" fill="#60f0a0"/>
<rect x="659.7" y="1373.2" width="19" height="8.9" fill="#30e8d8"/>
<rect x="659.7" y="1381.7" width="19" height="10.3" fill="#90f870"/>
<rect x="659.7" y="1391.7" width="19" height="6.1" fill="#a8f850"/>
<rect x="659.7" y="1397.3" width="19" height="16" fill="#60f0a0"/>
<rect x="659.7" y="1413" width="19" height="10.3" fill="#00c0ff"/>
<rect x="659.7" y="1422.9" width="19" height="123.9" fill="#00008a"/>
<rect x="925.6" y="1332.8" width="6.1" height="34.1" fill="#d8f030"/>
<rect x="925.6" y="1366.5" width="6.1" height="22.9" fill="#40f0c0"/>
<rect x="925.6" y="1389" width="6.1" height="13.2" fill="#00c0ff"/>
<rect x="925.6" y="1401.8" width="6.1" height="11.6" fill="#0060ff"/>
<rect x="925.6" y="1413.1" width="6.1" height="10" fill="#0000f0"/>
<rect x="925.6" y="1422.7" width="6.1" height="124.8" fill="#00008a"/>
<rect x="931.7" y="1332.8" width="19.3" height="10" fill="#50f0b0"/>
<rect x="931.7" y="1342.5" width="19.3" height="16.4" fill="#20e0e0"/>
<rect x="931.7" y="1358.5" width="19.3" height="53.4" fill="#80f880"/>
<rect x="931.7" y="1411.5" width="19.3" height="43.7" fill="#00ffff"/>
<rect x="931.7" y="1454.8" width="19.3" height="22.1" fill="#0060ff"/>
<rect x="931.7" y="1476.5" width="19.3" height="71" fill="#00008a"/>
<rect x="969.4" y="1332.8" width="17.3" height="40.5" fill="#a8f850"/>
<rect x="969.4" y="1373" width="17.3" height="8.4" fill="#40f0c0"/>
<rect x="969.4" y="1381" width="17.3" height="18.1" fill="#90f870"/>
<rect x="969.4" y="1398.6" width="17.3" height="14" fill="#50f0b0"/>
<rect x="969.4" y="1412.3" width="17.3" height="9.2" fill="#20c0ff"/>
<rect x="969.4" y="1421.1" width="17.3" height="126.4" fill="#00008a"/>
<rect x="987" y="1332.8" width="18.5" height="22.1" fill="#80f880"/>
<rect x="987" y="1354.5" width="18.5" height="14" fill="#40f0c0"/>
<rect x="987" y="1368.1" width="18.5" height="6.8" fill="#80f880"/>
<rect x="987" y="1374.6" width="18.5" height="14.8" fill="#a8f850"/>
<rect x="987" y="1389" width="18.5" height="10" fill="#20e8e0"/>
<rect x="987" y="1398.6" width="18.5" height="10.8" fill="#0000f0"/>
<rect x="987" y="1409.1" width="18.5" height="67" fill="#0000c0"/>
<rect x="987" y="1475.7" width="18.5" height="71.8" fill="#00008a"/>
<rect x="1007.1" y="1332" width="19.7" height="2.8" fill="#20e0f0"/>
<rect x="1007.1" y="1334.4" width="19.7" height="40.5" fill="#50f0b0"/>
<rect x="1007.1" y="1374.6" width="19.7" height="21.3" fill="#a0f858"/>
<rect x="1007.1" y="1395.4" width="19.7" height="14.8" fill="#50f0b0"/>
<rect x="1007.1" y="1409.9" width="19.7" height="14" fill="#00ffff"/>
<rect x="1007.1" y="1423.5" width="19.7" height="14" fill="#0060ff"/>
<rect x="1007.1" y="1437.2" width="19.7" height="110.3" fill="#00008a"/>
<rect x="1032" y="1334.4" width="19.3" height="38.9" fill="#50f0b0"/>
<rect x="1032" y="1373" width="19.3" height="22.9" fill="#80f880"/>
<rect x="1032" y="1395.4" width="19.3" height="15.6" fill="#50f0b0"/>
<rect x="1032" y="1410.7" width="19.3" height="14" fill="#00c8ff"/>
<rect x="1032" y="1424.3" width="19.3" height="14" fill="#0058ff"/>
<rect x="1032" y="1438" width="19.3" height="17.3" fill="#0010ff"/>
<rect x="1032" y="1454.8" width="19.3" height="27.7" fill="#0000c8"/>
<rect x="1032" y="1482.1" width="19.3" height="19.7" fill="#0000a8"/>
<rect x="1032" y="1501.4" width="19.3" height="46.1" fill="#00008a"/>
<rect x="1053.3" y="1332.8" width="19.6" height="2.8" fill="#20e0f0"/>
<rect x="1053.3" y="1335.2" width="19.6" height="31.7" fill="#80f880"/>
<rect x="1053.3" y="1366.5" width="19.6" height="29.3" fill="#a0f858"/>
<rect x="1053.3" y="1395.4" width="19.6" height="14.8" fill="#50f0b0"/>
<rect x="1053.3" y="1409.9" width="19.6" height="14" fill="#00ffff"/>
<rect x="1053.3" y="1423.5" width="19.6" height="15.6" fill="#0058ff"/>
<rect x="1053.3" y="1438.8" width="19.6" height="108.7" fill="#00008a"/>
<rect x="1087.3" y="1332.8" width="19.3" height="67.8" fill="#60f0a0"/>
<rect x="1087.3" y="1400.2" width="19.3" height="13.2" fill="#40f0c0"/>
<rect x="1087.3" y="1413.1" width="19.3" height="11.6" fill="#00e0ff"/>
<rect x="1087.3" y="1424.3" width="19.3" height="14" fill="#0058ff"/>
<rect x="1087.3" y="1438" width="19.3" height="86.3" fill="#00008a"/>
<rect x="1087.3" y="1523.8" width="19.3" height="23.7" fill="#0020ff"/>
<rect x="1106.6" y="1332.8" width="7.2" height="5.2" fill="#ffa000"/>
<rect x="1106.6" y="1337.7" width="7.2" height="35.7" fill="#ff7000"/>
<rect x="1106.6" y="1373" width="7.2" height="10" fill="#ffd000"/>
<rect x="1106.6" y="1382.6" width="7.2" height="6.8" fill="#90f870"/>
<rect x="1106.6" y="1389" width="7.2" height="14" fill="#0000f0"/>
<rect x="1106.6" y="1402.7" width="7.2" height="144.8" fill="#00008a"/>
<rect x="1136.3" y="1333.6" width="19.3" height="39.7" fill="#40f0c0"/>
<rect x="1136.3" y="1373" width="19.3" height="27.7" fill="#30e8d8"/>
<rect x="1136.3" y="1400.2" width="19.3" height="10.8" fill="#00d0ff"/>
<rect x="1136.3" y="1410.7" width="19.3" height="14" fill="#00a0ff"/>
<rect x="1136.3" y="1424.3" width="19.3" height="16.4" fill="#0060ff"/>
<rect x="1136.3" y="1440.4" width="19.3" height="14.8" fill="#0010e0"/>
<rect x="1136.3" y="1454.8" width="19.3" height="42.9" fill="#00008a"/>
<rect x="1136.3" y="1497.3" width="19.3" height="26.1" fill="#0010e0"/>
<rect x="1136.3" y="1523" width="19.3" height="24.5" fill="#0020ff"/>
<rect x="1155.5" y="1333.6" width="4" height="41.3" fill="#80f880"/>
<rect x="1155.5" y="1374.6" width="4" height="8.4" fill="#00ffff"/>
<rect x="1155.5" y="1382.6" width="4" height="8.4" fill="#0060ff"/>
<rect x="1155.5" y="1390.6" width="4" height="32.5" fill="#00e0ff"/>
<rect x="1155.5" y="1422.7" width="4" height="100.7" fill="#0020ff"/>
<rect x="1155.5" y="1523" width="4" height="24.5" fill="#00e0ff"/>
<rect x="1186.2" y="1334.4" width="4.7" height="6.8" fill="#ff8000"/>
<rect x="1186.2" y="1340.9" width="4.7" height="11.6" fill="#40f0c0"/>
<rect x="1186.2" y="1352.1" width="4.7" height="22.9" fill="#00e0ff"/>
<rect x="1186.2" y="1374.6" width="4.7" height="18.1" fill="#0050ff"/>
<rect x="1186.2" y="1392.2" width="4.7" height="22.9" fill="#0000c0"/>
<rect x="1186.2" y="1414.7" width="4.7" height="108.7" fill="#00008a"/>
<rect x="1186.2" y="1523" width="4.7" height="24.5" fill="#0020ff"/>
<rect x="1190.8" y="1334.4" width="18.6" height="8.4" fill="#ffe000"/>
<rect x="1190.8" y="1342.5" width="18.6" height="13.2" fill="#90f870"/>
<rect x="1190.8" y="1355.3" width="18.6" height="6.8" fill="#30e8d8"/>
<rect x="1190.8" y="1361.7" width="18.6" height="14" fill="#00e8ff"/>
<rect x="1190.8" y="1375.4" width="18.6" height="7.6" fill="#90f870"/>
<rect x="1190.8" y="1382.6" width="18.6" height="21.3" fill="#d8f828"/>
<rect x="1190.8" y="1403.5" width="18.6" height="11.6" fill="#50f0b0"/>
<rect x="1190.8" y="1414.7" width="18.6" height="39.7" fill="#00008a"/>
<rect x="1190.8" y="1454" width="18.6" height="25.3" fill="#00b0ff"/>
<rect x="1190.8" y="1478.9" width="18.6" height="22.1" fill="#70f890"/>
<rect x="1190.8" y="1500.5" width="18.6" height="24.5" fill="#d8f828"/>
<rect x="1190.8" y="1524.6" width="18.6" height="22.9" fill="#ffc800"/>
<rect x="1227.7" y="1334.4" width="19.7" height="6.8" fill="#40e8d8"/>
<rect x="1227.7" y="1340.9" width="19.7" height="8.4" fill="#a0f858"/>
<rect x="1227.7" y="1348.9" width="19.7" height="26.1" fill="#e8f818"/>
<rect x="1227.7" y="1374.6" width="19.7" height="14.8" fill="#b0f850"/>
<rect x="1227.7" y="1389" width="19.7" height="13.2" fill="#80f880"/>
<rect x="1227.7" y="1401.8" width="19.7" height="9.2" fill="#00ffff"/>
<rect x="1227.7" y="1410.7" width="19.7" height="27.7" fill="#00008a"/>
<rect x="1227.7" y="1438" width="19.7" height="17.3" fill="#0000a0"/>
<rect x="1227.7" y="1454.8" width="19.7" height="20.5" fill="#0000e8"/>
<rect x="1227.7" y="1474.9" width="19.7" height="23.7" fill="#0020ff"/>
<rect x="1227.7" y="1498.1" width="19.7" height="26.1" fill="#0050ff"/>
<rect x="1227.7" y="1523.8" width="19.7" height="23.7" fill="#00ffff"/>
<rect x="1276.4" y="1333.6" width="19.3" height="15.6" fill="#50f0b0"/>
<rect x="1276.4" y="1348.9" width="19.3" height="26.1" fill="#80f880"/>
<rect x="1276.4" y="1374.6" width="19.3" height="16.4" fill="#50f0c0"/>
<rect x="1276.4" y="1390.6" width="19.3" height="8.4" fill="#00ffff"/>
<rect x="1276.4" y="1398.6" width="19.3" height="14.8" fill="#00c0ff"/>
<rect x="1276.4" y="1413.1" width="19.3" height="10.8" fill="#0050ff"/>
<rect x="1276.4" y="1423.5" width="19.3" height="33.3" fill="#0000e0"/>
<rect x="1276.4" y="1456.4" width="19.3" height="18.1" fill="#0000ff"/>
<rect x="1276.4" y="1474.1" width="19.3" height="49.3" fill="#0010f0"/>
<rect x="1276.4" y="1523" width="19.3" height="24.5" fill="#0060ff"/>
<rect x="1318.9" y="1333.6" width="18.9" height="33.3" fill="#e8f818"/>
<rect x="1318.9" y="1366.5" width="18.9" height="9.2" fill="#b8f848"/>
<rect x="1318.9" y="1375.4" width="18.9" height="7.6" fill="#0060ff"/>
<rect x="1318.9" y="1382.6" width="18.9" height="10" fill="#00008a"/>
<rect x="1318.9" y="1392.2" width="18.9" height="22.9" fill="#0000c0"/>
<rect x="1318.9" y="1414.7" width="18.9" height="24.5" fill="#0030f0"/>
<rect x="1318.9" y="1438.8" width="18.9" height="59.8" fill="#0070ff"/>
<rect x="1318.9" y="1498.1" width="18.9" height="26.1" fill="#0090ff"/>
<rect x="1318.9" y="1523.8" width="18.9" height="23.7" fill="#00c8ff"/>
<rect x="1365.9" y="1334.4" width="7.5" height="37.3" fill="#40f0c0"/>
<rect x="1365.9" y="1371.4" width="7.5" height="38.9" fill="#0040ff"/>
<rect x="1365.9" y="1409.9" width="7.5" height="29.3" fill="#00a0ff"/>
<rect x="1365.9" y="1438.8" width="7.5" height="35.7" fill="#00f0f0"/>
<rect x="1365.9" y="1474.1" width="7.5" height="24.5" fill="#80f880"/>
<rect x="1365.9" y="1498.1" width="7.5" height="49.3" fill="#a8f850"/>
<rect x="1373.4" y="1333.6" width="18.8" height="41.3" fill="#70f890"/>
<rect x="1373.4" y="1374.6" width="18.8" height="10.8" fill="#00ffff"/>
<rect x="1373.4" y="1385" width="18.8" height="111.9" fill="#0070ff"/>
<rect x="1373.4" y="1496.5" width="18.8" height="25.3" fill="#00e0ff"/>
<rect x="1373.4" y="1521.4" width="18.8" height="26.1" fill="#70f890"/>
<rect x="1410" y="1333.6" width="9.6" height="6" fill="#0030ff"/>
<rect x="1410" y="1339.3" width="9.6" height="10" fill="#40e8d8"/>
<rect x="1410" y="1348.9" width="9.6" height="8.4" fill="#ffe000"/>
<rect x="1410" y="1356.9" width="9.6" height="190.6" fill="#ff8000"/>
<rect x="1419.6" y="1333.6" width="18.6" height="21.3" fill="#ffe800"/>
<rect x="1419.6" y="1354.5" width="18.6" height="3.6" fill="#a0f858"/>
<rect x="1419.6" y="1357.7" width="18.6" height="4.4" fill="#0050ff"/>
<rect x="1419.6" y="1361.7" width="18.6" height="13.2" fill="#0000f0"/>
<rect x="1419.6" y="1374.6" width="18.6" height="14.8" fill="#0060ff"/>
<rect x="1419.6" y="1389" width="18.6" height="10" fill="#00a0ff"/>
<rect x="1419.6" y="1398.6" width="18.6" height="11.6" fill="#00f8f8"/>
<rect x="1419.6" y="1409.9" width="18.6" height="29.3" fill="#40f0c0"/>
<rect x="1419.6" y="1438.8" width="18.6" height="18.1" fill="#80f880"/>
<rect x="1419.6" y="1456.4" width="18.6" height="24.5" fill="#b8f840"/>
<rect x="1419.6" y="1480.5" width="18.6" height="67" fill="#d8f820"/>
<rect x="1455.8" y="1333.6" width="11.2" height="6" fill="#0030ff"/>
<rect x="1455.8" y="1339.3" width="11.2" height="5.2" fill="#00e0ff"/>
<rect x="1455.8" y="1344.1" width="11.2" height="16.4" fill="#90f870"/>
<rect x="1455.8" y="1360.1" width="11.2" height="14.8" fill="#f0f010"/>
<rect x="1455.8" y="1374.6" width="11.2" height="26.1" fill="#ffb000"/>
<rect x="1455.8" y="1400.2" width="11.2" height="16.4" fill="#ff8000"/>
<rect x="1455.8" y="1416.3" width="11.2" height="22.9" fill="#ff4000"/>
<rect x="1455.8" y="1438.8" width="11.2" height="16.4" fill="#ff2000"/>
<rect x="1455.8" y="1454.8" width="11.2" height="26.1" fill="#f00000"/>
<rect x="1455.8" y="1480.5" width="11.2" height="67" fill="#e00000"/>
<rect x="1467.1" y="1333.6" width="18.5" height="2.8" fill="#ff2000"/>
<rect x="1467.1" y="1336" width="18.5" height="6.8" fill="#ffd000"/>
<rect x="1467.1" y="1342.5" width="18.5" height="58.2" fill="#00b8ff"/>
<rect x="1467.1" y="1400.2" width="18.5" height="11.6" fill="#d8f820"/>
<rect x="1467.1" y="1411.5" width="18.5" height="136" fill="#800000"/>
<rect x="1505.9" y="1334.4" width="8.3" height="29.3" fill="#00e0ff"/>
<rect x="1505.9" y="1363.3" width="8.3" height="5.2" fill="#a0f858"/>
<rect x="1505.9" y="1368.1" width="8.3" height="14.8" fill="#f8e000"/>
<rect x="1505.9" y="1382.6" width="8.3" height="11.6" fill="#ff9000"/>
<rect x="1505.9" y="1393.8" width="8.3" height="16.4" fill="#ff3000"/>
<rect x="1505.9" y="1409.9" width="8.3" height="137.6" fill="#f00000"/>
<rect x="1514.3" y="1334.4" width="18.9" height="10" fill="#00f8f8"/>
<rect x="1514.3" y="1344.1" width="18.9" height="48.5" fill="#40f0c0"/>
<rect x="1514.3" y="1392.2" width="18.9" height="21.3" fill="#70f890"/>
<rect x="1514.3" y="1413.1" width="18.9" height="19.7" fill="#a0f858"/>
<rect x="1514.3" y="1432.3" width="18.9" height="24.5" fill="#c8f838"/>
<rect x="1514.3" y="1456.4" width="18.9" height="68.6" fill="#f0f800"/>
<rect x="1514.3" y="1524.6" width="18.9" height="22.9" fill="#ff2000"/>
<rect x="1558.1" y="1333.6" width="22.9" height="3.6" fill="#0020ff"/>
<rect x="1558.1" y="1336.9" width="22.9" height="7.6" fill="#00c0ff"/>
<rect x="1558.1" y="1344.1" width="22.9" height="13.2" fill="#70f890"/>
<rect x="1558.1" y="1356.9" width="22.9" height="11.6" fill="#e8f818"/>
<rect x="1558.1" y="1368.1" width="22.9" height="8.4" fill="#ffe000"/>
<rect x="1558.1" y="1376.2" width="22.9" height="16.4" fill="#ffb000"/>
<rect x="1558.1" y="1392.2" width="22.9" height="18.1" fill="#ff9800"/>
<rect x="1558.1" y="1409.9" width="22.9" height="13.2" fill="#ff6000"/>
<rect x="1558.1" y="1422.7" width="22.9" height="32.5" fill="#ff4000"/>
<rect x="1558.1" y="1454.8" width="22.9" height="24.5" fill="#ff2000"/>
<rect x="1558.1" y="1478.9" width="22.9" height="18.1" fill="#ff0000"/>
<rect x="1558.1" y="1496.5" width="22.9" height="27.7" fill="#e80000"/>
<rect x="1558.1" y="1523.8" width="22.9" height="23.7" fill="#d00000"/>
<rect x="1609.1" y="1333.6" width="18.8" height="4.4" fill="#0030ff"/>
<rect x="1609.1" y="1337.7" width="18.8" height="6.8" fill="#00d0ff"/>
<rect x="1609.1" y="1344.1" width="18.8" height="8.4" fill="#80f880"/>
<rect x="1609.1" y="1352.1" width="18.8" height="13.2" fill="#e8f818"/>
<rect x="1609.1" y="1364.9" width="18.8" height="10" fill="#ffd000"/>
<rect x="1609.1" y="1374.6" width="18.8" height="14.8" fill="#ffa000"/>
<rect x="1609.1" y="1389" width="18.8" height="11.6" fill="#ff8000"/>
<rect x="1609.1" y="1400.2" width="18.8" height="22.9" fill="#ff6000"/>
<rect x="1609.1" y="1422.7" width="18.8" height="14.8" fill="#ff7000"/>
<rect x="1609.1" y="1437.2" width="18.8" height="42.1" fill="#ff9800"/>
<rect x="1609.1" y="1478.9" width="18.8" height="18.1" fill="#ff8000"/>
<rect x="1609.1" y="1496.5" width="18.8" height="26.9" fill="#ff7000"/>
<rect x="1609.1" y="1523" width="18.8" height="24.5" fill="#ff5000"/>
<rect x="1652" y="1333.6" width="19.9" height="5.3" fill="#0000c0"/>
<rect x="1652" y="1338.5" width="19.9" height="4.1" fill="#00b0ff"/>
<rect x="1652" y="1342.2" width="19.9" height="7.2" fill="#50f0b0"/>
<rect x="1652" y="1349" width="19.9" height="10.9" fill="#e8f818"/>
<rect x="1652" y="1359.5" width="19.9" height="12.7" fill="#ffb000"/>
<rect x="1652" y="1371.9" width="19.9" height="11.5" fill="#ff8000"/>
<rect x="1652" y="1383" width="19.9" height="9" fill="#ff5000"/>
<rect x="1652" y="1391.6" width="19.9" height="15.2" fill="#ff3000"/>
<rect x="1652" y="1406.4" width="19.9" height="139.9" fill="#ff2000"/>
<rect x="1700.1" y="1333.6" width="19.1" height="6.6" fill="#0080ff"/>
<rect x="1700.1" y="1339.8" width="19.1" height="11.5" fill="#40f0c0"/>
<rect x="1700.1" y="1350.9" width="19.1" height="10.3" fill="#a0f858"/>
<rect x="1700.1" y="1360.7" width="19.1" height="16.4" fill="#e8f818"/>
<rect x="1700.1" y="1376.8" width="19.1" height="12.7" fill="#ffd000"/>
<rect x="1700.1" y="1389.1" width="19.1" height="30" fill="#ffa000"/>
<rect x="1700.1" y="1418.8" width="19.1" height="37.4" fill="#ff8000"/>
<rect x="1700.1" y="1455.8" width="19.1" height="25.1" fill="#ff6000"/>
<rect x="1700.1" y="1480.5" width="19.1" height="65.8" fill="#ff4000"/>
<rect x="1740" y="1333.6" width="8" height="6.6" fill="#00b0ff"/>
<rect x="1740" y="1339.8" width="8" height="17.7" fill="#40f0c0"/>
<rect x="1740" y="1357" width="8" height="15.2" fill="#c8f838"/>
<rect x="1740" y="1371.9" width="8" height="16.4" fill="#f8f000"/>
<rect x="1740" y="1387.9" width="8" height="18.9" fill="#ffc000"/>
<rect x="1740" y="1406.4" width="8" height="37.4" fill="#ff9000"/>
<rect x="1740" y="1443.5" width="8" height="25.1" fill="#ff6000"/>
<rect x="1740" y="1468.1" width="8" height="25.1" fill="#ff3000"/>
<rect x="1740" y="1492.8" width="8" height="53.5" fill="#ff1000"/>
<rect x="1748" y="1334.8" width="19.1" height="2.9" fill="#80f880"/>
<rect x="1748" y="1337.3" width="19.1" height="7.2" fill="#00e8f0"/>
<rect x="1748" y="1344.1" width="19.1" height="6" fill="#0090ff"/>
<rect x="1748" y="1349.6" width="19.1" height="4.1" fill="#00e0ff"/>
<rect x="1748" y="1353.3" width="19.1" height="7.8" fill="#ff9000"/>
<rect x="1748" y="1360.7" width="19.1" height="51" fill="#d00000"/>
<rect x="1748" y="1411.4" width="19.1" height="14" fill="#ff3000"/>
<rect x="1748" y="1424.9" width="19.1" height="33.7" fill="#ff7000"/>
<rect x="1748" y="1458.3" width="19.1" height="18.9" fill="#ff4000"/>
<rect x="1748" y="1476.8" width="19.1" height="22.6" fill="#ff2000"/>
<rect x="1748" y="1499" width="19.1" height="47.3" fill="#ff0000"/>
<rect x="1775.8" y="1333.6" width="9.9" height="7.8" fill="#00c8ff"/>
<rect x="1775.8" y="1341" width="9.9" height="16.4" fill="#30e8d8"/>
<rect x="1775.8" y="1357" width="9.9" height="25.1" fill="#90f870"/>
<rect x="1775.8" y="1381.7" width="9.9" height="25.1" fill="#e8f818"/>
<rect x="1775.8" y="1406.4" width="9.9" height="25.1" fill="#ffd000"/>
<rect x="1775.8" y="1431.1" width="9.9" height="25.1" fill="#ffa000"/>
<rect x="1775.8" y="1455.8" width="9.9" height="25.1" fill="#ff9000"/>
<rect x="1775.8" y="1480.5" width="9.9" height="65.8" fill="#ff7000"/>
<rect x="1785.7" y="1333.6" width="18.5" height="2.9" fill="#a6a6a6"/>
<rect x="1785.7" y="1336" width="18.5" height="5.3" fill="#3f9088"/>
<rect x="1785.7" y="1341" width="18.5" height="6" fill="#d9b8fa"/>
<rect x="1785.7" y="1346.5" width="18.5" height="62.1" fill="#3f9088"/>
<rect x="1785.7" y="1408.3" width="18.5" height="56.6" fill="#d9b8fa"/>
<rect x="1785.7" y="1464.4" width="18.5" height="23.9" fill="#8c1cb8"/>
<rect x="1785.7" y="1487.9" width="18.5" height="35" fill="#ff3000"/>
<rect x="1785.7" y="1522.5" width="18.5" height="23.9" fill="#ff0000"/>
<rect x="1804.2" y="1334.2" width="11.7" height="4.7" fill="#0010e0"/>
<rect x="1804.2" y="1338.5" width="11.7" height="6.6" fill="#20e0e0"/>
<rect x="1804.2" y="1344.7" width="11.7" height="7.8" fill="#a0f858"/>
<rect x="1804.2" y="1352.1" width="11.7" height="9" fill="#ffd000"/>
<rect x="1804.2" y="1360.7" width="11.7" height="15.2" fill="#ff9000"/>
<rect x="1804.2" y="1375.6" width="11.7" height="16.4" fill="#ff4000"/>
<rect x="1804.2" y="1391.6" width="11.7" height="27.6" fill="#ff0000"/>
<rect x="1804.2" y="1418.8" width="11.7" height="18.9" fill="#c00000"/>
<rect x="1804.2" y="1437.3" width="11.7" height="18.9" fill="#a00000"/>
<rect x="1804.2" y="1455.8" width="11.7" height="90.5" fill="#800000"/>
<line x1="130" y1="1538.3" x2="1951" y2="1538.3" stroke="#555" stroke-opacity="0.75" stroke-width="2.2"/>
<line x1="1800" y1="1481.7" x2="1815.3" y2="1481.7" stroke="#222" stroke-width="1.6"/>
<polyline points="1803,1478.2 1798,1481.7 1803,1485.2" fill="none" stroke="#222" stroke-width="1.4"/>
<text x="1666" y="1252.3" font-family="'Liberation Sans', Arial, sans-serif" font-size="54.5" font-weight="bold" fill="#ff0000" text-anchor="start" textLength="234" lengthAdjust="spacingAndGlyphs">19GA42S</text>
<polygon points="1789,1263 1807.5,1263 1807.5,1281.5 1818.3,1281.5 1795.2,1329 1772,1281.5 1789,1281.5" fill="#ff0000"/>
<text x="1847.5" y="1331.4" font-family="'Liberation Serif', 'Times New Roman', serif" font-size="54.3" fill="#000" textLength="63" lengthAdjust="spacingAndGlyphs">(<tspan font-weight="bold">d</tspan>)</text>
<rect x="2013.7" y="1325.1" width="34.3" height="213.7" fill="url(#jetg)" stroke="#c8c8d8" stroke-width="1"/>
<text x="2048.5" y="1340.1" font-family="'Liberation Sans', Arial, sans-serif" font-size="36.5" font-weight="bold" fill="#000" text-anchor="start" textLength="34.7" lengthAdjust="spacingAndGlyphs">10</text>
<text x="2086.8" y="1329.8" font-family="'Liberation Sans', Arial, sans-serif" font-size="24" font-weight="bold" fill="#000" text-anchor="start" textLength="29.7" lengthAdjust="spacingAndGlyphs">3.5</text>
<text x="2048.5" y="1427.6" font-family="'Liberation Sans', Arial, sans-serif" font-size="36.5" font-weight="bold" fill="#000" text-anchor="start" textLength="34.7" lengthAdjust="spacingAndGlyphs">10</text>
<text x="2086.8" y="1417.3" font-family="'Liberation Sans', Arial, sans-serif" font-size="24" font-weight="bold" fill="#000" text-anchor="start" textLength="29.7" lengthAdjust="spacingAndGlyphs">2.5</text>
<text x="2048.5" y="1512.7" font-family="'Liberation Sans', Arial, sans-serif" font-size="36.5" font-weight="bold" fill="#000" text-anchor="start" textLength="34.7" lengthAdjust="spacingAndGlyphs">10</text>
<text x="2086.8" y="1502.4" font-family="'Liberation Sans', Arial, sans-serif" font-size="24" font-weight="bold" fill="#000" text-anchor="start" textLength="29.7" lengthAdjust="spacingAndGlyphs">1.5</text>
<text x="2048.5" y="1559.8" font-family="'Liberation Sans', Arial, sans-serif" font-size="36.5" font-weight="bold" fill="#000" text-anchor="start" textLength="34.7" lengthAdjust="spacingAndGlyphs">10</text>
<text x="1997.6" y="1304" font-family="'Liberation Serif', 'Times New Roman', serif" font-size="36" font-weight="bold" fill="#000" text-anchor="start" textLength="56.5" lengthAdjust="spacingAndGlyphs" font-style="italic">&#937;<tspan font-style="italic">m</tspan></text>
<line x1="130" y1="1717.7" x2="1955.7" y2="1717.7" stroke="#eeeeee" stroke-width="2"/>
<line x1="130" y1="1779.3" x2="1955.7" y2="1779.3" stroke="#eeeeee" stroke-width="2"/>
<line x1="130" y1="1840.7" x2="1955.7" y2="1840.7" stroke="#eeeeee" stroke-width="2"/>
<line x1="385.7" y1="1723" x2="385.7" y2="1901" stroke="#eeeeee" stroke-width="1.5"/>
<line x1="641.3" y1="1723" x2="641.3" y2="1901" stroke="#eeeeee" stroke-width="1.5"/>
<line x1="898" y1="1723" x2="898" y2="1901" stroke="#eeeeee" stroke-width="1.5"/>
<line x1="1152.7" y1="1723" x2="1152.7" y2="1901" stroke="#eeeeee" stroke-width="1.5"/>
<line x1="1270" y1="1723" x2="1270" y2="1901" stroke="#eeeeee" stroke-width="1.5"/>
<line x1="1384.3" y1="1723" x2="1384.3" y2="1901" stroke="#eeeeee" stroke-width="1.5"/>
<line x1="1497.5" y1="1723" x2="1497.5" y2="1901" stroke="#eeeeee" stroke-width="1.5"/>
<line x1="1612.8" y1="1723" x2="1612.8" y2="1901" stroke="#eeeeee" stroke-width="1.5"/>
<line x1="1726.6" y1="1723" x2="1726.6" y2="1901" stroke="#eeeeee" stroke-width="1.5"/>
<line x1="1841.4" y1="1723" x2="1841.4" y2="1901" stroke="#eeeeee" stroke-width="1.5"/>
<line x1="1955.7" y1="1723" x2="1955.7" y2="1901" stroke="#eeeeee" stroke-width="1.5"/>
<line x1="130" y1="1688" x2="130" y2="1923" stroke="#6e6e6e" stroke-width="2"/>
<line x1="112" y1="1902" x2="1955.7" y2="1902" stroke="#6e6e6e" stroke-width="2.2"/>
<line x1="130" y1="1902" x2="130" y2="1923" stroke="#6e6e6e" stroke-width="2"/>
<line x1="244.6" y1="1902" x2="244.6" y2="1923" stroke="#6e6e6e" stroke-width="2"/>
<line x1="359.2" y1="1902" x2="359.2" y2="1923" stroke="#6e6e6e" stroke-width="2"/>
<line x1="473.8" y1="1902" x2="473.8" y2="1923" stroke="#6e6e6e" stroke-width="2"/>
<line x1="588.4" y1="1902" x2="588.4" y2="1923" stroke="#6e6e6e" stroke-width="2"/>
<line x1="703" y1="1902" x2="703" y2="1923" stroke="#6e6e6e" stroke-width="2"/>
<line x1="817.6" y1="1902" x2="817.6" y2="1923" stroke="#6e6e6e" stroke-width="2"/>
<line x1="932.2" y1="1902" x2="932.2" y2="1923" stroke="#6e6e6e" stroke-width="2"/>
<line x1="1186.7" y1="1902" x2="1186.7" y2="1923" stroke="#6e6e6e" stroke-width="2"/>
<line x1="1444.1" y1="1902" x2="1444.1" y2="1923" stroke="#6e6e6e" stroke-width="2"/>
<line x1="1700.1" y1="1902" x2="1700.1" y2="1923" stroke="#6e6e6e" stroke-width="2"/>
<line x1="1955.7" y1="1902" x2="1955.7" y2="1923" stroke="#6e6e6e" stroke-width="2"/>
<line x1="116" y1="1717.7" x2="130" y2="1717.7" stroke="#6e6e6e" stroke-width="2"/>
<line x1="116" y1="1779.3" x2="130" y2="1779.3" stroke="#6e6e6e" stroke-width="2"/>
<line x1="116" y1="1840.7" x2="130" y2="1840.7" stroke="#6e6e6e" stroke-width="2"/>
<text x="123" y="1728.4" font-family="'Liberation Sans', Arial, sans-serif" font-size="31.5" font-weight="bold" fill="#000" text-anchor="end" textLength="55" lengthAdjust="spacingAndGlyphs">600</text>
<text x="123" y="1790" font-family="'Liberation Sans', Arial, sans-serif" font-size="31.5" font-weight="bold" fill="#000" text-anchor="end" textLength="55" lengthAdjust="spacingAndGlyphs">400</text>
<text x="123" y="1851.4" font-family="'Liberation Sans', Arial, sans-serif" font-size="31.5" font-weight="bold" fill="#000" text-anchor="end" textLength="55" lengthAdjust="spacingAndGlyphs">200</text>
<text transform="translate(53.5 1886.7) rotate(-90)" font-family="'Liberation Sans', Arial, sans-serif" font-size="35" font-weight="bold" textLength="191" lengthAdjust="spacingAndGlyphs">H<tspan font-size="24" dy="7">s</tspan><tspan dy="-7">/H</tspan><tspan font-size="24" dy="7">p</tspan><tspan dy="-7"> [ppm]</tspan></text>
<text x="467.2" y="1715.4" font-family="'Liberation Sans', Arial, sans-serif" font-size="55.5" font-weight="bold" fill="#000" text-anchor="start" textLength="1107" lengthAdjust="spacingAndGlyphs">EMI ERT-constrained inversion: data fitting</text>
<g fill="#eba21c"><circle cx="266.4" cy="1851" r="4.1"/><circle cx="312.3" cy="1851" r="4.1"/><circle cx="354.3" cy="1851" r="4.1"/><circle cx="401" cy="1847.7" r="4.1"/><circle cx="448.1" cy="1847.7" r="4.1"/><circle cx="500.1" cy="1847.7" r="4.1"/><circle cx="545.6" cy="1847.6" r="4.1"/><circle cx="581.9" cy="1844.6" r="4.1"/><circle cx="626.6" cy="1844.6" r="4.1"/><circle cx="670.7" cy="1844.6" r="4.1"/><circle cx="937.1" cy="1842.8" r="3.3"/><circle cx="942.8" cy="1849" r="3.3"/><circle cx="980" cy="1844.6" r="3.3"/><circle cx="998.3" cy="1851" r="3.3"/><circle cx="1019.3" cy="1845.7" r="3.3"/><circle cx="1043.9" cy="1852.8" r="3.3"/><circle cx="1065.4" cy="1845.7" r="3.3"/><circle cx="1098.5" cy="1854.6" r="3.3"/><circle cx="1107.5" cy="1848.3" r="3.3"/><circle cx="1148.6" cy="1856.9" r="3.3"/><circle cx="1152.7" cy="1850.2" r="3.3"/><circle cx="1197.8" cy="1850.2" r="3.3"/><circle cx="1202.8" cy="1858.3" r="3.3"/><circle cx="1239.9" cy="1852" r="3.3"/><circle cx="1239.9" cy="1860.2" r="3.3"/><circle cx="1289" cy="1857" r="3.3"/><circle cx="1289" cy="1860" r="3.3"/><circle cx="1331.1" cy="1860" r="3.3"/><circle cx="1331.1" cy="1862" r="3.3"/><circle cx="1377.2" cy="1858.3" r="3.3"/><circle cx="1386.3" cy="1863.9" r="3.3"/><circle cx="1423" cy="1860.2" r="3.3"/><circle cx="1431.9" cy="1865" r="3.3"/><circle cx="1468.3" cy="1862" r="3.3"/><circle cx="1479.5" cy="1866" r="3.3"/><circle cx="1518.4" cy="1863.9" r="3.3"/><circle cx="1526.6" cy="1866" r="3.3"/><circle cx="1571.7" cy="1865" r="3.3"/><circle cx="1574.7" cy="1867" r="3.3"/><circle cx="1621.9" cy="1868.5" r="3.3"/><circle cx="1662" cy="1868.5" r="3.3"/><circle cx="1669" cy="1868.5" r="3.3"/><circle cx="1714.1" cy="1869.6" r="3.3"/><circle cx="1753.2" cy="1869.6" r="3.3"/><circle cx="1762.2" cy="1869.6" r="3.3"/><circle cx="1787.9" cy="1870" r="3.3"/><circle cx="1798.3" cy="1870" r="3.3"/><circle cx="1810.8" cy="1870" r="3.3"/></g>
<g fill="#00ffff"><circle cx="266.4" cy="1816.7" r="4.1"/><circle cx="312.3" cy="1816.7" r="4.1"/><circle cx="354.3" cy="1816.7" r="4.1"/><circle cx="401" cy="1811.7" r="4.1"/><circle cx="448.1" cy="1811.7" r="4.1"/><circle cx="500.1" cy="1811.7" r="4.1"/><circle cx="545.6" cy="1811.3" r="4.1"/><circle cx="581.9" cy="1805.7" r="4.1"/><circle cx="626.6" cy="1805.7" r="4.1"/><circle cx="670.7" cy="1805.7" r="4.1"/><circle cx="937.1" cy="1801.3" r="3.3"/><circle cx="942.8" cy="1806.5" r="3.3"/><circle cx="980" cy="1805" r="3.3"/><circle cx="998.3" cy="1808.3" r="3.3"/><circle cx="1019.3" cy="1803.9" r="3.3"/><circle cx="1043.9" cy="1811.3" r="3.3"/><circle cx="1065.4" cy="1803.9" r="3.3"/><circle cx="1098.5" cy="1813" r="3.3"/><circle cx="1107.5" cy="1805.7" r="3.3"/><circle cx="1148.6" cy="1816" r="3.3"/><circle cx="1152.7" cy="1805.7" r="3.3"/><circle cx="1197.8" cy="1807.6" r="3.3"/><circle cx="1202.8" cy="1818" r="3.3"/><circle cx="1239.9" cy="1809.4" r="3.3"/><circle cx="1239.9" cy="1820.6" r="3.3"/><circle cx="1289" cy="1812" r="3.3"/><circle cx="1289" cy="1822.8" r="3.3"/><circle cx="1331.1" cy="1813" r="3.3"/><circle cx="1331.1" cy="1824.6" r="3.3"/><circle cx="1377.2" cy="1816.9" r="3.3"/><circle cx="1386.3" cy="1826" r="3.3"/><circle cx="1423" cy="1819.4" r="3.3"/><circle cx="1431.9" cy="1828.7" r="3.3"/><circle cx="1468.3" cy="1822" r="3.3"/><circle cx="1479.5" cy="1830.2" r="3.3"/><circle cx="1518.4" cy="1825.4" r="3.3"/><circle cx="1526.6" cy="1831.7" r="3.3"/><circle cx="1571.7" cy="1827" r="3.3"/><circle cx="1574.7" cy="1832" r="3.3"/><circle cx="1621.9" cy="1834.2" r="3.3"/><circle cx="1662" cy="1834" r="3.3"/><circle cx="1669" cy="1834" r="3.3"/><circle cx="1714.1" cy="1837" r="3.3"/><circle cx="1753.2" cy="1836" r="3.3"/><circle cx="1762.2" cy="1836" r="3.3"/><circle cx="1787.9" cy="1837" r="3.3"/><circle cx="1798.3" cy="1837" r="3.3"/><circle cx="1810.8" cy="1837" r="3.3"/></g>
<g fill="#0a7d0a"><circle cx="266.4" cy="1787.7" r="4.1"/><circle cx="312.3" cy="1788.3" r="4.1"/><circle cx="354.3" cy="1788" r="4.1"/><circle cx="401" cy="1781.7" r="4.1"/><circle cx="448.1" cy="1782" r="4.1"/><circle cx="500.1" cy="1782" r="4.1"/><circle cx="545.6" cy="1781.7" r="4.1"/><circle cx="581.9" cy="1773.5" r="4.1"/><circle cx="626.6" cy="1773.5" r="4.1"/><circle cx="670.7" cy="1773.5" r="4.1"/><circle cx="937.1" cy="1768.7" r="3.3"/><circle cx="942.8" cy="1768.7" r="3.3"/><circle cx="980" cy="1773.5" r="3.3"/><circle cx="998.3" cy="1771.3" r="3.3"/><circle cx="1019.3" cy="1769.4" r="3.3"/><circle cx="1043.9" cy="1773.5" r="3.3"/><circle cx="1065.4" cy="1769.4" r="3.3"/><circle cx="1098.5" cy="1775.4" r="3.3"/><circle cx="1107.5" cy="1769.4" r="3.3"/><circle cx="1148.6" cy="1778" r="3.3"/><circle cx="1152.7" cy="1766.9" r="3.3"/><circle cx="1197.8" cy="1769.8" r="3.3"/><circle cx="1202.8" cy="1781" r="3.3"/><circle cx="1239.9" cy="1769.8" r="3.3"/><circle cx="1239.9" cy="1783.5" r="3.3"/><circle cx="1289" cy="1771.3" r="3.3"/><circle cx="1289" cy="1785.4" r="3.3"/><circle cx="1331.1" cy="1772.4" r="3.3"/><circle cx="1331.1" cy="1787.2" r="3.3"/><circle cx="1377.2" cy="1775" r="3.3"/><circle cx="1386.3" cy="1789.8" r="3.3"/><circle cx="1423" cy="1778" r="3.3"/><circle cx="1431.9" cy="1792.4" r="3.3"/><circle cx="1468.3" cy="1782" r="3.3"/><circle cx="1479.5" cy="1794.6" r="3.3"/><circle cx="1518.4" cy="1786" r="3.3"/><circle cx="1526.6" cy="1796" r="3.3"/><circle cx="1571.7" cy="1788" r="3.3"/><circle cx="1574.7" cy="1798" r="3.3"/><circle cx="1621.9" cy="1800.7" r="3.3"/><circle cx="1662" cy="1795" r="3.3"/><circle cx="1669" cy="1803" r="3.3"/><circle cx="1714.1" cy="1803.9" r="3.3"/><circle cx="1753.2" cy="1803.9" r="3.3"/><circle cx="1762.2" cy="1804" r="3.3"/><circle cx="1787.9" cy="1805" r="3.3"/><circle cx="1798.3" cy="1805" r="3.3"/><circle cx="1810.8" cy="1805" r="3.3"/></g>
<g fill="#ff0000"><rect x="264.8" y="1843.4" width="3.2" height="3.2"/><rect x="310.7" y="1842.4" width="3.2" height="3.2"/><rect x="352.7" y="1841.4" width="3.2" height="3.2"/><rect x="399.4" y="1840.1" width="3.2" height="3.2"/><rect x="446.5" y="1838.4" width="3.2" height="3.2"/><rect x="498.5" y="1836.4" width="3.2" height="3.2"/><rect x="544" y="1834.9" width="3.2" height="3.2"/><rect x="580.3" y="1833" width="3.2" height="3.2"/><rect x="625" y="1831.9" width="3.2" height="3.2"/><rect x="669.1" y="1831.2" width="3.2" height="3.2"/></g>
<g fill="#40e040"><circle cx="266.4" cy="1792.7" r="2"/><circle cx="312.3" cy="1793.3" r="2"/><circle cx="354.3" cy="1793" r="2"/><circle cx="401" cy="1786.7" r="2"/></g>
<text x="1846.6" y="1702.6" font-family="'Liberation Serif', 'Times New Roman', serif" font-size="52.7" fill="#000" textLength="57.8" lengthAdjust="spacingAndGlyphs">(<tspan font-weight="bold">e</tspan>)</text>
<rect x="1834" y="1750.3" width="283" height="130.5" fill="#fff" stroke="#222" stroke-width="2.5"/>
<line x1="1846" y1="1775.1" x2="1978" y2="1775.1" stroke="#ff3030" stroke-width="2.2"/>
<text x="1989.5" y="1787.1" font-family="'Liberation Sans', Arial, sans-serif" font-size="34" font-weight="normal" fill="#222" text-anchor="start" textLength="101.6" lengthAdjust="spacingAndGlyphs">5 KHz</text>
<line x1="1846" y1="1817.2" x2="1978" y2="1817.2" stroke="#4040ff" stroke-width="2.2"/>
<text x="1989.5" y="1829.2" font-family="'Liberation Sans', Arial, sans-serif" font-size="34" font-weight="normal" fill="#222" text-anchor="start" textLength="120.5" lengthAdjust="spacingAndGlyphs">10 KHz</text>
<line x1="1846" y1="1859.3" x2="1978" y2="1859.3" stroke="#30e030" stroke-width="2.2"/>
<text x="1989.5" y="1871.3" font-family="'Liberation Sans', Arial, sans-serif" font-size="34" font-weight="normal" fill="#222" text-anchor="start" textLength="120.5" lengthAdjust="spacingAndGlyphs">15 KHz</text>
<line x1="130" y1="2056.3" x2="1955.7" y2="2056.3" stroke="#eeeeee" stroke-width="2.5"/>
<line x1="130" y1="2134.2" x2="1955.7" y2="2134.2" stroke="#eeeeee" stroke-width="2.5"/>
<line x1="130" y1="2210.8" x2="1955.7" y2="2210.8" stroke="#eeeeee" stroke-width="2.5"/>
<line x1="385.7" y1="2044.7" x2="385.7" y2="2255.7" stroke="#eeeeee" stroke-width="1.5"/>
<line x1="641.3" y1="2044.7" x2="641.3" y2="2255.7" stroke="#eeeeee" stroke-width="1.5"/>
<line x1="898" y1="2044.7" x2="898" y2="2255.7" stroke="#eeeeee" stroke-width="1.5"/>
<line x1="1152.7" y1="2044.7" x2="1152.7" y2="2255.7" stroke="#eeeeee" stroke-width="1.5"/>
<line x1="1270" y1="2044.7" x2="1270" y2="2255.7" stroke="#eeeeee" stroke-width="1.5"/>
<line x1="1384.3" y1="2044.7" x2="1384.3" y2="2255.7" stroke="#eeeeee" stroke-width="1.5"/>
<line x1="1497.5" y1="2044.7" x2="1497.5" y2="2255.7" stroke="#eeeeee" stroke-width="1.5"/>
<line x1="1612.8" y1="2044.7" x2="1612.8" y2="2255.7" stroke="#eeeeee" stroke-width="1.5"/>
<line x1="1726.6" y1="2044.7" x2="1726.6" y2="2255.7" stroke="#eeeeee" stroke-width="1.5"/>
<line x1="1841.4" y1="2044.7" x2="1841.4" y2="2255.7" stroke="#eeeeee" stroke-width="1.5"/>
<line x1="1955.7" y1="2044.7" x2="1955.7" y2="2255.7" stroke="#eeeeee" stroke-width="1.5"/>
<line x1="130" y1="2041.7" x2="130" y2="2283.5" stroke="#6e6e6e" stroke-width="2"/>
<line x1="1955.7" y1="2042.7" x2="1955.7" y2="2282.5" stroke="#bbbbbb" stroke-width="2"/>
<line x1="130" y1="2256.7" x2="130" y2="2282.5" stroke="#6e6e6e" stroke-width="2"/>
<line x1="244.6" y1="2256.7" x2="244.6" y2="2282.5" stroke="#6e6e6e" stroke-width="2"/>
<line x1="359.2" y1="2256.7" x2="359.2" y2="2282.5" stroke="#6e6e6e" stroke-width="2"/>
<line x1="473.8" y1="2256.7" x2="473.8" y2="2282.5" stroke="#6e6e6e" stroke-width="2"/>
<line x1="588.4" y1="2256.7" x2="588.4" y2="2282.5" stroke="#6e6e6e" stroke-width="2"/>
<line x1="703" y1="2256.7" x2="703" y2="2282.5" stroke="#6e6e6e" stroke-width="2"/>
<line x1="817.6" y1="2256.7" x2="817.6" y2="2282.5" stroke="#6e6e6e" stroke-width="2"/>
<line x1="932.2" y1="2256.7" x2="932.2" y2="2282.5" stroke="#6e6e6e" stroke-width="2"/>
<line x1="1186.7" y1="2256.7" x2="1186.7" y2="2282.5" stroke="#6e6e6e" stroke-width="2"/>
<line x1="1444.1" y1="2256.7" x2="1444.1" y2="2282.5" stroke="#6e6e6e" stroke-width="2"/>
<line x1="1700.1" y1="2256.7" x2="1700.1" y2="2282.5" stroke="#6e6e6e" stroke-width="2"/>
<line x1="1955.7" y1="2256.7" x2="1955.7" y2="2282.5" stroke="#6e6e6e" stroke-width="2"/>
<line x1="113.5" y1="2056.3" x2="130" y2="2056.3" stroke="#999" stroke-width="2.5"/>
<text x="111.5" y="2070.3" font-family="'Liberation Sans', Arial, sans-serif" font-size="37" font-weight="bold" fill="#000" text-anchor="end" textLength="36.5" lengthAdjust="spacingAndGlyphs">75</text>
<line x1="113.5" y1="2134.2" x2="130" y2="2134.2" stroke="#999" stroke-width="2.5"/>
<text x="111.5" y="2148.2" font-family="'Liberation Sans', Arial, sans-serif" font-size="37" font-weight="bold" fill="#000" text-anchor="end" textLength="36.5" lengthAdjust="spacingAndGlyphs">70</text>
<line x1="113.5" y1="2210.8" x2="130" y2="2210.8" stroke="#999" stroke-width="2.5"/>
<text x="111.5" y="2224.8" font-family="'Liberation Sans', Arial, sans-serif" font-size="37" font-weight="bold" fill="#000" text-anchor="end" textLength="36.5" lengthAdjust="spacingAndGlyphs">65</text>
<text transform="translate(60.5 2257.4) rotate(-90)" font-family="'Liberation Sans', Arial, sans-serif" font-size="37" font-weight="bold" textLength="216" lengthAdjust="spacingAndGlyphs">Elevation [m]</text>
<text x="401.7" y="2030" font-family="'Liberation Sans', Arial, sans-serif" font-size="55.5" font-weight="bold" fill="#000" text-anchor="start" textLength="1256" lengthAdjust="spacingAndGlyphs">EMI ERT-constrained inversion: resistivity model</text>
<rect x="257.6" y="2049.3" width="19.3" height="18" fill="#70f0a0"/>
<rect x="257.6" y="2066.9" width="19.3" height="76.5" fill="#80f880"/>
<rect x="257.6" y="2143" width="19.3" height="12.3" fill="#00ffff"/>
<rect x="257.6" y="2154.9" width="19.3" height="111.1" fill="#00008a"/>
<rect x="303" y="2049.3" width="19.9" height="15.2" fill="#70f0a0"/>
<rect x="303" y="2064.1" width="19.9" height="77.1" fill="#80f880"/>
<rect x="303" y="2140.7" width="19.9" height="13.7" fill="#00ffff"/>
<rect x="303" y="2154.1" width="19.9" height="112" fill="#00008a"/>
<rect x="345.1" y="2049.3" width="19.3" height="16.6" fill="#70f0a0"/>
<rect x="345.1" y="2065.5" width="19.3" height="72.8" fill="#80f880"/>
<rect x="345.1" y="2137.9" width="19.3" height="21.7" fill="#00ffff"/>
<rect x="345.1" y="2159.2" width="19.3" height="106.9" fill="#00008a"/>
<rect x="392.5" y="2049.3" width="18.7" height="3.8" fill="#ffa000"/>
<rect x="392.5" y="2052.7" width="18.7" height="7.5" fill="#ffe000"/>
<rect x="392.5" y="2059.8" width="18.7" height="27.4" fill="#80f880"/>
<rect x="392.5" y="2086.8" width="18.7" height="20.3" fill="#50f0b0"/>
<rect x="392.5" y="2106.7" width="18.7" height="8.9" fill="#20e8e8"/>
<rect x="392.5" y="2115.2" width="18.7" height="14" fill="#00d0ff"/>
<rect x="392.5" y="2128.8" width="18.7" height="13.7" fill="#0070ff"/>
<rect x="392.5" y="2142.2" width="18.7" height="11.8" fill="#0010f0"/>
<rect x="392.5" y="2153.5" width="18.7" height="112.6" fill="#00008a"/>
<rect x="439.6" y="2049.3" width="19" height="9.5" fill="#20e8e8"/>
<rect x="439.6" y="2058.4" width="19" height="17.4" fill="#d0f830"/>
<rect x="439.6" y="2075.4" width="19" height="16" fill="#a8f850"/>
<rect x="439.6" y="2091.1" width="19" height="13.2" fill="#c8f838"/>
<rect x="439.6" y="2103.8" width="19" height="11.8" fill="#70f890"/>
<rect x="439.6" y="2115.2" width="19" height="10.3" fill="#20e8e8"/>
<rect x="439.6" y="2125.1" width="19" height="16" fill="#00c0ff"/>
<rect x="439.6" y="2140.7" width="19" height="13.2" fill="#0020ff"/>
<rect x="439.6" y="2153.5" width="19" height="112.6" fill="#00008a"/>
<rect x="490.4" y="2048.5" width="18.7" height="38.7" fill="#90f870"/>
<rect x="490.4" y="2086.8" width="18.7" height="13.2" fill="#40f0c0"/>
<rect x="490.4" y="2099.6" width="18.7" height="16" fill="#a0f858"/>
<rect x="490.4" y="2115.2" width="18.7" height="10.3" fill="#60f0a0"/>
<rect x="490.4" y="2125.1" width="18.7" height="14" fill="#00c0ff"/>
<rect x="490.4" y="2138.8" width="18.7" height="127.3" fill="#00008a"/>
<rect x="537.3" y="2049.3" width="17.9" height="3.8" fill="#20e8e8"/>
<rect x="537.3" y="2052.7" width="17.9" height="20.3" fill="#d8f828"/>
<rect x="537.3" y="2072.6" width="17.9" height="43" fill="#a8f850"/>
<rect x="537.3" y="2115.2" width="17.9" height="11.8" fill="#20e8e8"/>
<rect x="537.3" y="2126.5" width="17.9" height="11.2" fill="#00c0ff"/>
<rect x="537.3" y="2137.3" width="17.9" height="15.7" fill="#0020ff"/>
<rect x="537.3" y="2152.7" width="17.9" height="113.4" fill="#00008a"/>
<rect x="572.8" y="2048.5" width="18.5" height="35.9" fill="#90f870"/>
<rect x="572.8" y="2084" width="18.5" height="43" fill="#60f0a0"/>
<rect x="572.8" y="2126.5" width="18.5" height="10.9" fill="#00c0ff"/>
<rect x="572.8" y="2137.1" width="18.5" height="129" fill="#00008a"/>
<rect x="617.7" y="2048.5" width="19" height="34.5" fill="#90f870"/>
<rect x="617.7" y="2082.5" width="19" height="18.9" fill="#40f0c0"/>
<rect x="617.7" y="2101" width="19" height="26" fill="#90f870"/>
<rect x="617.7" y="2126.5" width="19" height="11.2" fill="#00c0ff"/>
<rect x="617.7" y="2137.3" width="19" height="128.7" fill="#00008a"/>
<rect x="661.7" y="2048.5" width="19" height="34.5" fill="#90f870"/>
<rect x="661.7" y="2082.5" width="19" height="16" fill="#40f0c0"/>
<rect x="661.7" y="2098.1" width="19" height="17.4" fill="#90f870"/>
<rect x="661.7" y="2115.2" width="19" height="15.2" fill="#60f0a0"/>
<rect x="661.7" y="2130" width="19" height="11.2" fill="#00c0ff"/>
<rect x="661.7" y="2140.7" width="19" height="125.3" fill="#00008a"/>
<rect x="927.7" y="2049.1" width="6.7" height="34.4" fill="#e8f818"/>
<rect x="927.7" y="2083.1" width="6.7" height="22.9" fill="#40f0c0"/>
<rect x="927.7" y="2105.6" width="6.7" height="12.4" fill="#00e0ff"/>
<rect x="927.7" y="2117.7" width="6.7" height="12.4" fill="#0060ff"/>
<rect x="927.7" y="2129.7" width="6.7" height="10.8" fill="#0000f0"/>
<rect x="927.7" y="2140.1" width="6.7" height="124.8" fill="#00008a"/>
<rect x="934.4" y="2049.1" width="18.9" height="8.7" fill="#40f0c0"/>
<rect x="934.4" y="2057.5" width="18.9" height="18.1" fill="#20e0e0"/>
<rect x="934.4" y="2075.1" width="18.9" height="54.2" fill="#80f880"/>
<rect x="934.4" y="2128.9" width="18.9" height="44.5" fill="#00ffff"/>
<rect x="934.4" y="2173" width="18.9" height="21.3" fill="#0060ff"/>
<rect x="934.4" y="2193.9" width="18.9" height="71" fill="#00008a"/>
<rect x="971.8" y="2049.1" width="17.7" height="28" fill="#80f880"/>
<rect x="971.8" y="2076.7" width="17.7" height="38.9" fill="#50f0b0"/>
<rect x="971.8" y="2115.2" width="17.7" height="14.8" fill="#00d0ff"/>
<rect x="971.8" y="2129.7" width="17.7" height="9.2" fill="#0060ff"/>
<rect x="971.8" y="2138.5" width="17.7" height="16.4" fill="#0000f0"/>
<rect x="971.8" y="2154.6" width="17.7" height="110.3" fill="#00008a"/>
<rect x="989.8" y="2049.1" width="17.7" height="21.6" fill="#80f880"/>
<rect x="989.8" y="2070.3" width="17.7" height="14.8" fill="#40f0c0"/>
<rect x="989.8" y="2084.8" width="17.7" height="8.4" fill="#80f880"/>
<rect x="989.8" y="2092.8" width="17.7" height="13.2" fill="#b0f850"/>
<rect x="989.8" y="2105.6" width="17.7" height="10" fill="#20e8e0"/>
<rect x="989.8" y="2115.2" width="17.7" height="11.6" fill="#0000f0"/>
<rect x="989.8" y="2126.5" width="17.7" height="67.8" fill="#0000c0"/>
<rect x="989.8" y="2193.9" width="17.7" height="71" fill="#00008a"/>
<rect x="1011.4" y="2049.1" width="18.1" height="2.3" fill="#20e0f0"/>
<rect x="1011.4" y="2051" width="18.1" height="40.5" fill="#60f0a0"/>
<rect x="1011.4" y="2091.2" width="18.1" height="19.7" fill="#90f870"/>
<rect x="1011.4" y="2110.4" width="18.1" height="17.3" fill="#60f0a0"/>
<rect x="1011.4" y="2127.3" width="18.1" height="14" fill="#00ffff"/>
<rect x="1011.4" y="2140.9" width="18.1" height="13.2" fill="#0060ff"/>
<rect x="1011.4" y="2153.8" width="18.1" height="111.1" fill="#00008a"/>
<rect x="1035.5" y="2050.2" width="17.7" height="67" fill="#40f0c0"/>
<rect x="1035.5" y="2116.8" width="17.7" height="11.6" fill="#20e0e0"/>
<rect x="1035.5" y="2128.1" width="17.7" height="13.2" fill="#00d0ff"/>
<rect x="1035.5" y="2140.9" width="17.7" height="14" fill="#0060ff"/>
<rect x="1035.5" y="2154.6" width="17.7" height="17.3" fill="#0010f0"/>
<rect x="1035.5" y="2171.4" width="17.7" height="46.9" fill="#0000c0"/>
<rect x="1035.5" y="2218" width="17.7" height="46.9" fill="#00008a"/>
<rect x="1057.6" y="2049.1" width="17.7" height="7.1" fill="#20e8e8"/>
<rect x="1057.6" y="2055.9" width="17.7" height="59.8" fill="#80f880"/>
<rect x="1057.6" y="2115.2" width="17.7" height="11.6" fill="#20e8e0"/>
<rect x="1057.6" y="2126.5" width="17.7" height="14.8" fill="#0000f0"/>
<rect x="1057.6" y="2140.9" width="17.7" height="124" fill="#00008a"/>
<rect x="1090.5" y="2049.4" width="18.9" height="19.7" fill="#e00000"/>
<rect x="1090.5" y="2068.7" width="18.9" height="10.8" fill="#ff5000"/>
<rect x="1090.5" y="2079.1" width="18.9" height="7.6" fill="#ffe000"/>
<rect x="1090.5" y="2086.4" width="18.9" height="12.4" fill="#90f870"/>
<rect x="1090.5" y="2098.4" width="18.9" height="144" fill="#0000e8"/>
<rect x="1090.5" y="2242" width="18.9" height="22.9" fill="#0018ff"/>
<rect x="1109.5" y="2049.4" width="7.5" height="5.2" fill="#ffb000"/>
<rect x="1109.5" y="2054.3" width="7.5" height="36.5" fill="#ff8000"/>
<rect x="1109.5" y="2090.4" width="7.5" height="9.2" fill="#ffd000"/>
<rect x="1109.5" y="2099.2" width="7.5" height="7.6" fill="#90f870"/>
<rect x="1109.5" y="2106.4" width="7.5" height="12.4" fill="#0030ff"/>
<rect x="1109.5" y="2118.5" width="7.5" height="146.4" fill="#00008a"/>
<rect x="1139.8" y="2050.2" width="23.4" height="17.3" fill="#90f870"/>
<rect x="1139.8" y="2067.1" width="23.4" height="35.7" fill="#60f0a0"/>
<rect x="1139.8" y="2102.4" width="23.4" height="15.6" fill="#40f0c0"/>
<rect x="1139.8" y="2117.7" width="23.4" height="10.8" fill="#00b0ff"/>
<rect x="1139.8" y="2128.1" width="23.4" height="13.2" fill="#0000c8"/>
<rect x="1139.8" y="2140.9" width="23.4" height="75.8" fill="#00008a"/>
<rect x="1139.8" y="2216.4" width="23.4" height="25.3" fill="#0000b0"/>
<rect x="1139.8" y="2241.2" width="23.4" height="23.7" fill="#0010f0"/>
<rect x="1189.7" y="2049.4" width="4" height="10" fill="#ff8000"/>
<rect x="1189.7" y="2059.1" width="4" height="6.8" fill="#ffe000"/>
<rect x="1189.7" y="2065.5" width="4" height="6.8" fill="#40f0c0"/>
<rect x="1189.7" y="2071.9" width="4" height="19.7" fill="#00e0ff"/>
<rect x="1189.7" y="2091.2" width="4" height="19.7" fill="#0050ff"/>
<rect x="1189.7" y="2110.4" width="4" height="21.3" fill="#0000c0"/>
<rect x="1189.7" y="2131.3" width="4" height="110.3" fill="#00008a"/>
<rect x="1189.7" y="2241.2" width="4" height="23.7" fill="#0020ff"/>
<rect x="1193.7" y="2049.4" width="19.3" height="10" fill="#ffe000"/>
<rect x="1193.7" y="2059.1" width="19.3" height="13.2" fill="#90f870"/>
<rect x="1193.7" y="2071.9" width="19.3" height="5.2" fill="#30e8d8"/>
<rect x="1193.7" y="2076.7" width="19.3" height="15.6" fill="#00e8ff"/>
<rect x="1193.7" y="2092" width="19.3" height="6.8" fill="#90f870"/>
<rect x="1193.7" y="2098.4" width="19.3" height="22.9" fill="#d8f828"/>
<rect x="1193.7" y="2120.9" width="19.3" height="10.8" fill="#50f0b0"/>
<rect x="1193.7" y="2131.3" width="19.3" height="40.5" fill="#00008a"/>
<rect x="1193.7" y="2171.4" width="19.3" height="25.3" fill="#00b0ff"/>
<rect x="1193.7" y="2196.3" width="19.3" height="22.1" fill="#70f890"/>
<rect x="1193.7" y="2218" width="19.3" height="25.3" fill="#d8f828"/>
<rect x="1193.7" y="2242.8" width="19.3" height="22.1" fill="#ffc800"/>
<rect x="1231.4" y="2049.4" width="19.3" height="6.8" fill="#50f0b0"/>
<rect x="1231.4" y="2055.9" width="19.3" height="27.7" fill="#80f880"/>
<rect x="1231.4" y="2083.1" width="19.3" height="10" fill="#60f0a0"/>
<rect x="1231.4" y="2092.8" width="19.3" height="14.8" fill="#00ffff"/>
<rect x="1231.4" y="2107.2" width="19.3" height="20.5" fill="#40f0c0"/>
<rect x="1231.4" y="2127.3" width="19.3" height="13.2" fill="#00a0ff"/>
<rect x="1231.4" y="2140.1" width="19.3" height="33.3" fill="#00008a"/>
<rect x="1231.4" y="2173" width="19.3" height="19.7" fill="#0000a8"/>
<rect x="1231.4" y="2192.3" width="19.3" height="22.9" fill="#0000c8"/>
<rect x="1231.4" y="2214.7" width="19.3" height="27.7" fill="#0000f8"/>
<rect x="1231.4" y="2242" width="19.3" height="22.9" fill="#50f0b0"/>
<rect x="1280" y="2049.4" width="19.3" height="40.5" fill="#a0f858"/>
<rect x="1280" y="2089.6" width="19.3" height="10" fill="#40f0c0"/>
<rect x="1280" y="2099.2" width="19.3" height="10" fill="#00c0ff"/>
<rect x="1280" y="2108.8" width="19.3" height="8.4" fill="#0050ff"/>
<rect x="1280" y="2116.8" width="19.3" height="37.3" fill="#0000e8"/>
<rect x="1280" y="2153.8" width="19.3" height="19.7" fill="#0000a0"/>
<rect x="1280" y="2173" width="19.3" height="18.1" fill="#00008a"/>
<rect x="1280" y="2190.7" width="19.3" height="24.5" fill="#0020f0"/>
<rect x="1280" y="2214.7" width="19.3" height="26.1" fill="#00a8ff"/>
<rect x="1280" y="2240.4" width="19.3" height="24.5" fill="#60f0a0"/>
<rect x="1322.1" y="2049.4" width="19.3" height="8.4" fill="#50f0b0"/>
<rect x="1322.1" y="2057.5" width="19.3" height="11.6" fill="#a0f858"/>
<rect x="1322.1" y="2068.7" width="19.3" height="14.8" fill="#50f0b0"/>
<rect x="1322.1" y="2083.1" width="19.3" height="16.4" fill="#a0f858"/>
<rect x="1322.1" y="2099.2" width="19.3" height="8.4" fill="#00ffff"/>
<rect x="1322.1" y="2107.2" width="19.3" height="24.5" fill="#0070ff"/>
<rect x="1322.1" y="2131.3" width="19.3" height="8.4" fill="#0020e0"/>
<rect x="1322.1" y="2139.3" width="19.3" height="34.1" fill="#00008a"/>
<rect x="1322.1" y="2173" width="19.3" height="19.7" fill="#0000f0"/>
<rect x="1322.1" y="2192.3" width="19.3" height="22.9" fill="#0070ff"/>
<rect x="1322.1" y="2214.7" width="19.3" height="27.7" fill="#90f870"/>
<rect x="1322.1" y="2242" width="19.3" height="22.9" fill="#c8f838"/>
<rect x="1369.4" y="2049.4" width="8" height="8.4" fill="#50f0b0"/>
<rect x="1369.4" y="2057.5" width="8" height="42.1" fill="#00e8f0"/>
<rect x="1369.4" y="2099.2" width="8" height="29.3" fill="#0030f0"/>
<rect x="1369.4" y="2128.1" width="8" height="16.4" fill="#0060ff"/>
<rect x="1369.4" y="2144.1" width="8" height="26.1" fill="#00c0ff"/>
<rect x="1369.4" y="2169.8" width="8" height="26.1" fill="#00f0e8"/>
<rect x="1369.4" y="2195.5" width="8" height="48.5" fill="#60f0a0"/>
<rect x="1369.4" y="2243.6" width="8" height="21.3" fill="#90f870"/>
<rect x="1377.5" y="2049.4" width="18.5" height="13.2" fill="#70f890"/>
<rect x="1377.5" y="2062.3" width="18.5" height="27.7" fill="#f0f800"/>
<rect x="1377.5" y="2089.6" width="18.5" height="11.6" fill="#50f0b0"/>
<rect x="1377.5" y="2100.8" width="18.5" height="6.8" fill="#0020d8"/>
<rect x="1377.5" y="2107.2" width="18.5" height="18.1" fill="#0000a8"/>
<rect x="1377.5" y="2124.9" width="18.5" height="29.3" fill="#0000d8"/>
<rect x="1377.5" y="2153.8" width="18.5" height="16.4" fill="#0060ff"/>
<rect x="1377.5" y="2169.8" width="18.5" height="22.9" fill="#00f0f0"/>
<rect x="1377.5" y="2192.3" width="18.5" height="22.9" fill="#90f870"/>
<rect x="1377.5" y="2214.7" width="18.5" height="50.2" fill="#d0f830"/>
<rect x="1414.1" y="2049.4" width="9.6" height="6.8" fill="#0050ff"/>
<rect x="1414.1" y="2055.9" width="9.6" height="11.6" fill="#00d0ff"/>
<rect x="1414.1" y="2067.1" width="9.6" height="24.5" fill="#90f870"/>
<rect x="1414.1" y="2091.2" width="9.6" height="24.5" fill="#e8f818"/>
<rect x="1414.1" y="2115.2" width="9.6" height="24.5" fill="#ffc000"/>
<rect x="1414.1" y="2139.3" width="9.6" height="24.5" fill="#ff9000"/>
<rect x="1414.1" y="2163.4" width="9.6" height="32.5" fill="#ff7000"/>
<rect x="1414.1" y="2195.5" width="9.6" height="19.7" fill="#ff4000"/>
<rect x="1414.1" y="2214.7" width="9.6" height="50.2" fill="#ff2000"/>
<rect x="1423.8" y="2049.4" width="18.3" height="10" fill="#ffe000"/>
<rect x="1423.8" y="2059.1" width="18.3" height="8.4" fill="#80f880"/>
<rect x="1423.8" y="2067.1" width="18.3" height="21.3" fill="#00f0f0"/>
<rect x="1423.8" y="2088" width="18.3" height="18.1" fill="#00c0ff"/>
<rect x="1423.8" y="2105.6" width="18.3" height="21.3" fill="#0080ff"/>
<rect x="1423.8" y="2126.5" width="18.3" height="13.2" fill="#0030ff"/>
<rect x="1423.8" y="2139.3" width="18.3" height="16.4" fill="#0000d0"/>
<rect x="1423.8" y="2155.4" width="18.3" height="19.7" fill="#00a0ff"/>
<rect x="1423.8" y="2174.6" width="18.3" height="19.7" fill="#50f0b0"/>
<rect x="1423.8" y="2193.9" width="18.3" height="21.3" fill="#a8f850"/>
<rect x="1423.8" y="2214.7" width="18.3" height="27.7" fill="#f8f800"/>
<rect x="1423.8" y="2242" width="18.3" height="22.9" fill="#ffe000"/>
<rect x="1460.2" y="2049.4" width="29.4" height="6.8" fill="#0040ff"/>
<rect x="1460.2" y="2055.9" width="29.4" height="6.8" fill="#00d0ff"/>
<rect x="1460.2" y="2062.3" width="29.4" height="14.8" fill="#60f0a0"/>
<rect x="1460.2" y="2076.7" width="29.4" height="11.6" fill="#b8f840"/>
<rect x="1460.2" y="2088" width="29.4" height="14.8" fill="#f0f010"/>
<rect x="1460.2" y="2102.4" width="29.4" height="13.2" fill="#ffd000"/>
<rect x="1460.2" y="2115.2" width="29.4" height="16.4" fill="#ffb000"/>
<rect x="1460.2" y="2131.3" width="29.4" height="22.9" fill="#ff9800"/>
<rect x="1460.2" y="2153.8" width="29.4" height="21.3" fill="#ff7000"/>
<rect x="1460.2" y="2174.6" width="29.4" height="19.7" fill="#ff5000"/>
<rect x="1460.2" y="2193.9" width="29.4" height="21.3" fill="#ff3000"/>
<rect x="1460.2" y="2214.7" width="29.4" height="27.7" fill="#ff1000"/>
<rect x="1460.2" y="2242" width="29.4" height="22.9" fill="#e80000"/>
<rect x="1510.4" y="2049.4" width="8.3" height="6.8" fill="#0050ff"/>
<rect x="1510.4" y="2055.9" width="8.3" height="6.8" fill="#00e0ff"/>
<rect x="1510.4" y="2062.3" width="8.3" height="21.3" fill="#60f0a0"/>
<rect x="1510.4" y="2083.1" width="8.3" height="16.4" fill="#d8f828"/>
<rect x="1510.4" y="2099.2" width="8.3" height="16.4" fill="#ffe000"/>
<rect x="1510.4" y="2115.2" width="8.3" height="13.2" fill="#ffb000"/>
<rect x="1510.4" y="2128.1" width="8.3" height="136.8" fill="#800000"/>
<rect x="1518.8" y="2049.4" width="18.9" height="32.5" fill="#00ffff"/>
<rect x="1518.8" y="2081.5" width="18.9" height="5.2" fill="#40f0c0"/>
<rect x="1518.8" y="2086.4" width="18.9" height="6" fill="#c8f838"/>
<rect x="1518.8" y="2092" width="18.9" height="7.6" fill="#ffa000"/>
<rect x="1518.8" y="2099.2" width="18.9" height="8.4" fill="#ff3000"/>
<rect x="1518.8" y="2107.2" width="18.9" height="10" fill="#ff0000"/>
<rect x="1518.8" y="2116.8" width="18.9" height="11.6" fill="#e00000"/>
<rect x="1518.8" y="2128.1" width="18.9" height="136.8" fill="#800000"/>
<rect x="1562.9" y="2050.2" width="3.2" height="9.2" fill="#0030ff"/>
<rect x="1562.9" y="2059.1" width="3.2" height="24.5" fill="#60f0a0"/>
<rect x="1562.9" y="2083.1" width="3.2" height="32.5" fill="#e8f818"/>
<rect x="1562.9" y="2115.2" width="3.2" height="16.4" fill="#ffd000"/>
<rect x="1562.9" y="2131.3" width="3.2" height="16.4" fill="#ff8000"/>
<rect x="1562.9" y="2147.3" width="3.2" height="16.4" fill="#ff2000"/>
<rect x="1562.9" y="2163.4" width="3.2" height="101.5" fill="#e00000"/>
<rect x="1566.1" y="2050.2" width="19.3" height="3.6" fill="#000090"/>
<rect x="1566.1" y="2053.5" width="19.3" height="2.8" fill="#ffe000"/>
<rect x="1566.1" y="2055.9" width="19.3" height="8.4" fill="#ff2000"/>
<rect x="1566.1" y="2063.9" width="19.3" height="201" fill="#800000"/>
<rect x="1614.3" y="2049.4" width="17.7" height="5.2" fill="#0030ff"/>
<rect x="1614.3" y="2054.3" width="17.7" height="6.8" fill="#00d0ff"/>
<rect x="1614.3" y="2060.7" width="17.7" height="11.6" fill="#80f880"/>
<rect x="1614.3" y="2071.9" width="17.7" height="11.6" fill="#f0f010"/>
<rect x="1614.3" y="2083.1" width="17.7" height="24.5" fill="#ffd000"/>
<rect x="1614.3" y="2107.2" width="17.7" height="24.5" fill="#ffb000"/>
<rect x="1614.3" y="2131.3" width="17.7" height="32.5" fill="#ff9800"/>
<rect x="1614.3" y="2163.4" width="17.7" height="32.5" fill="#ff8000"/>
<rect x="1614.3" y="2195.5" width="17.7" height="32.5" fill="#ff6000"/>
<rect x="1614.3" y="2227.6" width="17.7" height="37.3" fill="#ff4000"/>
<rect x="1656.7" y="2049.8" width="20.4" height="7.2" fill="#0020f0"/>
<rect x="1656.7" y="2056.6" width="20.4" height="8.4" fill="#60f0a0"/>
<rect x="1656.7" y="2064.6" width="20.4" height="21.4" fill="#ff0000"/>
<rect x="1656.7" y="2085.6" width="20.4" height="7.8" fill="#c00000"/>
<rect x="1656.7" y="2093" width="20.4" height="15.2" fill="#800000"/>
<rect x="1656.7" y="2107.8" width="20.4" height="14" fill="#c00000"/>
<rect x="1656.7" y="2121.4" width="20.4" height="6.6" fill="#ff5000"/>
<rect x="1656.7" y="2127.6" width="20.4" height="16.4" fill="#f8f800"/>
<rect x="1656.7" y="2143.6" width="20.4" height="16.4" fill="#a8f850"/>
<rect x="1656.7" y="2159.7" width="20.4" height="21.4" fill="#d8f828"/>
<rect x="1656.7" y="2180.7" width="20.4" height="12.7" fill="#ff9000"/>
<rect x="1656.7" y="2193" width="20.4" height="23.9" fill="#ff2000"/>
<rect x="1656.7" y="2216.5" width="20.4" height="23.9" fill="#e00000"/>
<rect x="1656.7" y="2239.9" width="20.4" height="26.3" fill="#c00000"/>
<rect x="1706" y="2049.8" width="17.9" height="17.7" fill="#00f0f0"/>
<rect x="1706" y="2067.1" width="17.9" height="4.1" fill="#00d0ff"/>
<rect x="1706" y="2070.8" width="17.9" height="4.1" fill="#60f0a0"/>
<rect x="1706" y="2074.5" width="17.9" height="6.6" fill="#ff3000"/>
<rect x="1706" y="2080.7" width="17.9" height="185.6" fill="#800000"/>
<rect x="1744.7" y="2049.8" width="8.6" height="21.4" fill="#00e0ff"/>
<rect x="1744.7" y="2070.8" width="8.6" height="4.7" fill="#60f0a0"/>
<rect x="1744.7" y="2075.1" width="8.6" height="7.2" fill="#ff3000"/>
<rect x="1744.7" y="2081.9" width="8.6" height="184.4" fill="#800000"/>
<rect x="1753.3" y="2049.8" width="18.1" height="5.3" fill="#0030ff"/>
<rect x="1753.3" y="2054.8" width="18.1" height="5.3" fill="#00e0ff"/>
<rect x="1753.3" y="2059.7" width="18.1" height="12.7" fill="#80f880"/>
<rect x="1753.3" y="2072" width="18.1" height="12.7" fill="#e0f820"/>
<rect x="1753.3" y="2084.4" width="18.1" height="10.3" fill="#ffe000"/>
<rect x="1753.3" y="2094.3" width="18.1" height="15.2" fill="#ffc000"/>
<rect x="1753.3" y="2109.1" width="18.1" height="18.9" fill="#ff9000"/>
<rect x="1753.3" y="2127.6" width="18.1" height="31.3" fill="#ff6000"/>
<rect x="1753.3" y="2158.5" width="18.1" height="37.4" fill="#ff4000"/>
<rect x="1753.3" y="2195.5" width="18.1" height="70.8" fill="#ff2000"/>
<rect x="1780.1" y="2049.8" width="9.9" height="10.3" fill="#80f880"/>
<rect x="1780.1" y="2059.7" width="9.9" height="12.7" fill="#00c0ff"/>
<rect x="1780.1" y="2072" width="9.9" height="12.7" fill="#20e8e0"/>
<rect x="1780.1" y="2084.4" width="9.9" height="12.7" fill="#80f880"/>
<rect x="1780.1" y="2096.7" width="9.9" height="18.9" fill="#f0f010"/>
<rect x="1780.1" y="2115.2" width="9.9" height="18.9" fill="#ffb000"/>
<rect x="1780.1" y="2133.8" width="9.9" height="25.1" fill="#ff7000"/>
<rect x="1780.1" y="2158.5" width="9.9" height="31.3" fill="#ff3000"/>
<rect x="1780.1" y="2189.3" width="9.9" height="43.6" fill="#ff0000"/>
<rect x="1780.1" y="2232.5" width="9.9" height="33.7" fill="#d00000"/>
<rect x="1790" y="2049.8" width="19.1" height="2.9" fill="#a0a0a0"/>
<rect x="1790" y="2052.3" width="19.1" height="5.3" fill="#3f9088"/>
<rect x="1790" y="2057.2" width="19.1" height="6.6" fill="#e0b8f0"/>
<rect x="1790" y="2063.4" width="19.1" height="62.1" fill="#3f9088"/>
<rect x="1790" y="2125.1" width="19.1" height="57.2" fill="#d9b8fa"/>
<rect x="1790" y="2181.9" width="19.1" height="23.9" fill="#8c1cb8"/>
<rect x="1790" y="2205.4" width="19.1" height="60.9" fill="#cc0000"/>
<rect x="1809.1" y="2049.8" width="12.3" height="5.3" fill="#0030ff"/>
<rect x="1809.1" y="2054.8" width="12.3" height="5.3" fill="#00e0ff"/>
<rect x="1809.1" y="2059.7" width="12.3" height="12.7" fill="#80f880"/>
<rect x="1809.1" y="2072" width="12.3" height="15.2" fill="#f8f000"/>
<rect x="1809.1" y="2086.9" width="12.3" height="16.4" fill="#ffc000"/>
<rect x="1809.1" y="2102.9" width="12.3" height="18.9" fill="#ff9000"/>
<rect x="1809.1" y="2121.4" width="12.3" height="25.1" fill="#ff6000"/>
<rect x="1809.1" y="2146.1" width="12.3" height="49.8" fill="#ff4000"/>
<rect x="1809.1" y="2195.5" width="12.3" height="70.8" fill="#ff2000"/>
<line x1="130" y1="2256.7" x2="1955.7" y2="2256.7" stroke="#555" stroke-opacity="0.75" stroke-width="2.2"/>
<line x1="1803.7" y1="2198.6" x2="1820.9" y2="2198.6" stroke="#6a1010" stroke-width="1.6"/>
<polyline points="1806.7,2195.1 1801.7,2198.6 1806.7,2202.1" fill="none" stroke="#6a1010" stroke-width="1.4"/>
<text x="1667" y="1972" font-family="'Liberation Sans', Arial, sans-serif" font-size="54.5" font-weight="bold" fill="#ff0000" text-anchor="start" textLength="234" lengthAdjust="spacingAndGlyphs">19GA42S</text>
<polygon points="1789.8,1977.5 1808.3,1977.5 1808.3,1996 1819.1,1996 1796,2043.5 1772.8,1996 1789.8,1996" fill="#ff0000"/>
<text x="1847.9" y="2041.5" font-family="'Liberation Serif', 'Times New Roman', serif" font-size="53.8" fill="#000" textLength="50" lengthAdjust="spacingAndGlyphs">(<tspan font-weight="bold">f</tspan>)</text>
<rect x="2019.2" y="2041.6" width="34.3" height="213.4" fill="url(#jetg)" stroke="#c8c8d8" stroke-width="1"/>
<text x="2054" y="2056.6" font-family="'Liberation Sans', Arial, sans-serif" font-size="36.5" font-weight="bold" fill="#000" text-anchor="start" textLength="34.7" lengthAdjust="spacingAndGlyphs">10</text>
<text x="2092.3" y="2046.3" font-family="'Liberation Sans', Arial, sans-serif" font-size="24" font-weight="bold" fill="#000" text-anchor="start" textLength="29.7" lengthAdjust="spacingAndGlyphs">3.5</text>
<text x="2054" y="2144" font-family="'Liberation Sans', Arial, sans-serif" font-size="36.5" font-weight="bold" fill="#000" text-anchor="start" textLength="34.7" lengthAdjust="spacingAndGlyphs">10</text>
<text x="2092.3" y="2133.7" font-family="'Liberation Sans', Arial, sans-serif" font-size="24" font-weight="bold" fill="#000" text-anchor="start" textLength="29.7" lengthAdjust="spacingAndGlyphs">2.5</text>
<text x="2054" y="2228.9" font-family="'Liberation Sans', Arial, sans-serif" font-size="36.5" font-weight="bold" fill="#000" text-anchor="start" textLength="34.7" lengthAdjust="spacingAndGlyphs">10</text>
<text x="2092.3" y="2218.6" font-family="'Liberation Sans', Arial, sans-serif" font-size="24" font-weight="bold" fill="#000" text-anchor="start" textLength="29.7" lengthAdjust="spacingAndGlyphs">1.5</text>
<text x="2054" y="2276" font-family="'Liberation Sans', Arial, sans-serif" font-size="36.5" font-weight="bold" fill="#000" text-anchor="start" textLength="34.7" lengthAdjust="spacingAndGlyphs">10</text>
<text x="1999.6" y="2020.5" font-family="'Liberation Serif', 'Times New Roman', serif" font-size="36" font-weight="bold" fill="#000" text-anchor="start" textLength="56.5" lengthAdjust="spacingAndGlyphs" font-style="italic">&#937;<tspan font-style="italic">m</tspan></text>
<line x1="130" y1="2432.7" x2="230" y2="2432.7" stroke="#eeeeee" stroke-width="2"/>
<line x1="130" y1="2494.3" x2="1951" y2="2494.3" stroke="#eeeeee" stroke-width="2"/>
<line x1="130" y1="2555.7" x2="1951" y2="2555.7" stroke="#eeeeee" stroke-width="2"/>
<line x1="385" y1="2438" x2="385" y2="2616" stroke="#eeeeee" stroke-width="1.5"/>
<line x1="640" y1="2438" x2="640" y2="2616" stroke="#eeeeee" stroke-width="1.5"/>
<line x1="896" y1="2438" x2="896" y2="2616" stroke="#eeeeee" stroke-width="1.5"/>
<line x1="1150" y1="2438" x2="1150" y2="2616" stroke="#eeeeee" stroke-width="1.5"/>
<line x1="1267" y1="2438" x2="1267" y2="2616" stroke="#eeeeee" stroke-width="1.5"/>
<line x1="1381" y1="2438" x2="1381" y2="2616" stroke="#eeeeee" stroke-width="1.5"/>
<line x1="1494" y1="2438" x2="1494" y2="2616" stroke="#eeeeee" stroke-width="1.5"/>
<line x1="1609" y1="2438" x2="1609" y2="2616" stroke="#eeeeee" stroke-width="1.5"/>
<line x1="1722.5" y1="2438" x2="1722.5" y2="2616" stroke="#eeeeee" stroke-width="1.5"/>
<line x1="1837" y1="2438" x2="1837" y2="2616" stroke="#eeeeee" stroke-width="1.5"/>
<line x1="1951" y1="2438" x2="1951" y2="2616" stroke="#eeeeee" stroke-width="1.5"/>
<line x1="130" y1="2403" x2="130" y2="2638" stroke="#6e6e6e" stroke-width="2"/>
<line x1="112" y1="2617" x2="1951" y2="2617" stroke="#6e6e6e" stroke-width="2.2"/>
<line x1="130" y1="2617" x2="130" y2="2638" stroke="#6e6e6e" stroke-width="2"/>
<line x1="244.3" y1="2617" x2="244.3" y2="2638" stroke="#6e6e6e" stroke-width="2"/>
<line x1="358.6" y1="2617" x2="358.6" y2="2638" stroke="#6e6e6e" stroke-width="2"/>
<line x1="472.9" y1="2617" x2="472.9" y2="2638" stroke="#6e6e6e" stroke-width="2"/>
<line x1="587.2" y1="2617" x2="587.2" y2="2638" stroke="#6e6e6e" stroke-width="2"/>
<line x1="701.5" y1="2617" x2="701.5" y2="2638" stroke="#6e6e6e" stroke-width="2"/>
<line x1="815.8" y1="2617" x2="815.8" y2="2638" stroke="#6e6e6e" stroke-width="2"/>
<line x1="930.1" y1="2617" x2="930.1" y2="2638" stroke="#6e6e6e" stroke-width="2"/>
<line x1="1184" y1="2617" x2="1184" y2="2638" stroke="#6e6e6e" stroke-width="2"/>
<line x1="1440.7" y1="2617" x2="1440.7" y2="2638" stroke="#6e6e6e" stroke-width="2"/>
<line x1="1696" y1="2617" x2="1696" y2="2638" stroke="#6e6e6e" stroke-width="2"/>
<line x1="1951" y1="2617" x2="1951" y2="2638" stroke="#6e6e6e" stroke-width="2"/>
<line x1="116" y1="2432.7" x2="130" y2="2432.7" stroke="#6e6e6e" stroke-width="2"/>
<line x1="116" y1="2494.3" x2="130" y2="2494.3" stroke="#6e6e6e" stroke-width="2"/>
<line x1="116" y1="2555.7" x2="130" y2="2555.7" stroke="#6e6e6e" stroke-width="2"/>
<text x="118" y="2443.4" font-family="'Liberation Sans', Arial, sans-serif" font-size="31.5" font-weight="bold" fill="#000" text-anchor="end" textLength="55" lengthAdjust="spacingAndGlyphs">600</text>
<text x="118" y="2505" font-family="'Liberation Sans', Arial, sans-serif" font-size="31.5" font-weight="bold" fill="#000" text-anchor="end" textLength="55" lengthAdjust="spacingAndGlyphs">400</text>
<text x="118" y="2566.4" font-family="'Liberation Sans', Arial, sans-serif" font-size="31.5" font-weight="bold" fill="#000" text-anchor="end" textLength="55" lengthAdjust="spacingAndGlyphs">200</text>
<text transform="translate(48.5 2601.7) rotate(-90)" font-family="'Liberation Sans', Arial, sans-serif" font-size="35" font-weight="bold" textLength="191" lengthAdjust="spacingAndGlyphs">H<tspan font-size="24" dy="7">s</tspan><tspan dy="-7">/H</tspan><tspan font-size="24" dy="7">p</tspan><tspan dy="-7"> [ppm]</tspan></text>
<text x="473.3" y="2439.1" font-family="'Liberation Sans', Arial, sans-serif" font-size="55.5" font-weight="bold" fill="#000" text-anchor="start" textLength="1155.7" lengthAdjust="spacingAndGlyphs">EMI Model-constrained inversion: data fitting</text>
<g fill="#eba21c"><circle cx="266" cy="2566" r="4.1"/><circle cx="311.8" cy="2566" r="4.1"/><circle cx="353.7" cy="2566" r="4.1"/><circle cx="400.3" cy="2562.7" r="4.1"/><circle cx="447.3" cy="2562.7" r="4.1"/><circle cx="499.1" cy="2562.7" r="4.1"/><circle cx="544.5" cy="2562.6" r="4.1"/><circle cx="580.7" cy="2559.6" r="4.1"/><circle cx="625.3" cy="2559.6" r="4.1"/><circle cx="669.3" cy="2559.6" r="4.1"/><circle cx="935" cy="2557.8" r="3.3"/><circle cx="940.7" cy="2564" r="3.3"/><circle cx="977.8" cy="2559.6" r="3.3"/><circle cx="996" cy="2566" r="3.3"/><circle cx="1017" cy="2560.7" r="3.3"/><circle cx="1041.5" cy="2567.8" r="3.3"/><circle cx="1063" cy="2560.7" r="3.3"/><circle cx="1096" cy="2569.6" r="3.3"/><circle cx="1105" cy="2563.3" r="3.3"/><circle cx="1146" cy="2571.9" r="3.3"/><circle cx="1150" cy="2565.2" r="3.3"/><circle cx="1195" cy="2565.2" r="3.3"/><circle cx="1200" cy="2573.3" r="3.3"/><circle cx="1237" cy="2567" r="3.3"/><circle cx="1237" cy="2575.2" r="3.3"/><circle cx="1286" cy="2572" r="3.3"/><circle cx="1286" cy="2575" r="3.3"/><circle cx="1328" cy="2575" r="3.3"/><circle cx="1328" cy="2577" r="3.3"/><circle cx="1374" cy="2573.3" r="3.3"/><circle cx="1383" cy="2578.9" r="3.3"/><circle cx="1419.6" cy="2575.2" r="3.3"/><circle cx="1428.5" cy="2580" r="3.3"/><circle cx="1464.8" cy="2577" r="3.3"/><circle cx="1476" cy="2581" r="3.3"/><circle cx="1514.8" cy="2578.9" r="3.3"/><circle cx="1523" cy="2581" r="3.3"/><circle cx="1568" cy="2580" r="3.3"/><circle cx="1571" cy="2582" r="3.3"/><circle cx="1618" cy="2583.5" r="3.3"/><circle cx="1658" cy="2583.5" r="3.3"/><circle cx="1665" cy="2583.5" r="3.3"/><circle cx="1710" cy="2584.6" r="3.3"/><circle cx="1749" cy="2584.6" r="3.3"/><circle cx="1758" cy="2584.6" r="3.3"/><circle cx="1783.6" cy="2585" r="3.3"/><circle cx="1794" cy="2585" r="3.3"/><circle cx="1806.4" cy="2585" r="3.3"/></g>
<g fill="#00ffff"><circle cx="266" cy="2531.7" r="4.1"/><circle cx="311.8" cy="2531.7" r="4.1"/><circle cx="353.7" cy="2531.7" r="4.1"/><circle cx="400.3" cy="2526.7" r="4.1"/><circle cx="447.3" cy="2526.7" r="4.1"/><circle cx="499.1" cy="2526.7" r="4.1"/><circle cx="544.5" cy="2526.3" r="4.1"/><circle cx="580.7" cy="2520.7" r="4.1"/><circle cx="625.3" cy="2520.7" r="4.1"/><circle cx="669.3" cy="2520.7" r="4.1"/><circle cx="935" cy="2516.3" r="3.3"/><circle cx="940.7" cy="2521.5" r="3.3"/><circle cx="977.8" cy="2520" r="3.3"/><circle cx="996" cy="2523.3" r="3.3"/><circle cx="1017" cy="2518.9" r="3.3"/><circle cx="1041.5" cy="2526.3" r="3.3"/><circle cx="1063" cy="2518.9" r="3.3"/><circle cx="1096" cy="2528" r="3.3"/><circle cx="1105" cy="2520.7" r="3.3"/><circle cx="1146" cy="2531" r="3.3"/><circle cx="1150" cy="2520.7" r="3.3"/><circle cx="1195" cy="2522.6" r="3.3"/><circle cx="1200" cy="2533" r="3.3"/><circle cx="1237" cy="2524.4" r="3.3"/><circle cx="1237" cy="2535.6" r="3.3"/><circle cx="1286" cy="2527" r="3.3"/><circle cx="1286" cy="2537.8" r="3.3"/><circle cx="1328" cy="2528" r="3.3"/><circle cx="1328" cy="2539.6" r="3.3"/><circle cx="1374" cy="2531.9" r="3.3"/><circle cx="1383" cy="2541" r="3.3"/><circle cx="1419.6" cy="2534.4" r="3.3"/><circle cx="1428.5" cy="2543.7" r="3.3"/><circle cx="1464.8" cy="2537" r="3.3"/><circle cx="1476" cy="2545.2" r="3.3"/><circle cx="1514.8" cy="2540.4" r="3.3"/><circle cx="1523" cy="2546.7" r="3.3"/><circle cx="1568" cy="2542" r="3.3"/><circle cx="1571" cy="2547" r="3.3"/><circle cx="1618" cy="2549.2" r="3.3"/><circle cx="1658" cy="2549" r="3.3"/><circle cx="1665" cy="2549" r="3.3"/><circle cx="1710" cy="2552" r="3.3"/><circle cx="1749" cy="2551" r="3.3"/><circle cx="1758" cy="2551" r="3.3"/><circle cx="1783.6" cy="2552" r="3.3"/><circle cx="1794" cy="2552" r="3.3"/><circle cx="1806.4" cy="2552" r="3.3"/></g>
<g fill="#0a7d0a"><circle cx="266" cy="2502.7" r="4.1"/><circle cx="311.8" cy="2503.3" r="4.1"/><circle cx="353.7" cy="2503" r="4.1"/><circle cx="400.3" cy="2496.7" r="4.1"/><circle cx="447.3" cy="2497" r="4.1"/><circle cx="499.1" cy="2497" r="4.1"/><circle cx="544.5" cy="2496.7" r="4.1"/><circle cx="580.7" cy="2488.5" r="4.1"/><circle cx="625.3" cy="2488.5" r="4.1"/><circle cx="669.3" cy="2488.5" r="4.1"/><circle cx="935" cy="2483.7" r="3.3"/><circle cx="940.7" cy="2483.7" r="3.3"/><circle cx="977.8" cy="2488.5" r="3.3"/><circle cx="996" cy="2486.3" r="3.3"/><circle cx="1017" cy="2484.4" r="3.3"/><circle cx="1041.5" cy="2488.5" r="3.3"/><circle cx="1063" cy="2484.4" r="3.3"/><circle cx="1096" cy="2490.4" r="3.3"/><circle cx="1105" cy="2484.4" r="3.3"/><circle cx="1146" cy="2493" r="3.3"/><circle cx="1150" cy="2481.9" r="3.3"/><circle cx="1195" cy="2484.8" r="3.3"/><circle cx="1200" cy="2496" r="3.3"/><circle cx="1237" cy="2484.8" r="3.3"/><circle cx="1237" cy="2498.5" r="3.3"/><circle cx="1286" cy="2486.3" r="3.3"/><circle cx="1286" cy="2500.4" r="3.3"/><circle cx="1328" cy="2487.4" r="3.3"/><circle cx="1328" cy="2502.2" r="3.3"/><circle cx="1374" cy="2490" r="3.3"/><circle cx="1383" cy="2504.8" r="3.3"/><circle cx="1419.6" cy="2493" r="3.3"/><circle cx="1428.5" cy="2507.4" r="3.3"/><circle cx="1464.8" cy="2497" r="3.3"/><circle cx="1476" cy="2509.6" r="3.3"/><circle cx="1514.8" cy="2501" r="3.3"/><circle cx="1523" cy="2511" r="3.3"/><circle cx="1568" cy="2503" r="3.3"/><circle cx="1571" cy="2513" r="3.3"/><circle cx="1618" cy="2515.7" r="3.3"/><circle cx="1658" cy="2510" r="3.3"/><circle cx="1665" cy="2518" r="3.3"/><circle cx="1710" cy="2518.9" r="3.3"/><circle cx="1749" cy="2518.9" r="3.3"/><circle cx="1758" cy="2519" r="3.3"/><circle cx="1783.6" cy="2520" r="3.3"/><circle cx="1794" cy="2520" r="3.3"/><circle cx="1806.4" cy="2520" r="3.3"/></g>
<g fill="#ff0000"><rect x="264.4" y="2558.4" width="3.2" height="3.2"/><rect x="310.2" y="2557.4" width="3.2" height="3.2"/><rect x="352.1" y="2556.4" width="3.2" height="3.2"/><rect x="398.7" y="2555.1" width="3.2" height="3.2"/><rect x="445.7" y="2553.4" width="3.2" height="3.2"/><rect x="497.5" y="2551.4" width="3.2" height="3.2"/><rect x="542.9" y="2549.9" width="3.2" height="3.2"/><rect x="579.1" y="2548" width="3.2" height="3.2"/><rect x="623.7" y="2546.9" width="3.2" height="3.2"/><rect x="667.7" y="2546.2" width="3.2" height="3.2"/></g>
<g fill="#40e040"><circle cx="266" cy="2507.7" r="2"/><circle cx="311.8" cy="2508.3" r="2"/><circle cx="353.7" cy="2508" r="2"/><circle cx="400.3" cy="2501.7" r="2"/></g>
<text x="1846.6" y="2419.9" font-family="'Liberation Serif', 'Times New Roman', serif" font-size="55" fill="#000" textLength="60.2" lengthAdjust="spacingAndGlyphs">(<tspan font-weight="bold">g</tspan>)</text>
<rect x="1835.5" y="2465.7" width="283" height="130.5" fill="#fff" stroke="#222" stroke-width="2.5"/>
<line x1="1847.5" y1="2490.5" x2="1979.5" y2="2490.5" stroke="#ff3030" stroke-width="2.2"/>
<text x="1991" y="2502.5" font-family="'Liberation Sans', Arial, sans-serif" font-size="34" font-weight="normal" fill="#222" text-anchor="start" textLength="101.6" lengthAdjust="spacingAndGlyphs">5 KHz</text>
<line x1="1847.5" y1="2532.6" x2="1979.5" y2="2532.6" stroke="#4040ff" stroke-width="2.2"/>
<text x="1991" y="2544.6" font-family="'Liberation Sans', Arial, sans-serif" font-size="34" font-weight="normal" fill="#222" text-anchor="start" textLength="120.5" lengthAdjust="spacingAndGlyphs">10 KHz</text>
<line x1="1847.5" y1="2574.7" x2="1979.5" y2="2574.7" stroke="#30e030" stroke-width="2.2"/>
<text x="1991" y="2586.7" font-family="'Liberation Sans', Arial, sans-serif" font-size="34" font-weight="normal" fill="#222" text-anchor="start" textLength="120.5" lengthAdjust="spacingAndGlyphs">15 KHz</text>
<line x1="130" y1="2771.7" x2="1951" y2="2771.7" stroke="#eeeeee" stroke-width="2.5"/>
<line x1="130" y1="2848.8" x2="1951" y2="2848.8" stroke="#eeeeee" stroke-width="2.5"/>
<line x1="130" y1="2925.8" x2="1951" y2="2925.8" stroke="#eeeeee" stroke-width="2.5"/>
<line x1="385" y1="2758.8" x2="385" y2="2970.7" stroke="#eeeeee" stroke-width="1.5"/>
<line x1="640" y1="2758.8" x2="640" y2="2970.7" stroke="#eeeeee" stroke-width="1.5"/>
<line x1="896" y1="2758.8" x2="896" y2="2970.7" stroke="#eeeeee" stroke-width="1.5"/>
<line x1="1150" y1="2758.8" x2="1150" y2="2970.7" stroke="#eeeeee" stroke-width="1.5"/>
<line x1="1267" y1="2758.8" x2="1267" y2="2970.7" stroke="#eeeeee" stroke-width="1.5"/>
<line x1="1381" y1="2758.8" x2="1381" y2="2970.7" stroke="#eeeeee" stroke-width="1.5"/>
<line x1="1494" y1="2758.8" x2="1494" y2="2970.7" stroke="#eeeeee" stroke-width="1.5"/>
<line x1="1609" y1="2758.8" x2="1609" y2="2970.7" stroke="#eeeeee" stroke-width="1.5"/>
<line x1="1722.5" y1="2758.8" x2="1722.5" y2="2970.7" stroke="#eeeeee" stroke-width="1.5"/>
<line x1="1837" y1="2758.8" x2="1837" y2="2970.7" stroke="#eeeeee" stroke-width="1.5"/>
<line x1="1951" y1="2758.8" x2="1951" y2="2970.7" stroke="#eeeeee" stroke-width="1.5"/>
<line x1="130" y1="2755.8" x2="130" y2="2998.5" stroke="#6e6e6e" stroke-width="2"/>
<line x1="1951" y1="2756.8" x2="1951" y2="2997.5" stroke="#bbbbbb" stroke-width="2"/>
<line x1="130" y1="2971.7" x2="130" y2="2997.5" stroke="#6e6e6e" stroke-width="2"/>
<line x1="244.3" y1="2971.7" x2="244.3" y2="2997.5" stroke="#6e6e6e" stroke-width="2"/>
<line x1="358.6" y1="2971.7" x2="358.6" y2="2997.5" stroke="#6e6e6e" stroke-width="2"/>
<line x1="472.9" y1="2971.7" x2="472.9" y2="2997.5" stroke="#6e6e6e" stroke-width="2"/>
<line x1="587.2" y1="2971.7" x2="587.2" y2="2997.5" stroke="#6e6e6e" stroke-width="2"/>
<line x1="701.5" y1="2971.7" x2="701.5" y2="2997.5" stroke="#6e6e6e" stroke-width="2"/>
<line x1="815.8" y1="2971.7" x2="815.8" y2="2997.5" stroke="#6e6e6e" stroke-width="2"/>
<line x1="930.1" y1="2971.7" x2="930.1" y2="2997.5" stroke="#6e6e6e" stroke-width="2"/>
<line x1="1184" y1="2971.7" x2="1184" y2="2997.5" stroke="#6e6e6e" stroke-width="2"/>
<line x1="1440.7" y1="2971.7" x2="1440.7" y2="2997.5" stroke="#6e6e6e" stroke-width="2"/>
<line x1="1696" y1="2971.7" x2="1696" y2="2997.5" stroke="#6e6e6e" stroke-width="2"/>
<line x1="1951" y1="2971.7" x2="1951" y2="2997.5" stroke="#6e6e6e" stroke-width="2"/>
<line x1="109.7" y1="2771.7" x2="130" y2="2771.7" stroke="#999" stroke-width="2.5"/>
<text x="107.7" y="2785.7" font-family="'Liberation Sans', Arial, sans-serif" font-size="37" font-weight="bold" fill="#000" text-anchor="end" textLength="36.5" lengthAdjust="spacingAndGlyphs">75</text>
<line x1="109.7" y1="2848.8" x2="130" y2="2848.8" stroke="#999" stroke-width="2.5"/>
<text x="107.7" y="2862.8" font-family="'Liberation Sans', Arial, sans-serif" font-size="37" font-weight="bold" fill="#000" text-anchor="end" textLength="36.5" lengthAdjust="spacingAndGlyphs">70</text>
<line x1="109.7" y1="2925.8" x2="130" y2="2925.8" stroke="#999" stroke-width="2.5"/>
<text x="107.7" y="2939.8" font-family="'Liberation Sans', Arial, sans-serif" font-size="37" font-weight="bold" fill="#000" text-anchor="end" textLength="36.5" lengthAdjust="spacingAndGlyphs">65</text>
<text transform="translate(56.7 2972.4) rotate(-90)" font-family="'Liberation Sans', Arial, sans-serif" font-size="37" font-weight="bold" textLength="216.9" lengthAdjust="spacingAndGlyphs">Elevation [m]</text>
<text x="384" y="2747.9" font-family="'Liberation Sans', Arial, sans-serif" font-size="55.5" font-weight="bold" fill="#000" text-anchor="start" textLength="1305.8" lengthAdjust="spacingAndGlyphs">EMI Model-constrained inversion: resistivity model</text>
<rect x="256.9" y="2764.3" width="19.3" height="18" fill="#70f0a0"/>
<rect x="256.9" y="2781.9" width="19.3" height="76.5" fill="#80f880"/>
<rect x="256.9" y="2858" width="19.3" height="12.3" fill="#00ffff"/>
<rect x="256.9" y="2869.9" width="19.3" height="111.1" fill="#00008a"/>
<rect x="302.3" y="2764.3" width="19.8" height="15.2" fill="#70f0a0"/>
<rect x="302.3" y="2779.1" width="19.8" height="77.1" fill="#80f880"/>
<rect x="302.3" y="2855.7" width="19.8" height="13.7" fill="#00ffff"/>
<rect x="302.3" y="2869.1" width="19.8" height="112" fill="#00008a"/>
<rect x="344.2" y="2764.3" width="19.3" height="16.6" fill="#70f0a0"/>
<rect x="344.2" y="2780.5" width="19.3" height="72.8" fill="#80f880"/>
<rect x="344.2" y="2852.9" width="19.3" height="21.7" fill="#00ffff"/>
<rect x="344.2" y="2874.2" width="19.3" height="106.9" fill="#00008a"/>
<rect x="391.5" y="2764.3" width="18.7" height="3.8" fill="#ffa000"/>
<rect x="391.5" y="2767.7" width="18.7" height="7.5" fill="#ffe000"/>
<rect x="391.5" y="2774.8" width="18.7" height="27.4" fill="#80f880"/>
<rect x="391.5" y="2801.8" width="18.7" height="20.3" fill="#50f0b0"/>
<rect x="391.5" y="2821.7" width="18.7" height="8.9" fill="#20e8e8"/>
<rect x="391.5" y="2830.2" width="18.7" height="14" fill="#00d0ff"/>
<rect x="391.5" y="2843.8" width="18.7" height="13.7" fill="#0070ff"/>
<rect x="391.5" y="2857.2" width="18.7" height="11.8" fill="#0010f0"/>
<rect x="391.5" y="2868.5" width="18.7" height="112.6" fill="#00008a"/>
<rect x="438.5" y="2764.3" width="19" height="9.5" fill="#20e8e8"/>
<rect x="438.5" y="2773.4" width="19" height="17.4" fill="#d0f830"/>
<rect x="438.5" y="2790.4" width="19" height="16" fill="#a8f850"/>
<rect x="438.5" y="2806.1" width="19" height="13.2" fill="#c8f838"/>
<rect x="438.5" y="2818.8" width="19" height="11.8" fill="#70f890"/>
<rect x="438.5" y="2830.2" width="19" height="10.3" fill="#20e8e8"/>
<rect x="438.5" y="2840.1" width="19" height="16" fill="#00c0ff"/>
<rect x="438.5" y="2855.7" width="19" height="13.2" fill="#0020ff"/>
<rect x="438.5" y="2868.5" width="19" height="112.6" fill="#00008a"/>
<rect x="489.2" y="2763.5" width="18.7" height="38.7" fill="#90f870"/>
<rect x="489.2" y="2801.8" width="18.7" height="13.2" fill="#40f0c0"/>
<rect x="489.2" y="2814.6" width="18.7" height="16" fill="#a0f858"/>
<rect x="489.2" y="2830.2" width="18.7" height="10.3" fill="#60f0a0"/>
<rect x="489.2" y="2840.1" width="18.7" height="14" fill="#00c0ff"/>
<rect x="489.2" y="2853.8" width="18.7" height="127.3" fill="#00008a"/>
<rect x="535.9" y="2764.3" width="17.8" height="3.8" fill="#20e8e8"/>
<rect x="535.9" y="2767.7" width="17.8" height="20.3" fill="#d8f828"/>
<rect x="535.9" y="2787.6" width="17.8" height="43" fill="#a8f850"/>
<rect x="535.9" y="2830.2" width="17.8" height="11.8" fill="#20e8e8"/>
<rect x="535.9" y="2841.5" width="17.8" height="11.2" fill="#00c0ff"/>
<rect x="535.9" y="2852.3" width="17.8" height="15.7" fill="#0020ff"/>
<rect x="535.9" y="2867.7" width="17.8" height="113.4" fill="#00008a"/>
<rect x="571.3" y="2763.5" width="18.4" height="35.9" fill="#90f870"/>
<rect x="571.3" y="2799" width="18.4" height="43" fill="#60f0a0"/>
<rect x="571.3" y="2841.5" width="18.4" height="10.9" fill="#00c0ff"/>
<rect x="571.3" y="2852.1" width="18.4" height="129" fill="#00008a"/>
<rect x="616.1" y="2763.5" width="19" height="34.5" fill="#90f870"/>
<rect x="616.1" y="2797.5" width="19" height="18.9" fill="#40f0c0"/>
<rect x="616.1" y="2816" width="19" height="26" fill="#90f870"/>
<rect x="616.1" y="2841.5" width="19" height="11.2" fill="#00c0ff"/>
<rect x="616.1" y="2852.3" width="19" height="128.7" fill="#00008a"/>
<rect x="660" y="2763.5" width="19" height="34.5" fill="#90f870"/>
<rect x="660" y="2797.5" width="19" height="16" fill="#40f0c0"/>
<rect x="660" y="2813.1" width="19" height="17.4" fill="#90f870"/>
<rect x="660" y="2830.2" width="19" height="15.2" fill="#60f0a0"/>
<rect x="660" y="2845" width="19" height="11.2" fill="#00c0ff"/>
<rect x="660" y="2855.7" width="19" height="125.3" fill="#00008a"/>
<rect x="925.2" y="2764.1" width="6.7" height="34.4" fill="#e8f818"/>
<rect x="925.2" y="2798.1" width="6.7" height="22.9" fill="#40f0c0"/>
<rect x="925.2" y="2820.6" width="6.7" height="12.4" fill="#00e0ff"/>
<rect x="925.2" y="2832.7" width="6.7" height="12.4" fill="#0060ff"/>
<rect x="925.2" y="2844.7" width="6.7" height="10.8" fill="#0000f0"/>
<rect x="925.2" y="2855.1" width="6.7" height="124.8" fill="#00008a"/>
<rect x="932" y="2764.1" width="18.9" height="8.7" fill="#40f0c0"/>
<rect x="932" y="2772.5" width="18.9" height="18.1" fill="#20e0e0"/>
<rect x="932" y="2790.1" width="18.9" height="54.2" fill="#80f880"/>
<rect x="932" y="2843.9" width="18.9" height="44.5" fill="#00ffff"/>
<rect x="932" y="2888" width="18.9" height="21.3" fill="#0060ff"/>
<rect x="932" y="2908.9" width="18.9" height="71" fill="#00008a"/>
<rect x="969.3" y="2764.1" width="17.6" height="28" fill="#80f880"/>
<rect x="969.3" y="2791.7" width="17.6" height="38.9" fill="#50f0b0"/>
<rect x="969.3" y="2830.2" width="17.6" height="14.8" fill="#00d0ff"/>
<rect x="969.3" y="2844.7" width="17.6" height="9.2" fill="#0060ff"/>
<rect x="969.3" y="2853.5" width="17.6" height="16.4" fill="#0000f0"/>
<rect x="969.3" y="2869.6" width="17.6" height="110.3" fill="#00008a"/>
<rect x="987.2" y="2764.1" width="17.6" height="21.6" fill="#80f880"/>
<rect x="987.2" y="2785.3" width="17.6" height="14.8" fill="#40f0c0"/>
<rect x="987.2" y="2799.8" width="17.6" height="8.4" fill="#80f880"/>
<rect x="987.2" y="2807.8" width="17.6" height="13.2" fill="#b0f850"/>
<rect x="987.2" y="2820.6" width="17.6" height="10" fill="#20e8e0"/>
<rect x="987.2" y="2830.2" width="17.6" height="11.6" fill="#0000f0"/>
<rect x="987.2" y="2841.5" width="17.6" height="67.8" fill="#0000c0"/>
<rect x="987.2" y="2908.9" width="17.6" height="71" fill="#00008a"/>
<rect x="1008.8" y="2764.1" width="18.1" height="2.3" fill="#20e0f0"/>
<rect x="1008.8" y="2766" width="18.1" height="40.5" fill="#60f0a0"/>
<rect x="1008.8" y="2806.2" width="18.1" height="19.7" fill="#90f870"/>
<rect x="1008.8" y="2825.4" width="18.1" height="17.3" fill="#60f0a0"/>
<rect x="1008.8" y="2842.3" width="18.1" height="14" fill="#00ffff"/>
<rect x="1008.8" y="2855.9" width="18.1" height="13.2" fill="#0060ff"/>
<rect x="1008.8" y="2868.8" width="18.1" height="111.1" fill="#00008a"/>
<rect x="1032.8" y="2765.2" width="17.6" height="67" fill="#40f0c0"/>
<rect x="1032.8" y="2831.8" width="17.6" height="11.6" fill="#20e0e0"/>
<rect x="1032.8" y="2843.1" width="17.6" height="13.2" fill="#00d0ff"/>
<rect x="1032.8" y="2855.9" width="17.6" height="14" fill="#0060ff"/>
<rect x="1032.8" y="2869.6" width="17.6" height="17.3" fill="#0010f0"/>
<rect x="1032.8" y="2886.4" width="17.6" height="46.9" fill="#0000c0"/>
<rect x="1032.8" y="2933" width="17.6" height="46.9" fill="#00008a"/>
<rect x="1054.9" y="2764.1" width="17.6" height="7.1" fill="#20e8e8"/>
<rect x="1054.9" y="2770.9" width="17.6" height="59.8" fill="#80f880"/>
<rect x="1054.9" y="2830.2" width="17.6" height="11.6" fill="#20e8e0"/>
<rect x="1054.9" y="2841.5" width="17.6" height="14.8" fill="#0000f0"/>
<rect x="1054.9" y="2855.9" width="17.6" height="124" fill="#00008a"/>
<rect x="1087.7" y="2764.4" width="18.9" height="19.7" fill="#e00000"/>
<rect x="1087.7" y="2783.7" width="18.9" height="10.8" fill="#ff5000"/>
<rect x="1087.7" y="2794.1" width="18.9" height="7.6" fill="#ffe000"/>
<rect x="1087.7" y="2801.4" width="18.9" height="12.4" fill="#90f870"/>
<rect x="1087.7" y="2813.4" width="18.9" height="144" fill="#0000e8"/>
<rect x="1087.7" y="2957" width="18.9" height="22.9" fill="#0018ff"/>
<rect x="1106.6" y="2764.4" width="7.5" height="5.2" fill="#ffb000"/>
<rect x="1106.6" y="2769.3" width="7.5" height="36.5" fill="#ff8000"/>
<rect x="1106.6" y="2805.4" width="7.5" height="9.2" fill="#ffd000"/>
<rect x="1106.6" y="2814.2" width="7.5" height="7.6" fill="#90f870"/>
<rect x="1106.6" y="2821.4" width="7.5" height="12.4" fill="#0030ff"/>
<rect x="1106.6" y="2833.5" width="7.5" height="146.4" fill="#00008a"/>
<rect x="1136.9" y="2765.2" width="23.4" height="17.3" fill="#90f870"/>
<rect x="1136.9" y="2782.1" width="23.4" height="35.7" fill="#60f0a0"/>
<rect x="1136.9" y="2817.4" width="23.4" height="15.6" fill="#40f0c0"/>
<rect x="1136.9" y="2832.7" width="23.4" height="10.8" fill="#00b0ff"/>
<rect x="1136.9" y="2843.1" width="23.4" height="13.2" fill="#0000c8"/>
<rect x="1136.9" y="2855.9" width="23.4" height="75.8" fill="#00008a"/>
<rect x="1136.9" y="2931.4" width="23.4" height="25.3" fill="#0000b0"/>
<rect x="1136.9" y="2956.2" width="23.4" height="23.7" fill="#0010f0"/>
<rect x="1186.6" y="2764.4" width="4" height="10" fill="#ff8000"/>
<rect x="1186.6" y="2774.1" width="4" height="6.8" fill="#ffe000"/>
<rect x="1186.6" y="2780.5" width="4" height="6.8" fill="#40f0c0"/>
<rect x="1186.6" y="2786.9" width="4" height="19.7" fill="#00e0ff"/>
<rect x="1186.6" y="2806.2" width="4" height="19.7" fill="#0050ff"/>
<rect x="1186.6" y="2825.4" width="4" height="21.3" fill="#0000c0"/>
<rect x="1186.6" y="2846.3" width="4" height="110.3" fill="#00008a"/>
<rect x="1186.6" y="2956.2" width="4" height="23.7" fill="#0020ff"/>
<rect x="1190.6" y="2764.4" width="19.2" height="10" fill="#ffe000"/>
<rect x="1190.6" y="2774.1" width="19.2" height="13.2" fill="#90f870"/>
<rect x="1190.6" y="2786.9" width="19.2" height="5.2" fill="#30e8d8"/>
<rect x="1190.6" y="2791.7" width="19.2" height="15.6" fill="#00e8ff"/>
<rect x="1190.6" y="2807" width="19.2" height="6.8" fill="#90f870"/>
<rect x="1190.6" y="2813.4" width="19.2" height="22.9" fill="#d8f828"/>
<rect x="1190.6" y="2835.9" width="19.2" height="10.8" fill="#50f0b0"/>
<rect x="1190.6" y="2846.3" width="19.2" height="40.5" fill="#00008a"/>
<rect x="1190.6" y="2886.4" width="19.2" height="25.3" fill="#00b0ff"/>
<rect x="1190.6" y="2911.3" width="19.2" height="22.1" fill="#70f890"/>
<rect x="1190.6" y="2933" width="19.2" height="25.3" fill="#d8f828"/>
<rect x="1190.6" y="2957.8" width="19.2" height="22.1" fill="#ffc800"/>
<rect x="1228.2" y="2764.4" width="19.2" height="6.8" fill="#50f0b0"/>
<rect x="1228.2" y="2770.9" width="19.2" height="27.7" fill="#80f880"/>
<rect x="1228.2" y="2798.1" width="19.2" height="10" fill="#60f0a0"/>
<rect x="1228.2" y="2807.8" width="19.2" height="14.8" fill="#00ffff"/>
<rect x="1228.2" y="2822.2" width="19.2" height="20.5" fill="#40f0c0"/>
<rect x="1228.2" y="2842.3" width="19.2" height="13.2" fill="#00a0ff"/>
<rect x="1228.2" y="2855.1" width="19.2" height="33.3" fill="#00008a"/>
<rect x="1228.2" y="2888" width="19.2" height="19.7" fill="#0000a8"/>
<rect x="1228.2" y="2907.3" width="19.2" height="22.9" fill="#0000c8"/>
<rect x="1228.2" y="2929.7" width="19.2" height="27.7" fill="#0000f8"/>
<rect x="1228.2" y="2957" width="19.2" height="22.9" fill="#50f0b0"/>
<rect x="1276.7" y="2764.4" width="19.2" height="40.5" fill="#a0f858"/>
<rect x="1276.7" y="2804.6" width="19.2" height="10" fill="#40f0c0"/>
<rect x="1276.7" y="2814.2" width="19.2" height="10" fill="#00c0ff"/>
<rect x="1276.7" y="2823.8" width="19.2" height="8.4" fill="#0050ff"/>
<rect x="1276.7" y="2831.8" width="19.2" height="37.3" fill="#0000e8"/>
<rect x="1276.7" y="2868.8" width="19.2" height="19.7" fill="#0000a0"/>
<rect x="1276.7" y="2888" width="19.2" height="18.1" fill="#00008a"/>
<rect x="1276.7" y="2905.7" width="19.2" height="24.5" fill="#0020f0"/>
<rect x="1276.7" y="2929.7" width="19.2" height="26.1" fill="#00a8ff"/>
<rect x="1276.7" y="2955.4" width="19.2" height="24.5" fill="#60f0a0"/>
<rect x="1318.7" y="2764.4" width="19.2" height="8.4" fill="#50f0b0"/>
<rect x="1318.7" y="2772.5" width="19.2" height="11.6" fill="#a0f858"/>
<rect x="1318.7" y="2783.7" width="19.2" height="14.8" fill="#50f0b0"/>
<rect x="1318.7" y="2798.1" width="19.2" height="16.4" fill="#a0f858"/>
<rect x="1318.7" y="2814.2" width="19.2" height="8.4" fill="#00ffff"/>
<rect x="1318.7" y="2822.2" width="19.2" height="24.5" fill="#0070ff"/>
<rect x="1318.7" y="2846.3" width="19.2" height="8.4" fill="#0020e0"/>
<rect x="1318.7" y="2854.3" width="19.2" height="34.1" fill="#00008a"/>
<rect x="1318.7" y="2888" width="19.2" height="19.7" fill="#0000f0"/>
<rect x="1318.7" y="2907.3" width="19.2" height="22.9" fill="#0070ff"/>
<rect x="1318.7" y="2929.7" width="19.2" height="27.7" fill="#90f870"/>
<rect x="1318.7" y="2957" width="19.2" height="22.9" fill="#c8f838"/>
<rect x="1365.9" y="2764.4" width="8" height="8.4" fill="#50f0b0"/>
<rect x="1365.9" y="2772.5" width="8" height="42.1" fill="#00e8f0"/>
<rect x="1365.9" y="2814.2" width="8" height="29.3" fill="#0030f0"/>
<rect x="1365.9" y="2843.1" width="8" height="16.4" fill="#0060ff"/>
<rect x="1365.9" y="2859.1" width="8" height="26.1" fill="#00c0ff"/>
<rect x="1365.9" y="2884.8" width="8" height="26.1" fill="#00f0e8"/>
<rect x="1365.9" y="2910.5" width="8" height="48.5" fill="#60f0a0"/>
<rect x="1365.9" y="2958.6" width="8" height="21.3" fill="#90f870"/>
<rect x="1373.9" y="2764.4" width="18.4" height="13.2" fill="#70f890"/>
<rect x="1373.9" y="2777.3" width="18.4" height="27.7" fill="#f0f800"/>
<rect x="1373.9" y="2804.6" width="18.4" height="11.6" fill="#50f0b0"/>
<rect x="1373.9" y="2815.8" width="18.4" height="6.8" fill="#0020d8"/>
<rect x="1373.9" y="2822.2" width="18.4" height="18.1" fill="#0000a8"/>
<rect x="1373.9" y="2839.9" width="18.4" height="29.3" fill="#0000d8"/>
<rect x="1373.9" y="2868.8" width="18.4" height="16.4" fill="#0060ff"/>
<rect x="1373.9" y="2884.8" width="18.4" height="22.9" fill="#00f0f0"/>
<rect x="1373.9" y="2907.3" width="18.4" height="22.9" fill="#90f870"/>
<rect x="1373.9" y="2929.7" width="18.4" height="50.2" fill="#d0f830"/>
<rect x="1410.5" y="2764.4" width="9.6" height="6.8" fill="#0050ff"/>
<rect x="1410.5" y="2770.9" width="9.6" height="11.6" fill="#00d0ff"/>
<rect x="1410.5" y="2782.1" width="9.6" height="24.5" fill="#90f870"/>
<rect x="1410.5" y="2806.2" width="9.6" height="24.5" fill="#e8f818"/>
<rect x="1410.5" y="2830.2" width="9.6" height="24.5" fill="#ffc000"/>
<rect x="1410.5" y="2854.3" width="9.6" height="24.5" fill="#ff9000"/>
<rect x="1410.5" y="2878.4" width="9.6" height="32.5" fill="#ff7000"/>
<rect x="1410.5" y="2910.5" width="9.6" height="19.7" fill="#ff4000"/>
<rect x="1410.5" y="2929.7" width="9.6" height="50.2" fill="#ff2000"/>
<rect x="1420.1" y="2764.4" width="18.2" height="10" fill="#ffe000"/>
<rect x="1420.1" y="2774.1" width="18.2" height="8.4" fill="#80f880"/>
<rect x="1420.1" y="2782.1" width="18.2" height="21.3" fill="#00f0f0"/>
<rect x="1420.1" y="2803" width="18.2" height="18.1" fill="#00c0ff"/>
<rect x="1420.1" y="2820.6" width="18.2" height="21.3" fill="#0080ff"/>
<rect x="1420.1" y="2841.5" width="18.2" height="13.2" fill="#0030ff"/>
<rect x="1420.1" y="2854.3" width="18.2" height="16.4" fill="#0000d0"/>
<rect x="1420.1" y="2870.4" width="18.2" height="19.7" fill="#00a0ff"/>
<rect x="1420.1" y="2889.6" width="18.2" height="19.7" fill="#50f0b0"/>
<rect x="1420.1" y="2908.9" width="18.2" height="21.3" fill="#a8f850"/>
<rect x="1420.1" y="2929.7" width="18.2" height="27.7" fill="#f8f800"/>
<rect x="1420.1" y="2957" width="18.2" height="22.9" fill="#ffe000"/>
<rect x="1456.4" y="2764.4" width="29.3" height="6.8" fill="#0040ff"/>
<rect x="1456.4" y="2770.9" width="29.3" height="6.8" fill="#00d0ff"/>
<rect x="1456.4" y="2777.3" width="29.3" height="14.8" fill="#60f0a0"/>
<rect x="1456.4" y="2791.7" width="29.3" height="11.6" fill="#b8f840"/>
<rect x="1456.4" y="2803" width="29.3" height="14.8" fill="#f0f010"/>
<rect x="1456.4" y="2817.4" width="29.3" height="13.2" fill="#ffd000"/>
<rect x="1456.4" y="2830.2" width="29.3" height="16.4" fill="#ffb000"/>
<rect x="1456.4" y="2846.3" width="29.3" height="22.9" fill="#ff9800"/>
<rect x="1456.4" y="2868.8" width="29.3" height="21.3" fill="#ff7000"/>
<rect x="1456.4" y="2889.6" width="29.3" height="19.7" fill="#ff5000"/>
<rect x="1456.4" y="2908.9" width="29.3" height="21.3" fill="#ff3000"/>
<rect x="1456.4" y="2929.7" width="29.3" height="27.7" fill="#ff1000"/>
<rect x="1456.4" y="2957" width="29.3" height="22.9" fill="#e80000"/>
<rect x="1506.5" y="2764.4" width="8.3" height="6.8" fill="#0050ff"/>
<rect x="1506.5" y="2770.9" width="8.3" height="6.8" fill="#00e0ff"/>
<rect x="1506.5" y="2777.3" width="8.3" height="21.3" fill="#60f0a0"/>
<rect x="1506.5" y="2798.1" width="8.3" height="16.4" fill="#d8f828"/>
<rect x="1506.5" y="2814.2" width="8.3" height="16.4" fill="#ffe000"/>
<rect x="1506.5" y="2830.2" width="8.3" height="13.2" fill="#ffb000"/>
<rect x="1506.5" y="2843.1" width="8.3" height="136.8" fill="#800000"/>
<rect x="1514.8" y="2764.4" width="18.9" height="32.5" fill="#00ffff"/>
<rect x="1514.8" y="2796.5" width="18.9" height="5.2" fill="#40f0c0"/>
<rect x="1514.8" y="2801.4" width="18.9" height="6" fill="#c8f838"/>
<rect x="1514.8" y="2807" width="18.9" height="7.6" fill="#ffa000"/>
<rect x="1514.8" y="2814.2" width="18.9" height="8.4" fill="#ff3000"/>
<rect x="1514.8" y="2822.2" width="18.9" height="10" fill="#ff0000"/>
<rect x="1514.8" y="2831.8" width="18.9" height="11.6" fill="#e00000"/>
<rect x="1514.8" y="2843.1" width="18.9" height="136.8" fill="#800000"/>
<rect x="1558.8" y="2765.2" width="3.2" height="9.2" fill="#0030ff"/>
<rect x="1558.8" y="2774.1" width="3.2" height="24.5" fill="#60f0a0"/>
<rect x="1558.8" y="2798.1" width="3.2" height="32.5" fill="#e8f818"/>
<rect x="1558.8" y="2830.2" width="3.2" height="16.4" fill="#ffd000"/>
<rect x="1558.8" y="2846.3" width="3.2" height="16.4" fill="#ff8000"/>
<rect x="1558.8" y="2862.3" width="3.2" height="16.4" fill="#ff2000"/>
<rect x="1558.8" y="2878.4" width="3.2" height="101.5" fill="#e00000"/>
<rect x="1562" y="2765.2" width="19.2" height="3.6" fill="#000090"/>
<rect x="1562" y="2768.5" width="19.2" height="2.8" fill="#ffe000"/>
<rect x="1562" y="2770.9" width="19.2" height="8.4" fill="#ff2000"/>
<rect x="1562" y="2778.9" width="19.2" height="201" fill="#800000"/>
<rect x="1610.1" y="2764.4" width="17.6" height="5.2" fill="#0030ff"/>
<rect x="1610.1" y="2769.3" width="17.6" height="6.8" fill="#00d0ff"/>
<rect x="1610.1" y="2775.7" width="17.6" height="11.6" fill="#80f880"/>
<rect x="1610.1" y="2786.9" width="17.6" height="11.6" fill="#f0f010"/>
<rect x="1610.1" y="2798.1" width="17.6" height="24.5" fill="#ffd000"/>
<rect x="1610.1" y="2822.2" width="17.6" height="24.5" fill="#ffb000"/>
<rect x="1610.1" y="2846.3" width="17.6" height="32.5" fill="#ff9800"/>
<rect x="1610.1" y="2878.4" width="17.6" height="32.5" fill="#ff8000"/>
<rect x="1610.1" y="2910.5" width="17.6" height="32.5" fill="#ff6000"/>
<rect x="1610.1" y="2942.6" width="17.6" height="37.3" fill="#ff4000"/>
<rect x="1652.4" y="2764.8" width="20.3" height="7.2" fill="#0020f0"/>
<rect x="1652.4" y="2771.6" width="20.3" height="8.4" fill="#60f0a0"/>
<rect x="1652.4" y="2779.6" width="20.3" height="21.4" fill="#ff0000"/>
<rect x="1652.4" y="2800.6" width="20.3" height="7.8" fill="#c00000"/>
<rect x="1652.4" y="2808" width="20.3" height="15.2" fill="#800000"/>
<rect x="1652.4" y="2822.8" width="20.3" height="14" fill="#c00000"/>
<rect x="1652.4" y="2836.4" width="20.3" height="6.6" fill="#ff5000"/>
<rect x="1652.4" y="2842.6" width="20.3" height="16.4" fill="#f8f800"/>
<rect x="1652.4" y="2858.6" width="20.3" height="16.4" fill="#a8f850"/>
<rect x="1652.4" y="2874.7" width="20.3" height="21.4" fill="#d8f828"/>
<rect x="1652.4" y="2895.7" width="20.3" height="12.7" fill="#ff9000"/>
<rect x="1652.4" y="2908" width="20.3" height="23.9" fill="#ff2000"/>
<rect x="1652.4" y="2931.5" width="20.3" height="23.9" fill="#e00000"/>
<rect x="1652.4" y="2954.9" width="20.3" height="26.3" fill="#c00000"/>
<rect x="1701.6" y="2764.8" width="17.9" height="17.7" fill="#00f0f0"/>
<rect x="1701.6" y="2782.1" width="17.9" height="4.1" fill="#00d0ff"/>
<rect x="1701.6" y="2785.8" width="17.9" height="4.1" fill="#60f0a0"/>
<rect x="1701.6" y="2789.5" width="17.9" height="6.6" fill="#ff3000"/>
<rect x="1701.6" y="2795.7" width="17.9" height="185.6" fill="#800000"/>
<rect x="1740.2" y="2764.8" width="8.6" height="21.4" fill="#00e0ff"/>
<rect x="1740.2" y="2785.8" width="8.6" height="4.7" fill="#60f0a0"/>
<rect x="1740.2" y="2790.1" width="8.6" height="7.2" fill="#ff3000"/>
<rect x="1740.2" y="2796.9" width="8.6" height="184.4" fill="#800000"/>
<rect x="1748.8" y="2764.8" width="18.1" height="5.3" fill="#0030ff"/>
<rect x="1748.8" y="2769.8" width="18.1" height="5.3" fill="#00e0ff"/>
<rect x="1748.8" y="2774.7" width="18.1" height="12.7" fill="#80f880"/>
<rect x="1748.8" y="2787" width="18.1" height="12.7" fill="#e0f820"/>
<rect x="1748.8" y="2799.4" width="18.1" height="10.3" fill="#ffe000"/>
<rect x="1748.8" y="2809.3" width="18.1" height="15.2" fill="#ffc000"/>
<rect x="1748.8" y="2824.1" width="18.1" height="18.9" fill="#ff9000"/>
<rect x="1748.8" y="2842.6" width="18.1" height="31.3" fill="#ff6000"/>
<rect x="1748.8" y="2873.5" width="18.1" height="37.4" fill="#ff4000"/>
<rect x="1748.8" y="2910.5" width="18.1" height="70.8" fill="#ff2000"/>
<rect x="1775.5" y="2764.8" width="9.9" height="10.3" fill="#80f880"/>
<rect x="1775.5" y="2774.7" width="9.9" height="12.7" fill="#00c0ff"/>
<rect x="1775.5" y="2787" width="9.9" height="12.7" fill="#20e8e0"/>
<rect x="1775.5" y="2799.4" width="9.9" height="12.7" fill="#80f880"/>
<rect x="1775.5" y="2811.7" width="9.9" height="18.9" fill="#f0f010"/>
<rect x="1775.5" y="2830.2" width="9.9" height="18.9" fill="#ffb000"/>
<rect x="1775.5" y="2848.8" width="9.9" height="25.1" fill="#ff7000"/>
<rect x="1775.5" y="2873.5" width="9.9" height="31.3" fill="#ff3000"/>
<rect x="1775.5" y="2904.3" width="9.9" height="43.6" fill="#ff0000"/>
<rect x="1775.5" y="2947.5" width="9.9" height="33.7" fill="#d00000"/>
<rect x="1785.4" y="2764.8" width="19.1" height="2.9" fill="#a0a0a0"/>
<rect x="1785.4" y="2767.3" width="19.1" height="5.3" fill="#3f9088"/>
<rect x="1785.4" y="2772.2" width="19.1" height="6.6" fill="#e0b8f0"/>
<rect x="1785.4" y="2778.4" width="19.1" height="62.1" fill="#3f9088"/>
<rect x="1785.4" y="2840.1" width="19.1" height="57.2" fill="#d9b8fa"/>
<rect x="1785.4" y="2896.9" width="19.1" height="23.9" fill="#8c1cb8"/>
<rect x="1785.4" y="2920.4" width="19.1" height="60.9" fill="#cc0000"/>
<rect x="1804.4" y="2764.8" width="12.3" height="5.3" fill="#0030ff"/>
<rect x="1804.4" y="2769.8" width="12.3" height="5.3" fill="#00e0ff"/>
<rect x="1804.4" y="2774.7" width="12.3" height="12.7" fill="#80f880"/>
<rect x="1804.4" y="2787" width="12.3" height="15.2" fill="#f8f000"/>
<rect x="1804.4" y="2801.9" width="12.3" height="16.4" fill="#ffc000"/>
<rect x="1804.4" y="2817.9" width="12.3" height="18.9" fill="#ff9000"/>
<rect x="1804.4" y="2836.4" width="12.3" height="25.1" fill="#ff6000"/>
<rect x="1804.4" y="2861.1" width="12.3" height="49.8" fill="#ff4000"/>
<rect x="1804.4" y="2910.5" width="12.3" height="70.8" fill="#ff2000"/>
<line x1="130" y1="2971.7" x2="1951" y2="2971.7" stroke="#555" stroke-opacity="0.75" stroke-width="2.2"/>
<line x1="1798.8" y1="2914.2" x2="1816" y2="2914.2" stroke="#222" stroke-width="1.6"/>
<polyline points="1801.8,2910.7 1796.8,2914.2 1801.8,2917.7" fill="none" stroke="#222" stroke-width="1.4"/>
<text x="1669.2" y="2689" font-family="'Liberation Sans', Arial, sans-serif" font-size="54.5" font-weight="bold" fill="#ff0000" text-anchor="start" textLength="233.6" lengthAdjust="spacingAndGlyphs">19GA42S</text>
<polygon points="1790.8,2692 1809.3,2692 1809.3,2710.5 1820.1,2710.5 1797,2758 1773.8,2710.5 1790.8,2710.5" fill="#ff0000"/>
<text x="1847.9" y="2757.6" font-family="'Liberation Serif', 'Times New Roman', serif" font-size="53" fill="#000" textLength="61.4" lengthAdjust="spacingAndGlyphs">(<tspan font-weight="bold">h</tspan>)</text>
<rect x="2013.7" y="2756.8" width="34.3" height="213.4" fill="url(#jetg)" stroke="#c8c8d8" stroke-width="1"/>
<text x="2048.5" y="2771.8" font-family="'Liberation Sans', Arial, sans-serif" font-size="36.5" font-weight="bold" fill="#000" text-anchor="start" textLength="34.7" lengthAdjust="spacingAndGlyphs">10</text>
<text x="2086.8" y="2761.5" font-family="'Liberation Sans', Arial, sans-serif" font-size="24" font-weight="bold" fill="#000" text-anchor="start" textLength="29.7" lengthAdjust="spacingAndGlyphs">3.5</text>
<text x="2048.5" y="2859.2" font-family="'Liberation Sans', Arial, sans-serif" font-size="36.5" font-weight="bold" fill="#000" text-anchor="start" textLength="34.7" lengthAdjust="spacingAndGlyphs">10</text>
<text x="2086.8" y="2848.9" font-family="'Liberation Sans', Arial, sans-serif" font-size="24" font-weight="bold" fill="#000" text-anchor="start" textLength="29.7" lengthAdjust="spacingAndGlyphs">2.5</text>
<text x="2048.5" y="2944.1" font-family="'Liberation Sans', Arial, sans-serif" font-size="36.5" font-weight="bold" fill="#000" text-anchor="start" textLength="34.7" lengthAdjust="spacingAndGlyphs">10</text>
<text x="2086.8" y="2933.8" font-family="'Liberation Sans', Arial, sans-serif" font-size="24" font-weight="bold" fill="#000" text-anchor="start" textLength="29.7" lengthAdjust="spacingAndGlyphs">1.5</text>
<text x="2048.5" y="2991.2" font-family="'Liberation Sans', Arial, sans-serif" font-size="36.5" font-weight="bold" fill="#000" text-anchor="start" textLength="34.7" lengthAdjust="spacingAndGlyphs">10</text>
<text x="1995.7" y="2736" font-family="'Liberation Serif', 'Times New Roman', serif" font-size="36" font-weight="bold" fill="#000" text-anchor="start" textLength="56.5" lengthAdjust="spacingAndGlyphs" font-style="italic">&#937;<tspan font-style="italic">m</tspan></text>
</svg></body></html>
